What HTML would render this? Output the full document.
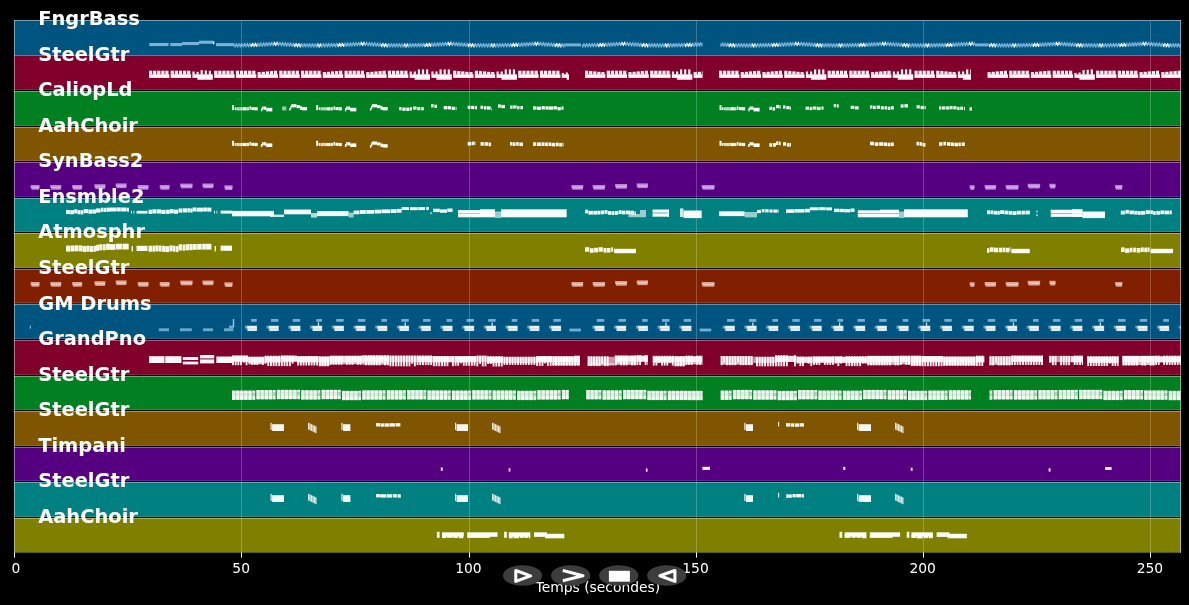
<!DOCTYPE html>
<html lang="fr">
<head>
<meta charset="utf-8">
<title>Piano roll</title>
<style>
html,body{margin:0;padding:0;background:#000;}
body{width:1189px;height:605px;overflow:hidden;position:relative;font-family:"DejaVu Sans","Liberation Sans",sans-serif;}
</style>
</head>
<body>
<svg width="1189" height="605" viewBox="0 0 1189 605" style="position:absolute;left:0;top:0">
<rect x="0" y="0" width="1189" height="605" fill="#000"/>
<rect x="14.00" y="20.00" width="1167.00" height="35.28" fill="#005580"/>
<rect x="14.00" y="55.23" width="1167.00" height="35.58" fill="#80002b"/>
<rect x="14.00" y="90.77" width="1167.00" height="35.58" fill="#008020"/>
<rect x="14.00" y="126.30" width="1167.00" height="35.58" fill="#805500"/>
<rect x="14.00" y="161.83" width="1167.00" height="35.58" fill="#550080"/>
<rect x="14.00" y="197.37" width="1167.00" height="35.58" fill="#008080"/>
<rect x="14.00" y="232.90" width="1167.00" height="35.58" fill="#808000"/>
<rect x="14.00" y="268.43" width="1167.00" height="35.58" fill="#802000"/>
<rect x="14.00" y="303.97" width="1167.00" height="35.58" fill="#005580"/>
<rect x="14.00" y="339.50" width="1167.00" height="35.58" fill="#80002b"/>
<rect x="14.00" y="375.03" width="1167.00" height="35.58" fill="#008020"/>
<rect x="14.00" y="410.57" width="1167.00" height="35.58" fill="#805500"/>
<rect x="14.00" y="446.10" width="1167.00" height="35.58" fill="#550080"/>
<rect x="14.00" y="481.63" width="1167.00" height="35.58" fill="#008080"/>
<rect x="14.00" y="517.17" width="1167.00" height="35.53" fill="#808000"/>
<g shape-rendering="crispEdges">
<rect x="14.0" y="55" width="1167.0" height="1" fill="#fff" fill-opacity="0.36"/>
<rect x="14.0" y="89" width="1167.0" height="1" fill="#fff" fill-opacity="0.12"/>
<rect x="14.0" y="90" width="1167.0" height="1" fill="#000" fill-opacity="1.00"/>
<rect x="14.0" y="91" width="1167.0" height="1" fill="#fff" fill-opacity="0.36"/>
<rect x="14.0" y="125" width="1167.0" height="1" fill="#fff" fill-opacity="0.12"/>
<rect x="14.0" y="126" width="1167.0" height="1" fill="#000" fill-opacity="1.00"/>
<rect x="14.0" y="127" width="1167.0" height="1" fill="#fff" fill-opacity="0.36"/>
<rect x="14.0" y="160" width="1167.0" height="1" fill="#fff" fill-opacity="0.12"/>
<rect x="14.0" y="161" width="1167.0" height="1" fill="#000" fill-opacity="1.00"/>
<rect x="14.0" y="162" width="1167.0" height="1" fill="#fff" fill-opacity="0.36"/>
<rect x="14.0" y="196" width="1167.0" height="1" fill="#fff" fill-opacity="0.12"/>
<rect x="14.0" y="197" width="1167.0" height="1" fill="#000" fill-opacity="1.00"/>
<rect x="14.0" y="198" width="1167.0" height="1" fill="#fff" fill-opacity="0.36"/>
<rect x="14.0" y="231" width="1167.0" height="1" fill="#fff" fill-opacity="0.12"/>
<rect x="14.0" y="232" width="1167.0" height="1" fill="#000" fill-opacity="1.00"/>
<rect x="14.0" y="233" width="1167.0" height="1" fill="#fff" fill-opacity="0.36"/>
<rect x="14.0" y="267" width="1167.0" height="1" fill="#fff" fill-opacity="0.12"/>
<rect x="14.0" y="268" width="1167.0" height="1" fill="#000" fill-opacity="1.00"/>
<rect x="14.0" y="269" width="1167.0" height="1" fill="#fff" fill-opacity="0.36"/>
<rect x="14.0" y="302" width="1167.0" height="1" fill="#fff" fill-opacity="0.12"/>
<rect x="14.0" y="303" width="1167.0" height="1" fill="#000" fill-opacity="0.30"/>
<rect x="14.0" y="304" width="1167.0" height="1" fill="#fff" fill-opacity="0.36"/>
<rect x="14.0" y="338" width="1167.0" height="1" fill="#fff" fill-opacity="0.12"/>
<rect x="14.0" y="339" width="1167.0" height="1" fill="#000" fill-opacity="1.00"/>
<rect x="14.0" y="340" width="1167.0" height="1" fill="#fff" fill-opacity="0.36"/>
<rect x="14.0" y="374" width="1167.0" height="1" fill="#fff" fill-opacity="0.12"/>
<rect x="14.0" y="375" width="1167.0" height="1" fill="#000" fill-opacity="1.00"/>
<rect x="14.0" y="376" width="1167.0" height="1" fill="#fff" fill-opacity="0.36"/>
<rect x="14.0" y="409" width="1167.0" height="1" fill="#fff" fill-opacity="0.12"/>
<rect x="14.0" y="410" width="1167.0" height="1" fill="#000" fill-opacity="1.00"/>
<rect x="14.0" y="411" width="1167.0" height="1" fill="#fff" fill-opacity="0.36"/>
<rect x="14.0" y="445" width="1167.0" height="1" fill="#fff" fill-opacity="0.12"/>
<rect x="14.0" y="446" width="1167.0" height="1" fill="#000" fill-opacity="1.00"/>
<rect x="14.0" y="447" width="1167.0" height="1" fill="#fff" fill-opacity="0.36"/>
<rect x="14.0" y="480" width="1167.0" height="1" fill="#fff" fill-opacity="0.12"/>
<rect x="14.0" y="481" width="1167.0" height="1" fill="#000" fill-opacity="1.00"/>
<rect x="14.0" y="482" width="1167.0" height="1" fill="#fff" fill-opacity="0.36"/>
<rect x="14.0" y="516" width="1167.0" height="1" fill="#fff" fill-opacity="0.12"/>
<rect x="14.0" y="517" width="1167.0" height="1" fill="#000" fill-opacity="1.00"/>
<rect x="14.0" y="518" width="1167.0" height="1" fill="#fff" fill-opacity="0.36"/>
<rect x="241" y="21" width="1" height="531.7" fill="#fff" fill-opacity="0.22"/>
<rect x="469" y="21" width="1" height="531.7" fill="#fff" fill-opacity="0.22"/>
<rect x="696" y="21" width="1" height="531.7" fill="#fff" fill-opacity="0.22"/>
<rect x="923" y="21" width="1" height="531.7" fill="#fff" fill-opacity="0.22"/>
<rect x="1150" y="21" width="1" height="531.7" fill="#fff" fill-opacity="0.22"/>
<rect x="14" y="20" width="1" height="532.7" fill="#fff" fill-opacity="0.45"/>
<rect x="1180" y="20" width="1" height="532.7" fill="#fff" fill-opacity="0.45"/>
<rect x="14" y="20" width="1167" height="1" fill="#fff" fill-opacity="0.45"/>
</g>
<g fill="#fff">
<rect x="149.3" y="43.0" width="19.3" height="3.1" fill="#a0d2f5" fill-opacity="0.75"/>
<rect x="170.3" y="43.0" width="11.7" height="3.1" fill="#a0d2f5" fill-opacity="0.75"/>
<rect x="182.0" y="42.0" width="10.0" height="3.1" fill="#a0d2f5" fill-opacity="0.75"/>
<rect x="192.0" y="42.0" width="7.0" height="3.1" fill="#a0d2f5" fill-opacity="0.75"/>
<rect x="199.0" y="40.7" width="14.0" height="3.1" fill="#a0d2f5" fill-opacity="0.75"/>
<rect x="216.0" y="43.1" width="17.0" height="3.1" fill="#a0d2f5" fill-opacity="0.75"/>
<rect x="213.0" y="41.2" width="1.3" height="3.2" fill-opacity="0.90"/>
<rect x="233.0" y="43.2" width="1.4" height="3.2" fill="#a0d2f5" fill-opacity="0.78"/>
<rect x="234.4" y="44.4" width="1.4" height="3.2" fill="#a0d2f5" fill-opacity="0.78"/>
<rect x="235.7" y="43.1" width="1.4" height="3.2" fill="#a0d2f5" fill-opacity="0.78"/>
<rect x="237.1" y="44.3" width="1.4" height="3.2" fill="#a0d2f5" fill-opacity="0.78"/>
<rect x="238.4" y="43.1" width="1.4" height="3.2" fill="#a0d2f5" fill-opacity="0.78"/>
<rect x="239.8" y="44.2" width="1.4" height="3.2" fill="#a0d2f5" fill-opacity="0.78"/>
<rect x="241.1" y="43.0" width="1.4" height="3.2" fill="#a0d2f5" fill-opacity="0.78"/>
<rect x="242.5" y="44.2" width="1.4" height="3.2" fill="#a0d2f5" fill-opacity="0.78"/>
<rect x="243.9" y="42.9" width="1.4" height="3.2" fill="#a0d2f5" fill-opacity="0.78"/>
<rect x="245.2" y="44.1" width="1.4" height="3.2" fill="#a0d2f5" fill-opacity="0.78"/>
<rect x="246.6" y="42.9" width="1.4" height="3.2" fill="#a0d2f5" fill-opacity="0.78"/>
<rect x="247.9" y="44.1" width="1.4" height="3.2" fill="#a0d2f5" fill-opacity="0.78"/>
<rect x="249.3" y="42.8" width="1.4" height="3.2" fill="#a0d2f5" fill-opacity="0.78"/>
<rect x="250.6" y="44.0" width="1.4" height="3.2" fill-opacity="0.95"/>
<rect x="252.0" y="42.8" width="1.4" height="3.2" fill-opacity="0.95"/>
<rect x="253.4" y="43.9" width="1.4" height="3.2" fill-opacity="0.95"/>
<rect x="254.7" y="42.7" width="1.4" height="3.2" fill-opacity="0.95"/>
<rect x="256.1" y="43.8" width="1.4" height="3.2" fill-opacity="0.95"/>
<rect x="257.4" y="42.6" width="1.4" height="3.2" fill="#a0d2f5" fill-opacity="0.78"/>
<rect x="258.8" y="43.7" width="1.4" height="3.2" fill="#a0d2f5" fill-opacity="0.78"/>
<rect x="260.1" y="42.4" width="1.4" height="3.2" fill="#a0d2f5" fill-opacity="0.78"/>
<rect x="261.5" y="43.6" width="1.4" height="3.2" fill="#a0d2f5" fill-opacity="0.78"/>
<rect x="262.9" y="42.3" width="1.4" height="3.2" fill="#a0d2f5" fill-opacity="0.78"/>
<rect x="264.2" y="43.4" width="1.4" height="3.2" fill="#a0d2f5" fill-opacity="0.78"/>
<rect x="265.6" y="42.1" width="1.4" height="3.2" fill="#a0d2f5" fill-opacity="0.78"/>
<rect x="266.9" y="43.3" width="1.4" height="3.2" fill="#a0d2f5" fill-opacity="0.78"/>
<rect x="268.3" y="42.0" width="1.4" height="3.2" fill="#a0d2f5" fill-opacity="0.78"/>
<rect x="269.7" y="43.1" width="1.4" height="3.2" fill="#a0d2f5" fill-opacity="0.78"/>
<rect x="271.0" y="41.9" width="1.4" height="3.2" fill="#a0d2f5" fill-opacity="0.78"/>
<rect x="272.4" y="43.0" width="1.4" height="3.2" fill="#a0d2f5" fill-opacity="0.78"/>
<rect x="273.7" y="41.7" width="1.4" height="3.2" fill-opacity="0.95"/>
<rect x="275.1" y="42.9" width="1.4" height="3.2" fill-opacity="0.95"/>
<rect x="276.4" y="41.6" width="1.4" height="3.2" fill-opacity="0.95"/>
<rect x="277.8" y="42.9" width="1.4" height="3.2" fill="#a0d2f5" fill-opacity="0.78"/>
<rect x="279.2" y="41.8" width="1.4" height="3.2" fill="#a0d2f5" fill-opacity="0.78"/>
<rect x="280.5" y="43.1" width="1.4" height="3.2" fill="#a0d2f5" fill-opacity="0.78"/>
<rect x="281.9" y="42.0" width="1.4" height="3.2" fill="#a0d2f5" fill-opacity="0.78"/>
<rect x="283.2" y="43.3" width="1.4" height="3.2" fill="#a0d2f5" fill-opacity="0.78"/>
<rect x="284.6" y="42.2" width="1.4" height="3.2" fill="#a0d2f5" fill-opacity="0.78"/>
<rect x="285.9" y="43.5" width="1.4" height="3.2" fill="#a0d2f5" fill-opacity="0.78"/>
<rect x="287.3" y="42.3" width="1.4" height="3.2" fill="#a0d2f5" fill-opacity="0.78"/>
<rect x="288.7" y="43.6" width="1.4" height="3.2" fill="#a0d2f5" fill-opacity="0.78"/>
<rect x="290.0" y="42.5" width="1.4" height="3.2" fill="#a0d2f5" fill-opacity="0.78"/>
<rect x="291.4" y="43.8" width="1.4" height="3.2" fill="#a0d2f5" fill-opacity="0.78"/>
<rect x="292.7" y="42.7" width="1.4" height="3.2" fill="#a0d2f5" fill-opacity="0.78"/>
<rect x="294.1" y="44.0" width="1.4" height="3.2" fill-opacity="0.95"/>
<rect x="295.4" y="42.9" width="1.4" height="3.2" fill-opacity="0.95"/>
<rect x="296.8" y="44.2" width="1.4" height="3.2" fill-opacity="0.95"/>
<rect x="298.2" y="43.1" width="1.4" height="3.2" fill-opacity="0.95"/>
<rect x="299.5" y="44.3" width="1.4" height="3.2" fill-opacity="0.95"/>
<rect x="300.9" y="43.1" width="1.4" height="3.2" fill="#a0d2f5" fill-opacity="0.78"/>
<rect x="302.2" y="44.3" width="1.4" height="3.2" fill="#a0d2f5" fill-opacity="0.78"/>
<rect x="303.6" y="43.1" width="1.4" height="3.2" fill="#a0d2f5" fill-opacity="0.78"/>
<rect x="304.9" y="44.3" width="1.4" height="3.2" fill="#a0d2f5" fill-opacity="0.78"/>
<rect x="306.3" y="43.1" width="1.4" height="3.2" fill="#a0d2f5" fill-opacity="0.78"/>
<rect x="307.7" y="44.3" width="1.4" height="3.2" fill="#a0d2f5" fill-opacity="0.78"/>
<rect x="309.0" y="43.1" width="1.4" height="3.2" fill="#a0d2f5" fill-opacity="0.78"/>
<rect x="310.4" y="44.4" width="1.4" height="3.2" fill="#a0d2f5" fill-opacity="0.78"/>
<rect x="311.7" y="43.2" width="1.4" height="3.2" fill="#a0d2f5" fill-opacity="0.78"/>
<rect x="313.1" y="44.4" width="1.4" height="3.2" fill="#a0d2f5" fill-opacity="0.78"/>
<rect x="314.4" y="43.2" width="1.4" height="3.2" fill="#a0d2f5" fill-opacity="0.78"/>
<rect x="315.8" y="44.4" width="1.4" height="3.2" fill="#a0d2f5" fill-opacity="0.78"/>
<rect x="317.2" y="43.2" width="1.4" height="3.2" fill-opacity="0.95"/>
<rect x="318.5" y="44.4" width="1.4" height="3.2" fill-opacity="0.95"/>
<rect x="319.9" y="43.2" width="1.4" height="3.2" fill-opacity="0.95"/>
<rect x="321.2" y="44.4" width="1.4" height="3.2" fill="#a0d2f5" fill-opacity="0.78"/>
<rect x="322.6" y="43.1" width="1.4" height="3.2" fill="#a0d2f5" fill-opacity="0.78"/>
<rect x="324.0" y="44.3" width="1.4" height="3.2" fill="#a0d2f5" fill-opacity="0.78"/>
<rect x="325.3" y="43.1" width="1.4" height="3.2" fill="#a0d2f5" fill-opacity="0.78"/>
<rect x="326.7" y="44.2" width="1.4" height="3.2" fill="#a0d2f5" fill-opacity="0.78"/>
<rect x="328.0" y="43.0" width="1.4" height="3.2" fill="#a0d2f5" fill-opacity="0.78"/>
<rect x="329.4" y="44.2" width="1.4" height="3.2" fill="#a0d2f5" fill-opacity="0.78"/>
<rect x="330.7" y="42.9" width="1.4" height="3.2" fill="#a0d2f5" fill-opacity="0.78"/>
<rect x="332.1" y="44.1" width="1.4" height="3.2" fill="#a0d2f5" fill-opacity="0.78"/>
<rect x="333.5" y="42.9" width="1.4" height="3.2" fill="#a0d2f5" fill-opacity="0.78"/>
<rect x="334.8" y="44.1" width="1.4" height="3.2" fill="#a0d2f5" fill-opacity="0.78"/>
<rect x="336.2" y="42.8" width="1.4" height="3.2" fill="#a0d2f5" fill-opacity="0.78"/>
<rect x="337.5" y="44.0" width="1.4" height="3.2" fill-opacity="0.95"/>
<rect x="338.9" y="42.8" width="1.4" height="3.2" fill-opacity="0.95"/>
<rect x="340.2" y="43.9" width="1.4" height="3.2" fill-opacity="0.95"/>
<rect x="341.6" y="42.7" width="1.4" height="3.2" fill-opacity="0.95"/>
<rect x="343.0" y="43.8" width="1.4" height="3.2" fill-opacity="0.95"/>
<rect x="344.3" y="42.6" width="1.4" height="3.2" fill="#a0d2f5" fill-opacity="0.78"/>
<rect x="345.7" y="43.7" width="1.4" height="3.2" fill="#a0d2f5" fill-opacity="0.78"/>
<rect x="347.0" y="42.4" width="1.4" height="3.2" fill="#a0d2f5" fill-opacity="0.78"/>
<rect x="348.4" y="43.6" width="1.4" height="3.2" fill="#a0d2f5" fill-opacity="0.78"/>
<rect x="349.7" y="42.3" width="1.4" height="3.2" fill="#a0d2f5" fill-opacity="0.78"/>
<rect x="351.1" y="43.4" width="1.4" height="3.2" fill="#a0d2f5" fill-opacity="0.78"/>
<rect x="352.5" y="42.1" width="1.4" height="3.2" fill="#a0d2f5" fill-opacity="0.78"/>
<rect x="353.8" y="43.3" width="1.4" height="3.2" fill="#a0d2f5" fill-opacity="0.78"/>
<rect x="355.2" y="42.0" width="1.4" height="3.2" fill="#a0d2f5" fill-opacity="0.78"/>
<rect x="356.5" y="43.1" width="1.4" height="3.2" fill="#a0d2f5" fill-opacity="0.78"/>
<rect x="357.9" y="41.9" width="1.4" height="3.2" fill="#a0d2f5" fill-opacity="0.78"/>
<rect x="359.2" y="43.0" width="1.4" height="3.2" fill="#a0d2f5" fill-opacity="0.78"/>
<rect x="360.6" y="41.7" width="1.4" height="3.2" fill-opacity="0.95"/>
<rect x="362.0" y="42.9" width="1.4" height="3.2" fill-opacity="0.95"/>
<rect x="363.3" y="41.6" width="1.4" height="3.2" fill-opacity="0.95"/>
<rect x="364.7" y="42.9" width="1.4" height="3.2" fill="#a0d2f5" fill-opacity="0.78"/>
<rect x="366.0" y="41.8" width="1.4" height="3.2" fill="#a0d2f5" fill-opacity="0.78"/>
<rect x="367.4" y="43.1" width="1.4" height="3.2" fill="#a0d2f5" fill-opacity="0.78"/>
<rect x="368.8" y="42.0" width="1.4" height="3.2" fill="#a0d2f5" fill-opacity="0.78"/>
<rect x="370.1" y="43.3" width="1.4" height="3.2" fill="#a0d2f5" fill-opacity="0.78"/>
<rect x="371.5" y="42.2" width="1.4" height="3.2" fill="#a0d2f5" fill-opacity="0.78"/>
<rect x="372.8" y="43.5" width="1.4" height="3.2" fill="#a0d2f5" fill-opacity="0.78"/>
<rect x="374.2" y="42.3" width="1.4" height="3.2" fill="#a0d2f5" fill-opacity="0.78"/>
<rect x="375.5" y="43.6" width="1.4" height="3.2" fill="#a0d2f5" fill-opacity="0.78"/>
<rect x="376.9" y="42.5" width="1.4" height="3.2" fill="#a0d2f5" fill-opacity="0.78"/>
<rect x="378.3" y="43.8" width="1.4" height="3.2" fill="#a0d2f5" fill-opacity="0.78"/>
<rect x="379.6" y="42.7" width="1.4" height="3.2" fill="#a0d2f5" fill-opacity="0.78"/>
<rect x="381.0" y="44.0" width="1.4" height="3.2" fill-opacity="0.95"/>
<rect x="382.3" y="42.9" width="1.4" height="3.2" fill-opacity="0.95"/>
<rect x="383.7" y="44.2" width="1.4" height="3.2" fill-opacity="0.95"/>
<rect x="385.0" y="43.1" width="1.4" height="3.2" fill-opacity="0.95"/>
<rect x="386.4" y="44.3" width="1.4" height="3.2" fill-opacity="0.95"/>
<rect x="387.8" y="43.1" width="1.4" height="3.2" fill="#a0d2f5" fill-opacity="0.78"/>
<rect x="389.1" y="44.3" width="1.4" height="3.2" fill="#a0d2f5" fill-opacity="0.78"/>
<rect x="390.5" y="43.1" width="1.4" height="3.2" fill="#a0d2f5" fill-opacity="0.78"/>
<rect x="391.8" y="44.3" width="1.4" height="3.2" fill="#a0d2f5" fill-opacity="0.78"/>
<rect x="393.2" y="43.1" width="1.4" height="3.2" fill="#a0d2f5" fill-opacity="0.78"/>
<rect x="394.5" y="44.3" width="1.4" height="3.2" fill="#a0d2f5" fill-opacity="0.78"/>
<rect x="395.9" y="43.1" width="1.4" height="3.2" fill="#a0d2f5" fill-opacity="0.78"/>
<rect x="397.3" y="44.4" width="1.4" height="3.2" fill="#a0d2f5" fill-opacity="0.78"/>
<rect x="398.6" y="43.2" width="1.4" height="3.2" fill="#a0d2f5" fill-opacity="0.78"/>
<rect x="400.0" y="44.4" width="1.4" height="3.2" fill="#a0d2f5" fill-opacity="0.78"/>
<rect x="401.3" y="43.2" width="1.4" height="3.2" fill="#a0d2f5" fill-opacity="0.78"/>
<rect x="402.7" y="44.4" width="1.4" height="3.2" fill="#a0d2f5" fill-opacity="0.78"/>
<rect x="404.0" y="43.2" width="1.4" height="3.2" fill-opacity="0.95"/>
<rect x="405.4" y="44.4" width="1.4" height="3.2" fill-opacity="0.95"/>
<rect x="406.8" y="43.2" width="1.4" height="3.2" fill-opacity="0.95"/>
<rect x="408.1" y="44.4" width="1.4" height="3.2" fill="#a0d2f5" fill-opacity="0.78"/>
<rect x="409.5" y="43.1" width="1.4" height="3.2" fill="#a0d2f5" fill-opacity="0.78"/>
<rect x="410.8" y="44.3" width="1.4" height="3.2" fill="#a0d2f5" fill-opacity="0.78"/>
<rect x="412.2" y="43.1" width="1.4" height="3.2" fill="#a0d2f5" fill-opacity="0.78"/>
<rect x="413.5" y="44.2" width="1.4" height="3.2" fill="#a0d2f5" fill-opacity="0.78"/>
<rect x="414.9" y="43.0" width="1.4" height="3.2" fill="#a0d2f5" fill-opacity="0.78"/>
<rect x="416.3" y="44.2" width="1.4" height="3.2" fill="#a0d2f5" fill-opacity="0.78"/>
<rect x="417.6" y="42.9" width="1.4" height="3.2" fill="#a0d2f5" fill-opacity="0.78"/>
<rect x="419.0" y="44.1" width="1.4" height="3.2" fill="#a0d2f5" fill-opacity="0.78"/>
<rect x="420.3" y="42.9" width="1.4" height="3.2" fill="#a0d2f5" fill-opacity="0.78"/>
<rect x="421.7" y="44.1" width="1.4" height="3.2" fill="#a0d2f5" fill-opacity="0.78"/>
<rect x="423.0" y="42.8" width="1.4" height="3.2" fill="#a0d2f5" fill-opacity="0.78"/>
<rect x="424.4" y="44.0" width="1.4" height="3.2" fill-opacity="0.95"/>
<rect x="425.8" y="42.8" width="1.4" height="3.2" fill-opacity="0.95"/>
<rect x="427.1" y="43.9" width="1.4" height="3.2" fill-opacity="0.95"/>
<rect x="428.5" y="42.7" width="1.4" height="3.2" fill-opacity="0.95"/>
<rect x="429.8" y="43.8" width="1.4" height="3.2" fill-opacity="0.95"/>
<rect x="431.2" y="42.6" width="1.4" height="3.2" fill="#a0d2f5" fill-opacity="0.78"/>
<rect x="432.6" y="43.7" width="1.4" height="3.2" fill="#a0d2f5" fill-opacity="0.78"/>
<rect x="433.9" y="42.4" width="1.4" height="3.2" fill="#a0d2f5" fill-opacity="0.78"/>
<rect x="435.3" y="43.6" width="1.4" height="3.2" fill="#a0d2f5" fill-opacity="0.78"/>
<rect x="436.6" y="42.3" width="1.4" height="3.2" fill="#a0d2f5" fill-opacity="0.78"/>
<rect x="438.0" y="43.4" width="1.4" height="3.2" fill="#a0d2f5" fill-opacity="0.78"/>
<rect x="439.3" y="42.1" width="1.4" height="3.2" fill="#a0d2f5" fill-opacity="0.78"/>
<rect x="440.7" y="43.3" width="1.4" height="3.2" fill="#a0d2f5" fill-opacity="0.78"/>
<rect x="442.1" y="42.0" width="1.4" height="3.2" fill="#a0d2f5" fill-opacity="0.78"/>
<rect x="443.4" y="43.1" width="1.4" height="3.2" fill="#a0d2f5" fill-opacity="0.78"/>
<rect x="444.8" y="41.9" width="1.4" height="3.2" fill="#a0d2f5" fill-opacity="0.78"/>
<rect x="446.1" y="43.0" width="1.4" height="3.2" fill="#a0d2f5" fill-opacity="0.78"/>
<rect x="447.5" y="41.7" width="1.4" height="3.2" fill-opacity="0.95"/>
<rect x="448.8" y="42.9" width="1.4" height="3.2" fill-opacity="0.95"/>
<rect x="450.2" y="41.6" width="1.4" height="3.2" fill-opacity="0.95"/>
<rect x="451.6" y="42.9" width="1.4" height="3.2" fill="#a0d2f5" fill-opacity="0.78"/>
<rect x="452.9" y="41.8" width="1.4" height="3.2" fill="#a0d2f5" fill-opacity="0.78"/>
<rect x="454.3" y="43.1" width="1.4" height="3.2" fill="#a0d2f5" fill-opacity="0.78"/>
<rect x="455.6" y="42.0" width="1.4" height="3.2" fill="#a0d2f5" fill-opacity="0.78"/>
<rect x="457.0" y="43.3" width="1.4" height="3.2" fill="#a0d2f5" fill-opacity="0.78"/>
<rect x="458.3" y="42.2" width="1.4" height="3.2" fill="#a0d2f5" fill-opacity="0.78"/>
<rect x="459.7" y="43.5" width="1.4" height="3.2" fill="#a0d2f5" fill-opacity="0.78"/>
<rect x="461.1" y="42.3" width="1.4" height="3.2" fill="#a0d2f5" fill-opacity="0.78"/>
<rect x="462.4" y="43.6" width="1.4" height="3.2" fill="#a0d2f5" fill-opacity="0.78"/>
<rect x="463.8" y="42.5" width="1.4" height="3.2" fill="#a0d2f5" fill-opacity="0.78"/>
<rect x="465.1" y="43.8" width="1.4" height="3.2" fill="#a0d2f5" fill-opacity="0.78"/>
<rect x="466.5" y="42.7" width="1.4" height="3.2" fill="#a0d2f5" fill-opacity="0.78"/>
<rect x="467.8" y="44.0" width="1.4" height="3.2" fill-opacity="0.95"/>
<rect x="469.2" y="42.9" width="1.4" height="3.2" fill-opacity="0.95"/>
<rect x="470.6" y="44.2" width="1.4" height="3.2" fill-opacity="0.95"/>
<rect x="471.9" y="43.1" width="1.4" height="3.2" fill-opacity="0.95"/>
<rect x="473.3" y="44.3" width="1.4" height="3.2" fill-opacity="0.95"/>
<rect x="474.6" y="43.1" width="1.4" height="3.2" fill="#a0d2f5" fill-opacity="0.78"/>
<rect x="476.0" y="44.3" width="1.4" height="3.2" fill="#a0d2f5" fill-opacity="0.78"/>
<rect x="477.4" y="43.1" width="1.4" height="3.2" fill="#a0d2f5" fill-opacity="0.78"/>
<rect x="478.7" y="44.3" width="1.4" height="3.2" fill="#a0d2f5" fill-opacity="0.78"/>
<rect x="480.1" y="43.1" width="1.4" height="3.2" fill="#a0d2f5" fill-opacity="0.78"/>
<rect x="481.4" y="44.3" width="1.4" height="3.2" fill="#a0d2f5" fill-opacity="0.78"/>
<rect x="482.8" y="43.1" width="1.4" height="3.2" fill="#a0d2f5" fill-opacity="0.78"/>
<rect x="484.1" y="44.4" width="1.4" height="3.2" fill="#a0d2f5" fill-opacity="0.78"/>
<rect x="485.5" y="43.2" width="1.4" height="3.2" fill="#a0d2f5" fill-opacity="0.78"/>
<rect x="486.9" y="44.4" width="1.4" height="3.2" fill="#a0d2f5" fill-opacity="0.78"/>
<rect x="488.2" y="43.2" width="1.4" height="3.2" fill="#a0d2f5" fill-opacity="0.78"/>
<rect x="489.6" y="44.4" width="1.4" height="3.2" fill="#a0d2f5" fill-opacity="0.78"/>
<rect x="490.9" y="43.2" width="1.4" height="3.2" fill-opacity="0.95"/>
<rect x="492.3" y="44.4" width="1.4" height="3.2" fill-opacity="0.95"/>
<rect x="493.6" y="43.2" width="1.4" height="3.2" fill-opacity="0.95"/>
<rect x="495.0" y="44.4" width="1.4" height="3.2" fill="#a0d2f5" fill-opacity="0.78"/>
<rect x="496.4" y="43.1" width="1.4" height="3.2" fill="#a0d2f5" fill-opacity="0.78"/>
<rect x="497.7" y="44.3" width="1.4" height="3.2" fill="#a0d2f5" fill-opacity="0.78"/>
<rect x="499.1" y="43.1" width="1.4" height="3.2" fill="#a0d2f5" fill-opacity="0.78"/>
<rect x="500.4" y="44.2" width="1.4" height="3.2" fill="#a0d2f5" fill-opacity="0.78"/>
<rect x="501.8" y="43.0" width="1.4" height="3.2" fill="#a0d2f5" fill-opacity="0.78"/>
<rect x="503.1" y="44.2" width="1.4" height="3.2" fill="#a0d2f5" fill-opacity="0.78"/>
<rect x="504.5" y="42.9" width="1.4" height="3.2" fill="#a0d2f5" fill-opacity="0.78"/>
<rect x="505.9" y="44.1" width="1.4" height="3.2" fill="#a0d2f5" fill-opacity="0.78"/>
<rect x="507.2" y="42.9" width="1.4" height="3.2" fill="#a0d2f5" fill-opacity="0.78"/>
<rect x="508.6" y="44.1" width="1.4" height="3.2" fill="#a0d2f5" fill-opacity="0.78"/>
<rect x="509.9" y="42.8" width="1.4" height="3.2" fill="#a0d2f5" fill-opacity="0.78"/>
<rect x="511.3" y="44.0" width="1.4" height="3.2" fill-opacity="0.95"/>
<rect x="512.6" y="42.8" width="1.4" height="3.2" fill-opacity="0.95"/>
<rect x="514.0" y="43.9" width="1.4" height="3.2" fill-opacity="0.95"/>
<rect x="515.4" y="42.7" width="1.4" height="3.2" fill-opacity="0.95"/>
<rect x="516.7" y="43.8" width="1.4" height="3.2" fill-opacity="0.95"/>
<rect x="518.1" y="42.6" width="1.4" height="3.2" fill="#a0d2f5" fill-opacity="0.78"/>
<rect x="519.4" y="43.7" width="1.4" height="3.2" fill="#a0d2f5" fill-opacity="0.78"/>
<rect x="520.8" y="42.4" width="1.4" height="3.2" fill="#a0d2f5" fill-opacity="0.78"/>
<rect x="522.1" y="43.6" width="1.4" height="3.2" fill="#a0d2f5" fill-opacity="0.78"/>
<rect x="523.5" y="42.3" width="1.4" height="3.2" fill="#a0d2f5" fill-opacity="0.78"/>
<rect x="524.9" y="43.4" width="1.4" height="3.2" fill="#a0d2f5" fill-opacity="0.78"/>
<rect x="526.2" y="42.1" width="1.4" height="3.2" fill="#a0d2f5" fill-opacity="0.78"/>
<rect x="527.6" y="43.3" width="1.4" height="3.2" fill="#a0d2f5" fill-opacity="0.78"/>
<rect x="528.9" y="42.0" width="1.4" height="3.2" fill="#a0d2f5" fill-opacity="0.78"/>
<rect x="530.3" y="43.1" width="1.4" height="3.2" fill="#a0d2f5" fill-opacity="0.78"/>
<rect x="531.6" y="41.9" width="1.4" height="3.2" fill="#a0d2f5" fill-opacity="0.78"/>
<rect x="533.0" y="43.0" width="1.4" height="3.2" fill="#a0d2f5" fill-opacity="0.78"/>
<rect x="534.4" y="41.7" width="1.4" height="3.2" fill-opacity="0.95"/>
<rect x="535.7" y="42.9" width="1.4" height="3.2" fill-opacity="0.95"/>
<rect x="537.1" y="41.6" width="1.4" height="3.2" fill-opacity="0.95"/>
<rect x="538.4" y="42.9" width="1.4" height="3.2" fill="#a0d2f5" fill-opacity="0.78"/>
<rect x="539.8" y="41.8" width="1.4" height="3.2" fill="#a0d2f5" fill-opacity="0.78"/>
<rect x="541.2" y="43.1" width="1.4" height="3.2" fill="#a0d2f5" fill-opacity="0.78"/>
<rect x="542.5" y="42.0" width="1.4" height="3.2" fill="#a0d2f5" fill-opacity="0.78"/>
<rect x="543.9" y="43.3" width="1.4" height="3.2" fill="#a0d2f5" fill-opacity="0.78"/>
<rect x="545.2" y="42.2" width="1.4" height="3.2" fill="#a0d2f5" fill-opacity="0.78"/>
<rect x="546.6" y="43.5" width="1.4" height="3.2" fill="#a0d2f5" fill-opacity="0.78"/>
<rect x="547.9" y="42.4" width="1.4" height="3.2" fill="#a0d2f5" fill-opacity="0.78"/>
<rect x="549.3" y="43.6" width="1.4" height="3.2" fill="#a0d2f5" fill-opacity="0.78"/>
<rect x="550.7" y="42.5" width="1.4" height="3.2" fill="#a0d2f5" fill-opacity="0.78"/>
<rect x="552.0" y="43.8" width="1.4" height="3.2" fill="#a0d2f5" fill-opacity="0.78"/>
<rect x="553.4" y="42.7" width="1.4" height="3.2" fill="#a0d2f5" fill-opacity="0.78"/>
<rect x="554.7" y="44.0" width="1.4" height="3.2" fill-opacity="0.95"/>
<rect x="556.1" y="42.9" width="1.4" height="3.2" fill-opacity="0.95"/>
<rect x="557.4" y="44.2" width="1.4" height="3.2" fill-opacity="0.95"/>
<rect x="558.8" y="43.1" width="1.4" height="3.2" fill-opacity="0.95"/>
<rect x="560.2" y="44.3" width="1.4" height="3.2" fill-opacity="0.95"/>
<rect x="561.5" y="43.1" width="1.4" height="3.2" fill="#a0d2f5" fill-opacity="0.78"/>
<rect x="562.9" y="44.3" width="1.4" height="3.2" fill="#a0d2f5" fill-opacity="0.78"/>
<rect x="564.2" y="43.1" width="1.4" height="3.2" fill="#a0d2f5" fill-opacity="0.78"/>
<rect x="565.6" y="44.3" width="0.4" height="3.2" fill="#a0d2f5" fill-opacity="0.78"/>
<rect x="566.0" y="43.4" width="15.0" height="3.0" fill="#a0d2f5" fill-opacity="0.72"/>
<rect x="581.9" y="44.4" width="1.4" height="3.2" fill="#a0d2f5" fill-opacity="0.78"/>
<rect x="583.2" y="43.1" width="1.4" height="3.2" fill="#a0d2f5" fill-opacity="0.78"/>
<rect x="584.6" y="44.3" width="1.4" height="3.2" fill="#a0d2f5" fill-opacity="0.78"/>
<rect x="586.0" y="43.1" width="1.4" height="3.2" fill="#a0d2f5" fill-opacity="0.78"/>
<rect x="587.3" y="44.2" width="1.4" height="3.2" fill="#a0d2f5" fill-opacity="0.78"/>
<rect x="588.7" y="43.0" width="1.4" height="3.2" fill="#a0d2f5" fill-opacity="0.78"/>
<rect x="590.0" y="44.2" width="1.4" height="3.2" fill="#a0d2f5" fill-opacity="0.78"/>
<rect x="591.4" y="42.9" width="1.4" height="3.2" fill="#a0d2f5" fill-opacity="0.78"/>
<rect x="592.7" y="44.1" width="1.4" height="3.2" fill="#a0d2f5" fill-opacity="0.78"/>
<rect x="594.1" y="42.9" width="1.4" height="3.2" fill="#a0d2f5" fill-opacity="0.78"/>
<rect x="595.5" y="44.1" width="1.4" height="3.2" fill="#a0d2f5" fill-opacity="0.78"/>
<rect x="596.8" y="42.8" width="1.4" height="3.2" fill="#a0d2f5" fill-opacity="0.78"/>
<rect x="598.2" y="44.0" width="1.4" height="3.2" fill-opacity="0.95"/>
<rect x="599.5" y="42.8" width="1.4" height="3.2" fill-opacity="0.95"/>
<rect x="600.9" y="43.9" width="1.4" height="3.2" fill-opacity="0.95"/>
<rect x="602.2" y="42.7" width="1.4" height="3.2" fill-opacity="0.95"/>
<rect x="603.6" y="43.8" width="1.4" height="3.2" fill-opacity="0.95"/>
<rect x="605.0" y="42.6" width="1.4" height="3.2" fill="#a0d2f5" fill-opacity="0.78"/>
<rect x="606.3" y="43.7" width="1.4" height="3.2" fill="#a0d2f5" fill-opacity="0.78"/>
<rect x="607.7" y="42.4" width="1.4" height="3.2" fill="#a0d2f5" fill-opacity="0.78"/>
<rect x="609.0" y="43.6" width="1.4" height="3.2" fill="#a0d2f5" fill-opacity="0.78"/>
<rect x="610.4" y="42.3" width="1.4" height="3.2" fill="#a0d2f5" fill-opacity="0.78"/>
<rect x="611.7" y="43.4" width="1.4" height="3.2" fill="#a0d2f5" fill-opacity="0.78"/>
<rect x="613.1" y="42.1" width="1.4" height="3.2" fill="#a0d2f5" fill-opacity="0.78"/>
<rect x="614.5" y="43.3" width="1.4" height="3.2" fill="#a0d2f5" fill-opacity="0.78"/>
<rect x="615.8" y="42.0" width="1.4" height="3.2" fill="#a0d2f5" fill-opacity="0.78"/>
<rect x="617.2" y="43.1" width="1.4" height="3.2" fill="#a0d2f5" fill-opacity="0.78"/>
<rect x="618.5" y="41.9" width="1.4" height="3.2" fill="#a0d2f5" fill-opacity="0.78"/>
<rect x="619.9" y="43.0" width="1.4" height="3.2" fill="#a0d2f5" fill-opacity="0.78"/>
<rect x="621.2" y="41.7" width="1.4" height="3.2" fill-opacity="0.95"/>
<rect x="622.6" y="42.9" width="1.4" height="3.2" fill-opacity="0.95"/>
<rect x="624.0" y="41.6" width="1.4" height="3.2" fill-opacity="0.95"/>
<rect x="625.3" y="42.9" width="1.4" height="3.2" fill="#a0d2f5" fill-opacity="0.78"/>
<rect x="626.7" y="41.8" width="1.4" height="3.2" fill="#a0d2f5" fill-opacity="0.78"/>
<rect x="628.0" y="43.1" width="1.4" height="3.2" fill="#a0d2f5" fill-opacity="0.78"/>
<rect x="629.4" y="42.0" width="1.4" height="3.2" fill="#a0d2f5" fill-opacity="0.78"/>
<rect x="630.7" y="43.3" width="1.4" height="3.2" fill="#a0d2f5" fill-opacity="0.78"/>
<rect x="632.1" y="42.2" width="1.4" height="3.2" fill="#a0d2f5" fill-opacity="0.78"/>
<rect x="633.5" y="43.5" width="1.4" height="3.2" fill="#a0d2f5" fill-opacity="0.78"/>
<rect x="634.8" y="42.3" width="1.4" height="3.2" fill="#a0d2f5" fill-opacity="0.78"/>
<rect x="636.2" y="43.6" width="1.4" height="3.2" fill="#a0d2f5" fill-opacity="0.78"/>
<rect x="637.5" y="42.5" width="1.4" height="3.2" fill="#a0d2f5" fill-opacity="0.78"/>
<rect x="638.9" y="43.8" width="1.4" height="3.2" fill="#a0d2f5" fill-opacity="0.78"/>
<rect x="640.2" y="42.7" width="1.4" height="3.2" fill="#a0d2f5" fill-opacity="0.78"/>
<rect x="641.6" y="44.0" width="1.4" height="3.2" fill-opacity="0.95"/>
<rect x="643.0" y="42.9" width="1.4" height="3.2" fill-opacity="0.95"/>
<rect x="644.3" y="44.2" width="1.4" height="3.2" fill-opacity="0.95"/>
<rect x="645.7" y="43.1" width="1.4" height="3.2" fill-opacity="0.95"/>
<rect x="647.0" y="44.3" width="1.4" height="3.2" fill-opacity="0.95"/>
<rect x="648.4" y="43.1" width="1.4" height="3.2" fill="#a0d2f5" fill-opacity="0.78"/>
<rect x="649.8" y="44.3" width="1.4" height="3.2" fill="#a0d2f5" fill-opacity="0.78"/>
<rect x="651.1" y="43.1" width="1.4" height="3.2" fill="#a0d2f5" fill-opacity="0.78"/>
<rect x="652.5" y="44.3" width="1.4" height="3.2" fill="#a0d2f5" fill-opacity="0.78"/>
<rect x="653.8" y="43.1" width="1.4" height="3.2" fill="#a0d2f5" fill-opacity="0.78"/>
<rect x="655.2" y="44.3" width="1.4" height="3.2" fill="#a0d2f5" fill-opacity="0.78"/>
<rect x="656.5" y="43.1" width="1.4" height="3.2" fill="#a0d2f5" fill-opacity="0.78"/>
<rect x="657.9" y="44.4" width="1.4" height="3.2" fill="#a0d2f5" fill-opacity="0.78"/>
<rect x="659.3" y="43.2" width="1.4" height="3.2" fill="#a0d2f5" fill-opacity="0.78"/>
<rect x="660.6" y="44.4" width="1.4" height="3.2" fill="#a0d2f5" fill-opacity="0.78"/>
<rect x="662.0" y="43.2" width="1.4" height="3.2" fill="#a0d2f5" fill-opacity="0.78"/>
<rect x="663.3" y="44.4" width="1.4" height="3.2" fill="#a0d2f5" fill-opacity="0.78"/>
<rect x="664.7" y="43.2" width="1.4" height="3.2" fill-opacity="0.95"/>
<rect x="666.0" y="44.4" width="1.4" height="3.2" fill-opacity="0.95"/>
<rect x="667.4" y="43.2" width="1.4" height="3.2" fill-opacity="0.95"/>
<rect x="668.8" y="44.4" width="1.4" height="3.2" fill="#a0d2f5" fill-opacity="0.78"/>
<rect x="670.1" y="43.1" width="1.4" height="3.2" fill="#a0d2f5" fill-opacity="0.78"/>
<rect x="671.5" y="44.3" width="1.4" height="3.2" fill="#a0d2f5" fill-opacity="0.78"/>
<rect x="672.8" y="43.1" width="1.4" height="3.2" fill="#a0d2f5" fill-opacity="0.78"/>
<rect x="674.2" y="44.2" width="1.4" height="3.2" fill="#a0d2f5" fill-opacity="0.78"/>
<rect x="675.5" y="43.0" width="1.4" height="3.2" fill="#a0d2f5" fill-opacity="0.78"/>
<rect x="676.9" y="44.2" width="1.4" height="3.2" fill="#a0d2f5" fill-opacity="0.78"/>
<rect x="678.3" y="42.9" width="1.4" height="3.2" fill="#a0d2f5" fill-opacity="0.78"/>
<rect x="679.6" y="44.1" width="1.4" height="3.2" fill="#a0d2f5" fill-opacity="0.78"/>
<rect x="681.0" y="42.9" width="1.4" height="3.2" fill="#a0d2f5" fill-opacity="0.78"/>
<rect x="682.3" y="44.1" width="1.4" height="3.2" fill="#a0d2f5" fill-opacity="0.78"/>
<rect x="683.7" y="42.8" width="1.4" height="3.2" fill="#a0d2f5" fill-opacity="0.78"/>
<rect x="685.0" y="44.0" width="1.4" height="3.2" fill-opacity="0.95"/>
<rect x="686.4" y="42.8" width="1.4" height="3.2" fill-opacity="0.95"/>
<rect x="687.8" y="43.9" width="1.4" height="3.2" fill-opacity="0.95"/>
<rect x="689.1" y="42.7" width="1.4" height="3.2" fill-opacity="0.95"/>
<rect x="690.5" y="43.8" width="1.4" height="3.2" fill-opacity="0.95"/>
<rect x="691.8" y="42.6" width="1.4" height="3.2" fill="#a0d2f5" fill-opacity="0.78"/>
<rect x="693.2" y="43.7" width="1.4" height="3.2" fill="#a0d2f5" fill-opacity="0.78"/>
<rect x="694.5" y="42.4" width="1.4" height="3.2" fill="#a0d2f5" fill-opacity="0.78"/>
<rect x="695.9" y="43.6" width="1.4" height="3.2" fill="#a0d2f5" fill-opacity="0.78"/>
<rect x="697.3" y="42.3" width="1.4" height="3.2" fill="#a0d2f5" fill-opacity="0.78"/>
<rect x="698.6" y="43.4" width="1.4" height="3.2" fill="#a0d2f5" fill-opacity="0.78"/>
<rect x="700.0" y="42.1" width="1.4" height="3.2" fill="#a0d2f5" fill-opacity="0.78"/>
<rect x="701.3" y="43.3" width="1.3" height="3.2" fill="#a0d2f5" fill-opacity="0.78"/>
<rect x="720.3" y="43.5" width="1.4" height="3.2" fill="#a0d2f5" fill-opacity="0.78"/>
<rect x="721.7" y="42.4" width="1.4" height="3.2" fill="#a0d2f5" fill-opacity="0.78"/>
<rect x="723.1" y="43.6" width="1.4" height="3.2" fill="#a0d2f5" fill-opacity="0.78"/>
<rect x="724.4" y="42.5" width="1.4" height="3.2" fill="#a0d2f5" fill-opacity="0.78"/>
<rect x="725.8" y="43.8" width="1.4" height="3.2" fill="#a0d2f5" fill-opacity="0.78"/>
<rect x="727.1" y="42.7" width="1.4" height="3.2" fill="#a0d2f5" fill-opacity="0.78"/>
<rect x="728.5" y="44.0" width="1.4" height="3.2" fill-opacity="0.95"/>
<rect x="729.8" y="42.9" width="1.4" height="3.2" fill-opacity="0.95"/>
<rect x="731.2" y="44.2" width="1.4" height="3.2" fill-opacity="0.95"/>
<rect x="732.6" y="43.1" width="1.4" height="3.2" fill-opacity="0.95"/>
<rect x="733.9" y="44.3" width="1.4" height="3.2" fill-opacity="0.95"/>
<rect x="735.3" y="43.1" width="1.4" height="3.2" fill="#a0d2f5" fill-opacity="0.78"/>
<rect x="736.6" y="44.3" width="1.4" height="3.2" fill="#a0d2f5" fill-opacity="0.78"/>
<rect x="738.0" y="43.1" width="1.4" height="3.2" fill="#a0d2f5" fill-opacity="0.78"/>
<rect x="739.3" y="44.3" width="1.4" height="3.2" fill="#a0d2f5" fill-opacity="0.78"/>
<rect x="740.7" y="43.1" width="1.4" height="3.2" fill="#a0d2f5" fill-opacity="0.78"/>
<rect x="742.1" y="44.3" width="1.4" height="3.2" fill="#a0d2f5" fill-opacity="0.78"/>
<rect x="743.4" y="43.1" width="1.4" height="3.2" fill="#a0d2f5" fill-opacity="0.78"/>
<rect x="744.8" y="44.4" width="1.4" height="3.2" fill="#a0d2f5" fill-opacity="0.78"/>
<rect x="746.1" y="43.2" width="1.4" height="3.2" fill="#a0d2f5" fill-opacity="0.78"/>
<rect x="747.5" y="44.4" width="1.4" height="3.2" fill="#a0d2f5" fill-opacity="0.78"/>
<rect x="748.9" y="43.2" width="1.4" height="3.2" fill="#a0d2f5" fill-opacity="0.78"/>
<rect x="750.2" y="44.4" width="1.4" height="3.2" fill="#a0d2f5" fill-opacity="0.78"/>
<rect x="751.6" y="43.2" width="1.4" height="3.2" fill-opacity="0.95"/>
<rect x="752.9" y="44.4" width="1.4" height="3.2" fill-opacity="0.95"/>
<rect x="754.3" y="43.2" width="1.4" height="3.2" fill-opacity="0.95"/>
<rect x="755.6" y="44.4" width="1.4" height="3.2" fill="#a0d2f5" fill-opacity="0.78"/>
<rect x="757.0" y="43.1" width="1.4" height="3.2" fill="#a0d2f5" fill-opacity="0.78"/>
<rect x="758.4" y="44.3" width="1.4" height="3.2" fill="#a0d2f5" fill-opacity="0.78"/>
<rect x="759.7" y="43.1" width="1.4" height="3.2" fill="#a0d2f5" fill-opacity="0.78"/>
<rect x="761.1" y="44.2" width="1.4" height="3.2" fill="#a0d2f5" fill-opacity="0.78"/>
<rect x="762.4" y="43.0" width="1.4" height="3.2" fill="#a0d2f5" fill-opacity="0.78"/>
<rect x="763.8" y="44.2" width="1.4" height="3.2" fill="#a0d2f5" fill-opacity="0.78"/>
<rect x="765.1" y="42.9" width="1.4" height="3.2" fill="#a0d2f5" fill-opacity="0.78"/>
<rect x="766.5" y="44.1" width="1.4" height="3.2" fill="#a0d2f5" fill-opacity="0.78"/>
<rect x="767.9" y="42.9" width="1.4" height="3.2" fill="#a0d2f5" fill-opacity="0.78"/>
<rect x="769.2" y="44.1" width="1.4" height="3.2" fill="#a0d2f5" fill-opacity="0.78"/>
<rect x="770.6" y="42.8" width="1.4" height="3.2" fill="#a0d2f5" fill-opacity="0.78"/>
<rect x="771.9" y="44.0" width="1.4" height="3.2" fill-opacity="0.95"/>
<rect x="773.3" y="42.8" width="1.4" height="3.2" fill-opacity="0.95"/>
<rect x="774.6" y="43.9" width="1.4" height="3.2" fill-opacity="0.95"/>
<rect x="776.0" y="42.7" width="1.4" height="3.2" fill-opacity="0.95"/>
<rect x="777.4" y="43.8" width="1.4" height="3.2" fill-opacity="0.95"/>
<rect x="778.7" y="42.6" width="1.4" height="3.2" fill="#a0d2f5" fill-opacity="0.78"/>
<rect x="780.1" y="43.7" width="1.4" height="3.2" fill="#a0d2f5" fill-opacity="0.78"/>
<rect x="781.4" y="42.4" width="1.4" height="3.2" fill="#a0d2f5" fill-opacity="0.78"/>
<rect x="782.8" y="43.6" width="1.4" height="3.2" fill="#a0d2f5" fill-opacity="0.78"/>
<rect x="784.1" y="42.3" width="1.4" height="3.2" fill="#a0d2f5" fill-opacity="0.78"/>
<rect x="785.5" y="43.4" width="1.4" height="3.2" fill="#a0d2f5" fill-opacity="0.78"/>
<rect x="786.9" y="42.1" width="1.4" height="3.2" fill="#a0d2f5" fill-opacity="0.78"/>
<rect x="788.2" y="43.3" width="1.4" height="3.2" fill="#a0d2f5" fill-opacity="0.78"/>
<rect x="789.6" y="42.0" width="1.4" height="3.2" fill="#a0d2f5" fill-opacity="0.78"/>
<rect x="790.9" y="43.1" width="1.4" height="3.2" fill="#a0d2f5" fill-opacity="0.78"/>
<rect x="792.3" y="41.9" width="1.4" height="3.2" fill="#a0d2f5" fill-opacity="0.78"/>
<rect x="793.6" y="43.0" width="1.4" height="3.2" fill="#a0d2f5" fill-opacity="0.78"/>
<rect x="795.0" y="41.7" width="1.4" height="3.2" fill-opacity="0.95"/>
<rect x="796.4" y="42.9" width="1.4" height="3.2" fill-opacity="0.95"/>
<rect x="797.7" y="41.6" width="1.4" height="3.2" fill-opacity="0.95"/>
<rect x="799.1" y="42.9" width="1.4" height="3.2" fill="#a0d2f5" fill-opacity="0.78"/>
<rect x="800.4" y="41.8" width="1.4" height="3.2" fill="#a0d2f5" fill-opacity="0.78"/>
<rect x="801.8" y="43.1" width="1.4" height="3.2" fill="#a0d2f5" fill-opacity="0.78"/>
<rect x="803.1" y="42.0" width="1.4" height="3.2" fill="#a0d2f5" fill-opacity="0.78"/>
<rect x="804.5" y="43.3" width="1.4" height="3.2" fill="#a0d2f5" fill-opacity="0.78"/>
<rect x="805.9" y="42.2" width="1.4" height="3.2" fill="#a0d2f5" fill-opacity="0.78"/>
<rect x="807.2" y="43.5" width="1.4" height="3.2" fill="#a0d2f5" fill-opacity="0.78"/>
<rect x="808.6" y="42.3" width="1.4" height="3.2" fill="#a0d2f5" fill-opacity="0.78"/>
<rect x="809.9" y="43.6" width="1.4" height="3.2" fill="#a0d2f5" fill-opacity="0.78"/>
<rect x="811.3" y="42.5" width="1.4" height="3.2" fill="#a0d2f5" fill-opacity="0.78"/>
<rect x="812.7" y="43.8" width="1.4" height="3.2" fill="#a0d2f5" fill-opacity="0.78"/>
<rect x="814.0" y="42.7" width="1.4" height="3.2" fill="#a0d2f5" fill-opacity="0.78"/>
<rect x="815.4" y="44.0" width="1.4" height="3.2" fill-opacity="0.95"/>
<rect x="816.7" y="42.9" width="1.4" height="3.2" fill-opacity="0.95"/>
<rect x="818.1" y="44.2" width="1.4" height="3.2" fill-opacity="0.95"/>
<rect x="819.4" y="43.1" width="1.4" height="3.2" fill-opacity="0.95"/>
<rect x="820.8" y="44.3" width="1.4" height="3.2" fill-opacity="0.95"/>
<rect x="822.2" y="43.1" width="1.4" height="3.2" fill="#a0d2f5" fill-opacity="0.78"/>
<rect x="823.5" y="44.3" width="1.4" height="3.2" fill="#a0d2f5" fill-opacity="0.78"/>
<rect x="824.9" y="43.1" width="1.4" height="3.2" fill="#a0d2f5" fill-opacity="0.78"/>
<rect x="826.2" y="44.3" width="1.4" height="3.2" fill="#a0d2f5" fill-opacity="0.78"/>
<rect x="827.6" y="43.1" width="1.4" height="3.2" fill="#a0d2f5" fill-opacity="0.78"/>
<rect x="828.9" y="44.3" width="1.4" height="3.2" fill="#a0d2f5" fill-opacity="0.78"/>
<rect x="830.3" y="43.1" width="1.4" height="3.2" fill="#a0d2f5" fill-opacity="0.78"/>
<rect x="831.7" y="44.4" width="1.4" height="3.2" fill="#a0d2f5" fill-opacity="0.78"/>
<rect x="833.0" y="43.2" width="1.4" height="3.2" fill="#a0d2f5" fill-opacity="0.78"/>
<rect x="834.4" y="44.4" width="1.4" height="3.2" fill="#a0d2f5" fill-opacity="0.78"/>
<rect x="835.7" y="43.2" width="1.4" height="3.2" fill="#a0d2f5" fill-opacity="0.78"/>
<rect x="837.1" y="44.4" width="1.4" height="3.2" fill="#a0d2f5" fill-opacity="0.78"/>
<rect x="838.4" y="43.2" width="1.4" height="3.2" fill-opacity="0.95"/>
<rect x="839.8" y="44.4" width="1.4" height="3.2" fill-opacity="0.95"/>
<rect x="841.2" y="43.2" width="1.4" height="3.2" fill-opacity="0.95"/>
<rect x="842.5" y="44.4" width="1.4" height="3.2" fill="#a0d2f5" fill-opacity="0.78"/>
<rect x="843.9" y="43.1" width="1.4" height="3.2" fill="#a0d2f5" fill-opacity="0.78"/>
<rect x="845.2" y="44.3" width="1.4" height="3.2" fill="#a0d2f5" fill-opacity="0.78"/>
<rect x="846.6" y="43.1" width="1.4" height="3.2" fill="#a0d2f5" fill-opacity="0.78"/>
<rect x="847.9" y="44.2" width="1.4" height="3.2" fill="#a0d2f5" fill-opacity="0.78"/>
<rect x="849.3" y="43.0" width="1.4" height="3.2" fill="#a0d2f5" fill-opacity="0.78"/>
<rect x="850.7" y="44.2" width="1.4" height="3.2" fill="#a0d2f5" fill-opacity="0.78"/>
<rect x="852.0" y="42.9" width="1.4" height="3.2" fill="#a0d2f5" fill-opacity="0.78"/>
<rect x="853.4" y="44.1" width="1.4" height="3.2" fill="#a0d2f5" fill-opacity="0.78"/>
<rect x="854.7" y="42.9" width="1.4" height="3.2" fill="#a0d2f5" fill-opacity="0.78"/>
<rect x="856.1" y="44.1" width="1.4" height="3.2" fill="#a0d2f5" fill-opacity="0.78"/>
<rect x="857.4" y="42.8" width="1.4" height="3.2" fill="#a0d2f5" fill-opacity="0.78"/>
<rect x="858.8" y="44.0" width="1.4" height="3.2" fill-opacity="0.95"/>
<rect x="860.2" y="42.8" width="1.4" height="3.2" fill-opacity="0.95"/>
<rect x="861.5" y="43.9" width="1.4" height="3.2" fill-opacity="0.95"/>
<rect x="862.9" y="42.7" width="1.4" height="3.2" fill-opacity="0.95"/>
<rect x="864.2" y="43.8" width="1.4" height="3.2" fill-opacity="0.95"/>
<rect x="865.6" y="42.6" width="1.4" height="3.2" fill="#a0d2f5" fill-opacity="0.78"/>
<rect x="867.0" y="43.7" width="1.4" height="3.2" fill="#a0d2f5" fill-opacity="0.78"/>
<rect x="868.3" y="42.4" width="1.4" height="3.2" fill="#a0d2f5" fill-opacity="0.78"/>
<rect x="869.7" y="43.6" width="1.4" height="3.2" fill="#a0d2f5" fill-opacity="0.78"/>
<rect x="871.0" y="42.3" width="1.4" height="3.2" fill="#a0d2f5" fill-opacity="0.78"/>
<rect x="872.4" y="43.4" width="1.4" height="3.2" fill="#a0d2f5" fill-opacity="0.78"/>
<rect x="873.7" y="42.1" width="1.4" height="3.2" fill="#a0d2f5" fill-opacity="0.78"/>
<rect x="875.1" y="43.3" width="1.4" height="3.2" fill="#a0d2f5" fill-opacity="0.78"/>
<rect x="876.5" y="42.0" width="1.4" height="3.2" fill="#a0d2f5" fill-opacity="0.78"/>
<rect x="877.8" y="43.1" width="1.4" height="3.2" fill="#a0d2f5" fill-opacity="0.78"/>
<rect x="879.2" y="41.9" width="1.4" height="3.2" fill="#a0d2f5" fill-opacity="0.78"/>
<rect x="880.5" y="43.0" width="1.4" height="3.2" fill="#a0d2f5" fill-opacity="0.78"/>
<rect x="881.9" y="41.7" width="1.4" height="3.2" fill-opacity="0.95"/>
<rect x="883.2" y="42.9" width="1.4" height="3.2" fill-opacity="0.95"/>
<rect x="884.6" y="41.6" width="1.4" height="3.2" fill-opacity="0.95"/>
<rect x="886.0" y="42.9" width="1.4" height="3.2" fill="#a0d2f5" fill-opacity="0.78"/>
<rect x="887.3" y="41.8" width="1.4" height="3.2" fill="#a0d2f5" fill-opacity="0.78"/>
<rect x="888.7" y="43.1" width="1.4" height="3.2" fill="#a0d2f5" fill-opacity="0.78"/>
<rect x="890.0" y="42.0" width="1.4" height="3.2" fill="#a0d2f5" fill-opacity="0.78"/>
<rect x="891.4" y="43.3" width="1.4" height="3.2" fill="#a0d2f5" fill-opacity="0.78"/>
<rect x="892.7" y="42.2" width="1.4" height="3.2" fill="#a0d2f5" fill-opacity="0.78"/>
<rect x="894.1" y="43.5" width="1.4" height="3.2" fill="#a0d2f5" fill-opacity="0.78"/>
<rect x="895.5" y="42.3" width="1.4" height="3.2" fill="#a0d2f5" fill-opacity="0.78"/>
<rect x="896.8" y="43.6" width="1.4" height="3.2" fill="#a0d2f5" fill-opacity="0.78"/>
<rect x="898.2" y="42.5" width="1.4" height="3.2" fill="#a0d2f5" fill-opacity="0.78"/>
<rect x="899.5" y="43.8" width="1.4" height="3.2" fill="#a0d2f5" fill-opacity="0.78"/>
<rect x="900.9" y="42.7" width="1.4" height="3.2" fill="#a0d2f5" fill-opacity="0.78"/>
<rect x="902.2" y="44.0" width="1.4" height="3.2" fill-opacity="0.95"/>
<rect x="903.6" y="42.9" width="1.4" height="3.2" fill-opacity="0.95"/>
<rect x="905.0" y="44.2" width="1.4" height="3.2" fill-opacity="0.95"/>
<rect x="906.3" y="43.1" width="1.4" height="3.2" fill-opacity="0.95"/>
<rect x="907.7" y="44.3" width="1.4" height="3.2" fill-opacity="0.95"/>
<rect x="909.0" y="43.1" width="1.4" height="3.2" fill="#a0d2f5" fill-opacity="0.78"/>
<rect x="910.4" y="44.3" width="1.4" height="3.2" fill="#a0d2f5" fill-opacity="0.78"/>
<rect x="911.8" y="43.1" width="1.4" height="3.2" fill="#a0d2f5" fill-opacity="0.78"/>
<rect x="913.1" y="44.3" width="1.4" height="3.2" fill="#a0d2f5" fill-opacity="0.78"/>
<rect x="914.5" y="43.1" width="1.4" height="3.2" fill="#a0d2f5" fill-opacity="0.78"/>
<rect x="915.8" y="44.3" width="1.4" height="3.2" fill="#a0d2f5" fill-opacity="0.78"/>
<rect x="917.2" y="43.1" width="1.4" height="3.2" fill="#a0d2f5" fill-opacity="0.78"/>
<rect x="918.5" y="44.4" width="1.4" height="3.2" fill="#a0d2f5" fill-opacity="0.78"/>
<rect x="919.9" y="43.2" width="1.4" height="3.2" fill="#a0d2f5" fill-opacity="0.78"/>
<rect x="921.3" y="44.4" width="1.4" height="3.2" fill="#a0d2f5" fill-opacity="0.78"/>
<rect x="922.6" y="43.2" width="1.4" height="3.2" fill="#a0d2f5" fill-opacity="0.78"/>
<rect x="924.0" y="44.4" width="1.4" height="3.2" fill="#a0d2f5" fill-opacity="0.78"/>
<rect x="925.3" y="43.2" width="1.4" height="3.2" fill-opacity="0.95"/>
<rect x="926.7" y="44.4" width="1.4" height="3.2" fill-opacity="0.95"/>
<rect x="928.0" y="43.2" width="1.4" height="3.2" fill-opacity="0.95"/>
<rect x="929.4" y="44.4" width="1.4" height="3.2" fill="#a0d2f5" fill-opacity="0.78"/>
<rect x="930.8" y="43.1" width="1.4" height="3.2" fill="#a0d2f5" fill-opacity="0.78"/>
<rect x="932.1" y="44.3" width="1.4" height="3.2" fill="#a0d2f5" fill-opacity="0.78"/>
<rect x="933.5" y="43.1" width="1.4" height="3.2" fill="#a0d2f5" fill-opacity="0.78"/>
<rect x="934.8" y="44.2" width="1.4" height="3.2" fill="#a0d2f5" fill-opacity="0.78"/>
<rect x="936.2" y="43.0" width="1.4" height="3.2" fill="#a0d2f5" fill-opacity="0.78"/>
<rect x="937.5" y="44.2" width="1.4" height="3.2" fill="#a0d2f5" fill-opacity="0.78"/>
<rect x="938.9" y="42.9" width="1.4" height="3.2" fill="#a0d2f5" fill-opacity="0.78"/>
<rect x="940.3" y="44.1" width="1.4" height="3.2" fill="#a0d2f5" fill-opacity="0.78"/>
<rect x="941.6" y="42.9" width="1.4" height="3.2" fill="#a0d2f5" fill-opacity="0.78"/>
<rect x="943.0" y="44.1" width="1.4" height="3.2" fill="#a0d2f5" fill-opacity="0.78"/>
<rect x="944.3" y="42.8" width="1.4" height="3.2" fill="#a0d2f5" fill-opacity="0.78"/>
<rect x="945.7" y="44.0" width="1.4" height="3.2" fill-opacity="0.95"/>
<rect x="947.0" y="42.8" width="1.4" height="3.2" fill-opacity="0.95"/>
<rect x="948.4" y="43.9" width="1.4" height="3.2" fill-opacity="0.95"/>
<rect x="949.8" y="42.7" width="1.4" height="3.2" fill-opacity="0.95"/>
<rect x="951.1" y="43.8" width="1.4" height="3.2" fill-opacity="0.95"/>
<rect x="952.5" y="42.6" width="1.4" height="3.2" fill="#a0d2f5" fill-opacity="0.78"/>
<rect x="953.8" y="43.7" width="1.4" height="3.2" fill="#a0d2f5" fill-opacity="0.78"/>
<rect x="955.2" y="42.4" width="1.4" height="3.2" fill="#a0d2f5" fill-opacity="0.78"/>
<rect x="956.5" y="43.6" width="1.4" height="3.2" fill="#a0d2f5" fill-opacity="0.78"/>
<rect x="957.9" y="42.3" width="1.4" height="3.2" fill="#a0d2f5" fill-opacity="0.78"/>
<rect x="959.3" y="43.4" width="1.4" height="3.2" fill="#a0d2f5" fill-opacity="0.78"/>
<rect x="960.6" y="42.1" width="1.4" height="3.2" fill="#a0d2f5" fill-opacity="0.78"/>
<rect x="962.0" y="43.3" width="1.4" height="3.2" fill="#a0d2f5" fill-opacity="0.78"/>
<rect x="963.3" y="42.0" width="1.4" height="3.2" fill="#a0d2f5" fill-opacity="0.78"/>
<rect x="964.7" y="43.1" width="1.4" height="3.2" fill="#a0d2f5" fill-opacity="0.78"/>
<rect x="966.0" y="41.9" width="1.4" height="3.2" fill="#a0d2f5" fill-opacity="0.78"/>
<rect x="967.4" y="43.0" width="1.4" height="3.2" fill="#a0d2f5" fill-opacity="0.78"/>
<rect x="968.8" y="41.7" width="1.4" height="3.2" fill-opacity="0.95"/>
<rect x="970.1" y="42.9" width="1.4" height="3.2" fill-opacity="0.95"/>
<rect x="971.5" y="41.6" width="1.4" height="3.2" fill-opacity="0.95"/>
<rect x="972.8" y="42.9" width="1.4" height="3.2" fill="#a0d2f5" fill-opacity="0.78"/>
<rect x="974.2" y="41.8" width="0.8" height="3.2" fill="#a0d2f5" fill-opacity="0.78"/>
<rect x="975.0" y="43.4" width="13.7" height="3.0" fill="#a0d2f5" fill-opacity="0.72"/>
<rect x="989.1" y="44.0" width="1.4" height="3.2" fill-opacity="0.95"/>
<rect x="990.5" y="42.9" width="1.4" height="3.2" fill-opacity="0.95"/>
<rect x="991.8" y="44.2" width="1.4" height="3.2" fill-opacity="0.95"/>
<rect x="993.2" y="43.1" width="1.4" height="3.2" fill-opacity="0.95"/>
<rect x="994.6" y="44.3" width="1.4" height="3.2" fill-opacity="0.95"/>
<rect x="995.9" y="43.1" width="1.4" height="3.2" fill="#a0d2f5" fill-opacity="0.78"/>
<rect x="997.3" y="44.3" width="1.4" height="3.2" fill="#a0d2f5" fill-opacity="0.78"/>
<rect x="998.6" y="43.1" width="1.4" height="3.2" fill="#a0d2f5" fill-opacity="0.78"/>
<rect x="1000.0" y="44.3" width="1.4" height="3.2" fill="#a0d2f5" fill-opacity="0.78"/>
<rect x="1001.3" y="43.1" width="1.4" height="3.2" fill="#a0d2f5" fill-opacity="0.78"/>
<rect x="1002.7" y="44.3" width="1.4" height="3.2" fill="#a0d2f5" fill-opacity="0.78"/>
<rect x="1004.1" y="43.1" width="1.4" height="3.2" fill="#a0d2f5" fill-opacity="0.78"/>
<rect x="1005.4" y="44.4" width="1.4" height="3.2" fill="#a0d2f5" fill-opacity="0.78"/>
<rect x="1006.8" y="43.2" width="1.4" height="3.2" fill="#a0d2f5" fill-opacity="0.78"/>
<rect x="1008.1" y="44.4" width="1.4" height="3.2" fill="#a0d2f5" fill-opacity="0.78"/>
<rect x="1009.5" y="43.2" width="1.4" height="3.2" fill="#a0d2f5" fill-opacity="0.78"/>
<rect x="1010.8" y="44.4" width="1.4" height="3.2" fill="#a0d2f5" fill-opacity="0.78"/>
<rect x="1012.2" y="43.2" width="1.4" height="3.2" fill-opacity="0.95"/>
<rect x="1013.6" y="44.4" width="1.4" height="3.2" fill-opacity="0.95"/>
<rect x="1014.9" y="43.2" width="1.4" height="3.2" fill-opacity="0.95"/>
<rect x="1016.3" y="44.4" width="1.4" height="3.2" fill="#a0d2f5" fill-opacity="0.78"/>
<rect x="1017.6" y="43.1" width="1.4" height="3.2" fill="#a0d2f5" fill-opacity="0.78"/>
<rect x="1019.0" y="44.3" width="1.4" height="3.2" fill="#a0d2f5" fill-opacity="0.78"/>
<rect x="1020.3" y="43.1" width="1.4" height="3.2" fill="#a0d2f5" fill-opacity="0.78"/>
<rect x="1021.7" y="44.2" width="1.4" height="3.2" fill="#a0d2f5" fill-opacity="0.78"/>
<rect x="1023.1" y="43.0" width="1.4" height="3.2" fill="#a0d2f5" fill-opacity="0.78"/>
<rect x="1024.4" y="44.2" width="1.4" height="3.2" fill="#a0d2f5" fill-opacity="0.78"/>
<rect x="1025.8" y="42.9" width="1.4" height="3.2" fill="#a0d2f5" fill-opacity="0.78"/>
<rect x="1027.1" y="44.1" width="1.4" height="3.2" fill="#a0d2f5" fill-opacity="0.78"/>
<rect x="1028.5" y="42.9" width="1.4" height="3.2" fill="#a0d2f5" fill-opacity="0.78"/>
<rect x="1029.9" y="44.1" width="1.4" height="3.2" fill="#a0d2f5" fill-opacity="0.78"/>
<rect x="1031.2" y="42.8" width="1.4" height="3.2" fill="#a0d2f5" fill-opacity="0.78"/>
<rect x="1032.6" y="44.0" width="1.4" height="3.2" fill-opacity="0.95"/>
<rect x="1033.9" y="42.8" width="1.4" height="3.2" fill-opacity="0.95"/>
<rect x="1035.3" y="43.9" width="1.4" height="3.2" fill-opacity="0.95"/>
<rect x="1036.6" y="42.7" width="1.4" height="3.2" fill-opacity="0.95"/>
<rect x="1038.0" y="43.8" width="1.4" height="3.2" fill-opacity="0.95"/>
<rect x="1039.4" y="42.6" width="1.4" height="3.2" fill="#a0d2f5" fill-opacity="0.78"/>
<rect x="1040.7" y="43.7" width="1.4" height="3.2" fill="#a0d2f5" fill-opacity="0.78"/>
<rect x="1042.1" y="42.4" width="1.4" height="3.2" fill="#a0d2f5" fill-opacity="0.78"/>
<rect x="1043.4" y="43.6" width="1.4" height="3.2" fill="#a0d2f5" fill-opacity="0.78"/>
<rect x="1044.8" y="42.3" width="1.4" height="3.2" fill="#a0d2f5" fill-opacity="0.78"/>
<rect x="1046.1" y="43.4" width="1.4" height="3.2" fill="#a0d2f5" fill-opacity="0.78"/>
<rect x="1047.5" y="42.1" width="1.4" height="3.2" fill="#a0d2f5" fill-opacity="0.78"/>
<rect x="1048.9" y="43.3" width="1.4" height="3.2" fill="#a0d2f5" fill-opacity="0.78"/>
<rect x="1050.2" y="42.0" width="1.4" height="3.2" fill="#a0d2f5" fill-opacity="0.78"/>
<rect x="1051.6" y="43.1" width="1.4" height="3.2" fill="#a0d2f5" fill-opacity="0.78"/>
<rect x="1052.9" y="41.9" width="1.4" height="3.2" fill="#a0d2f5" fill-opacity="0.78"/>
<rect x="1054.3" y="43.0" width="1.4" height="3.2" fill="#a0d2f5" fill-opacity="0.78"/>
<rect x="1055.6" y="41.7" width="1.4" height="3.2" fill-opacity="0.95"/>
<rect x="1057.0" y="42.9" width="1.4" height="3.2" fill-opacity="0.95"/>
<rect x="1058.4" y="41.6" width="1.4" height="3.2" fill-opacity="0.95"/>
<rect x="1059.7" y="42.9" width="1.4" height="3.2" fill="#a0d2f5" fill-opacity="0.78"/>
<rect x="1061.1" y="41.8" width="1.4" height="3.2" fill="#a0d2f5" fill-opacity="0.78"/>
<rect x="1062.4" y="43.1" width="1.4" height="3.2" fill="#a0d2f5" fill-opacity="0.78"/>
<rect x="1063.8" y="42.0" width="1.4" height="3.2" fill="#a0d2f5" fill-opacity="0.78"/>
<rect x="1065.1" y="43.3" width="1.4" height="3.2" fill="#a0d2f5" fill-opacity="0.78"/>
<rect x="1066.5" y="42.2" width="1.4" height="3.2" fill="#a0d2f5" fill-opacity="0.78"/>
<rect x="1067.9" y="43.5" width="1.4" height="3.2" fill="#a0d2f5" fill-opacity="0.78"/>
<rect x="1069.2" y="42.3" width="1.4" height="3.2" fill="#a0d2f5" fill-opacity="0.78"/>
<rect x="1070.6" y="43.6" width="1.4" height="3.2" fill="#a0d2f5" fill-opacity="0.78"/>
<rect x="1071.9" y="42.5" width="1.4" height="3.2" fill="#a0d2f5" fill-opacity="0.78"/>
<rect x="1073.3" y="43.8" width="1.4" height="3.2" fill="#a0d2f5" fill-opacity="0.78"/>
<rect x="1074.7" y="42.7" width="1.4" height="3.2" fill="#a0d2f5" fill-opacity="0.78"/>
<rect x="1076.0" y="44.0" width="1.4" height="3.2" fill-opacity="0.95"/>
<rect x="1077.4" y="42.9" width="1.4" height="3.2" fill-opacity="0.95"/>
<rect x="1078.7" y="44.2" width="1.4" height="3.2" fill-opacity="0.95"/>
<rect x="1080.1" y="43.1" width="1.4" height="3.2" fill-opacity="0.95"/>
<rect x="1081.4" y="44.3" width="1.4" height="3.2" fill-opacity="0.95"/>
<rect x="1082.8" y="43.1" width="1.4" height="3.2" fill="#a0d2f5" fill-opacity="0.78"/>
<rect x="1084.2" y="44.3" width="1.4" height="3.2" fill="#a0d2f5" fill-opacity="0.78"/>
<rect x="1085.5" y="43.1" width="1.4" height="3.2" fill="#a0d2f5" fill-opacity="0.78"/>
<rect x="1086.9" y="44.3" width="1.4" height="3.2" fill="#a0d2f5" fill-opacity="0.78"/>
<rect x="1088.2" y="43.1" width="1.4" height="3.2" fill="#a0d2f5" fill-opacity="0.78"/>
<rect x="1089.6" y="44.3" width="1.4" height="3.2" fill="#a0d2f5" fill-opacity="0.78"/>
<rect x="1090.9" y="43.1" width="1.4" height="3.2" fill="#a0d2f5" fill-opacity="0.78"/>
<rect x="1092.3" y="44.4" width="1.4" height="3.2" fill="#a0d2f5" fill-opacity="0.78"/>
<rect x="1093.7" y="43.2" width="1.4" height="3.2" fill="#a0d2f5" fill-opacity="0.78"/>
<rect x="1095.0" y="44.4" width="1.4" height="3.2" fill="#a0d2f5" fill-opacity="0.78"/>
<rect x="1096.4" y="43.2" width="1.4" height="3.2" fill="#a0d2f5" fill-opacity="0.78"/>
<rect x="1097.7" y="44.4" width="1.4" height="3.2" fill="#a0d2f5" fill-opacity="0.78"/>
<rect x="1099.1" y="43.2" width="1.4" height="3.2" fill-opacity="0.95"/>
<rect x="1100.4" y="44.4" width="1.4" height="3.2" fill-opacity="0.95"/>
<rect x="1101.8" y="43.2" width="1.4" height="3.2" fill-opacity="0.95"/>
<rect x="1103.2" y="44.4" width="1.4" height="3.2" fill="#a0d2f5" fill-opacity="0.78"/>
<rect x="1104.5" y="43.1" width="1.4" height="3.2" fill="#a0d2f5" fill-opacity="0.78"/>
<rect x="1105.9" y="44.3" width="1.4" height="3.2" fill="#a0d2f5" fill-opacity="0.78"/>
<rect x="1107.2" y="43.1" width="1.4" height="3.2" fill="#a0d2f5" fill-opacity="0.78"/>
<rect x="1108.6" y="44.2" width="1.4" height="3.2" fill="#a0d2f5" fill-opacity="0.78"/>
<rect x="1109.9" y="43.0" width="1.4" height="3.2" fill="#a0d2f5" fill-opacity="0.78"/>
<rect x="1111.3" y="44.2" width="1.4" height="3.2" fill="#a0d2f5" fill-opacity="0.78"/>
<rect x="1112.7" y="43.0" width="1.4" height="3.2" fill="#a0d2f5" fill-opacity="0.78"/>
<rect x="1114.0" y="44.1" width="1.4" height="3.2" fill="#a0d2f5" fill-opacity="0.78"/>
<rect x="1115.4" y="42.9" width="1.4" height="3.2" fill="#a0d2f5" fill-opacity="0.78"/>
<rect x="1116.7" y="44.1" width="1.4" height="3.2" fill="#a0d2f5" fill-opacity="0.78"/>
<rect x="1118.1" y="42.8" width="1.4" height="3.2" fill="#a0d2f5" fill-opacity="0.78"/>
<rect x="1119.4" y="44.0" width="1.4" height="3.2" fill-opacity="0.95"/>
<rect x="1120.8" y="42.8" width="1.4" height="3.2" fill-opacity="0.95"/>
<rect x="1122.2" y="43.9" width="1.4" height="3.2" fill-opacity="0.95"/>
<rect x="1123.5" y="42.7" width="1.4" height="3.2" fill-opacity="0.95"/>
<rect x="1124.9" y="43.8" width="1.4" height="3.2" fill-opacity="0.95"/>
<rect x="1126.2" y="42.6" width="1.4" height="3.2" fill="#a0d2f5" fill-opacity="0.78"/>
<rect x="1127.6" y="43.7" width="1.4" height="3.2" fill="#a0d2f5" fill-opacity="0.78"/>
<rect x="1128.9" y="42.4" width="1.4" height="3.2" fill="#a0d2f5" fill-opacity="0.78"/>
<rect x="1130.3" y="43.6" width="1.4" height="3.2" fill="#a0d2f5" fill-opacity="0.78"/>
<rect x="1131.7" y="42.3" width="1.4" height="3.2" fill="#a0d2f5" fill-opacity="0.78"/>
<rect x="1133.0" y="43.4" width="1.4" height="3.2" fill="#a0d2f5" fill-opacity="0.78"/>
<rect x="1134.4" y="42.1" width="1.4" height="3.2" fill="#a0d2f5" fill-opacity="0.78"/>
<rect x="1135.7" y="43.3" width="1.4" height="3.2" fill="#a0d2f5" fill-opacity="0.78"/>
<rect x="1137.1" y="42.0" width="1.4" height="3.2" fill="#a0d2f5" fill-opacity="0.78"/>
<rect x="1138.5" y="43.1" width="1.4" height="3.2" fill="#a0d2f5" fill-opacity="0.78"/>
<rect x="1139.8" y="41.9" width="1.4" height="3.2" fill="#a0d2f5" fill-opacity="0.78"/>
<rect x="1141.2" y="43.0" width="1.4" height="3.2" fill="#a0d2f5" fill-opacity="0.78"/>
<rect x="1142.5" y="41.7" width="1.4" height="3.2" fill-opacity="0.95"/>
<rect x="1143.9" y="42.9" width="1.4" height="3.2" fill-opacity="0.95"/>
<rect x="1145.2" y="41.6" width="1.4" height="3.2" fill-opacity="0.95"/>
<rect x="1146.6" y="42.9" width="1.4" height="3.2" fill="#a0d2f5" fill-opacity="0.78"/>
<rect x="1148.0" y="41.8" width="1.4" height="3.2" fill="#a0d2f5" fill-opacity="0.78"/>
<rect x="1149.3" y="43.1" width="1.4" height="3.2" fill="#a0d2f5" fill-opacity="0.78"/>
<rect x="1150.7" y="42.0" width="1.4" height="3.2" fill="#a0d2f5" fill-opacity="0.78"/>
<rect x="1152.0" y="43.3" width="1.4" height="3.2" fill="#a0d2f5" fill-opacity="0.78"/>
<rect x="1153.4" y="42.2" width="1.4" height="3.2" fill="#a0d2f5" fill-opacity="0.78"/>
<rect x="1154.7" y="43.5" width="1.4" height="3.2" fill="#a0d2f5" fill-opacity="0.78"/>
<rect x="1156.1" y="42.3" width="1.4" height="3.2" fill="#a0d2f5" fill-opacity="0.78"/>
<rect x="1157.5" y="43.6" width="1.4" height="3.2" fill="#a0d2f5" fill-opacity="0.78"/>
<rect x="1158.8" y="42.5" width="1.4" height="3.2" fill="#a0d2f5" fill-opacity="0.78"/>
<rect x="1160.2" y="43.8" width="1.4" height="3.2" fill="#a0d2f5" fill-opacity="0.78"/>
<rect x="1161.5" y="42.7" width="1.4" height="3.2" fill="#a0d2f5" fill-opacity="0.78"/>
<rect x="1162.9" y="44.0" width="1.4" height="3.2" fill-opacity="0.95"/>
<rect x="1164.2" y="42.9" width="1.4" height="3.2" fill-opacity="0.95"/>
<rect x="1165.6" y="44.2" width="1.4" height="3.2" fill-opacity="0.95"/>
<rect x="1167.0" y="43.1" width="1.4" height="3.2" fill-opacity="0.95"/>
<rect x="1168.3" y="44.3" width="1.4" height="3.2" fill-opacity="0.95"/>
<rect x="1169.7" y="43.1" width="1.4" height="3.2" fill="#a0d2f5" fill-opacity="0.78"/>
<rect x="1171.0" y="44.3" width="1.4" height="3.2" fill="#a0d2f5" fill-opacity="0.78"/>
<rect x="1172.4" y="43.1" width="1.4" height="3.2" fill="#a0d2f5" fill-opacity="0.78"/>
<rect x="1173.7" y="44.3" width="1.4" height="3.2" fill="#a0d2f5" fill-opacity="0.78"/>
<rect x="1175.1" y="43.1" width="1.4" height="3.2" fill="#a0d2f5" fill-opacity="0.78"/>
<rect x="1176.5" y="44.3" width="1.4" height="3.2" fill="#a0d2f5" fill-opacity="0.78"/>
<rect x="1177.8" y="43.1" width="1.4" height="3.2" fill="#a0d2f5" fill-opacity="0.78"/>
<rect x="1179.2" y="44.4" width="1.4" height="3.2" fill="#a0d2f5" fill-opacity="0.78"/>
<rect x="1180.5" y="43.2" width="0.5" height="3.2" fill="#a0d2f5" fill-opacity="0.78"/>
<rect x="149.0" y="74.3" width="20.4" height="3.6" fill-opacity="0.97"/>
<rect x="149.0" y="70.7" width="3.2" height="3.9" fill-opacity="0.96"/>
<rect x="153.1" y="70.7" width="3.2" height="3.9" fill-opacity="0.96"/>
<rect x="157.2" y="70.7" width="3.2" height="3.9" fill-opacity="0.96"/>
<rect x="161.3" y="70.7" width="3.2" height="3.9" fill-opacity="0.96"/>
<rect x="165.3" y="70.7" width="3.2" height="3.9" fill-opacity="0.96"/>
<rect x="170.7" y="74.3" width="20.4" height="3.6" fill-opacity="0.97"/>
<rect x="170.7" y="70.7" width="3.2" height="3.9" fill-opacity="0.96"/>
<rect x="174.8" y="70.7" width="3.2" height="3.9" fill-opacity="0.96"/>
<rect x="178.9" y="70.7" width="3.2" height="3.9" fill-opacity="0.96"/>
<rect x="183.0" y="70.7" width="3.2" height="3.9" fill-opacity="0.96"/>
<rect x="187.1" y="70.7" width="3.2" height="3.9" fill-opacity="0.96"/>
<rect x="197.4" y="77.0" width="15.4" height="2.8" fill-opacity="0.93"/>
<rect x="192.4" y="74.3" width="20.4" height="3.6" fill-opacity="0.97"/>
<rect x="192.4" y="71.5" width="2.2" height="3.1" fill-opacity="0.96"/>
<rect x="196.5" y="71.8" width="2.2" height="2.8" fill-opacity="0.96"/>
<rect x="200.6" y="70.1" width="2.2" height="4.5" fill-opacity="0.96"/>
<rect x="204.7" y="70.5" width="2.2" height="4.1" fill-opacity="0.96"/>
<rect x="208.8" y="70.8" width="2.2" height="3.8" fill-opacity="0.96"/>
<rect x="214.2" y="74.3" width="20.4" height="3.6" fill-opacity="0.97"/>
<rect x="214.2" y="70.7" width="3.2" height="3.9" fill-opacity="0.96"/>
<rect x="218.2" y="70.7" width="3.2" height="3.9" fill-opacity="0.96"/>
<rect x="222.3" y="70.7" width="3.2" height="3.9" fill-opacity="0.96"/>
<rect x="226.4" y="70.7" width="3.2" height="3.9" fill-opacity="0.96"/>
<rect x="230.5" y="70.7" width="3.2" height="3.9" fill-opacity="0.96"/>
<rect x="235.9" y="74.3" width="20.4" height="3.6" fill-opacity="0.97"/>
<rect x="235.9" y="70.7" width="3.2" height="3.9" fill-opacity="0.96"/>
<rect x="240.0" y="70.7" width="3.2" height="3.9" fill-opacity="0.96"/>
<rect x="244.0" y="70.7" width="3.2" height="3.9" fill-opacity="0.96"/>
<rect x="248.1" y="70.7" width="3.2" height="3.9" fill-opacity="0.96"/>
<rect x="252.2" y="70.7" width="3.2" height="3.9" fill-opacity="0.96"/>
<rect x="257.6" y="74.3" width="20.4" height="3.6" fill-opacity="0.97"/>
<rect x="257.6" y="72.1" width="3.2" height="2.5" fill-opacity="0.96"/>
<rect x="261.7" y="71.8" width="3.2" height="2.8" fill-opacity="0.96"/>
<rect x="265.8" y="71.4" width="3.2" height="3.2" fill-opacity="0.96"/>
<rect x="269.9" y="71.0" width="3.2" height="3.5" fill-opacity="0.96"/>
<rect x="273.9" y="70.7" width="3.2" height="3.9" fill-opacity="0.96"/>
<rect x="279.3" y="74.3" width="20.4" height="3.6" fill-opacity="0.97"/>
<rect x="279.3" y="70.7" width="3.2" height="3.9" fill-opacity="0.96"/>
<rect x="283.4" y="70.7" width="3.2" height="3.9" fill-opacity="0.96"/>
<rect x="287.5" y="70.7" width="3.2" height="3.9" fill-opacity="0.96"/>
<rect x="291.6" y="70.7" width="3.2" height="3.9" fill-opacity="0.96"/>
<rect x="295.7" y="70.7" width="3.2" height="3.9" fill-opacity="0.96"/>
<rect x="301.0" y="74.3" width="20.4" height="3.6" fill-opacity="0.97"/>
<rect x="301.0" y="70.7" width="3.2" height="3.9" fill-opacity="0.96"/>
<rect x="305.1" y="70.7" width="3.2" height="3.9" fill-opacity="0.96"/>
<rect x="309.2" y="70.7" width="3.2" height="3.9" fill-opacity="0.96"/>
<rect x="313.3" y="70.7" width="3.2" height="3.9" fill-opacity="0.96"/>
<rect x="317.4" y="70.7" width="3.2" height="3.9" fill-opacity="0.96"/>
<rect x="322.8" y="74.3" width="20.4" height="3.6" fill-opacity="0.97"/>
<rect x="322.8" y="72.1" width="3.2" height="2.5" fill-opacity="0.96"/>
<rect x="326.8" y="71.8" width="3.2" height="2.8" fill-opacity="0.96"/>
<rect x="330.9" y="71.4" width="3.2" height="3.2" fill-opacity="0.96"/>
<rect x="335.0" y="71.0" width="3.2" height="3.5" fill-opacity="0.96"/>
<rect x="339.1" y="70.7" width="3.2" height="3.9" fill-opacity="0.96"/>
<rect x="344.5" y="74.3" width="20.4" height="3.6" fill-opacity="0.97"/>
<rect x="344.5" y="70.7" width="3.2" height="3.9" fill-opacity="0.96"/>
<rect x="348.6" y="70.7" width="3.2" height="3.9" fill-opacity="0.96"/>
<rect x="352.6" y="70.7" width="3.2" height="3.9" fill-opacity="0.96"/>
<rect x="356.7" y="70.7" width="3.2" height="3.9" fill-opacity="0.96"/>
<rect x="360.8" y="70.7" width="3.2" height="3.9" fill-opacity="0.96"/>
<rect x="366.2" y="74.3" width="20.4" height="3.6" fill-opacity="0.97"/>
<rect x="366.2" y="72.1" width="3.2" height="2.5" fill-opacity="0.96"/>
<rect x="370.3" y="71.8" width="3.2" height="2.8" fill-opacity="0.96"/>
<rect x="374.4" y="71.4" width="3.2" height="3.2" fill-opacity="0.96"/>
<rect x="378.5" y="71.0" width="3.2" height="3.5" fill-opacity="0.96"/>
<rect x="382.5" y="70.7" width="3.2" height="3.9" fill-opacity="0.96"/>
<rect x="387.9" y="74.3" width="20.4" height="3.6" fill-opacity="0.97"/>
<rect x="387.9" y="70.7" width="3.2" height="3.9" fill-opacity="0.96"/>
<rect x="392.0" y="70.7" width="3.2" height="3.9" fill-opacity="0.96"/>
<rect x="396.1" y="70.7" width="3.2" height="3.9" fill-opacity="0.96"/>
<rect x="400.2" y="70.7" width="3.2" height="3.9" fill-opacity="0.96"/>
<rect x="404.3" y="70.7" width="3.2" height="3.9" fill-opacity="0.96"/>
<rect x="414.6" y="77.0" width="15.4" height="2.8" fill-opacity="0.93"/>
<rect x="409.6" y="74.3" width="20.4" height="3.6" fill-opacity="0.97"/>
<rect x="409.6" y="71.5" width="2.2" height="3.1" fill-opacity="0.96"/>
<rect x="413.7" y="71.5" width="2.2" height="3.1" fill-opacity="0.96"/>
<rect x="417.8" y="69.4" width="2.2" height="5.2" fill-opacity="0.96"/>
<rect x="421.9" y="69.4" width="2.2" height="5.2" fill-opacity="0.96"/>
<rect x="426.0" y="69.4" width="2.2" height="5.2" fill-opacity="0.96"/>
<rect x="436.4" y="77.0" width="15.4" height="2.8" fill-opacity="0.93"/>
<rect x="431.4" y="74.3" width="20.4" height="3.6" fill-opacity="0.97"/>
<rect x="431.4" y="71.5" width="2.2" height="3.1" fill-opacity="0.96"/>
<rect x="435.4" y="71.5" width="2.2" height="3.1" fill-opacity="0.96"/>
<rect x="439.5" y="69.4" width="2.2" height="5.2" fill-opacity="0.96"/>
<rect x="443.6" y="69.4" width="2.2" height="5.2" fill-opacity="0.96"/>
<rect x="447.7" y="69.4" width="2.2" height="5.2" fill-opacity="0.96"/>
<rect x="453.1" y="74.3" width="20.4" height="3.6" fill-opacity="0.97"/>
<rect x="453.1" y="70.7" width="3.2" height="3.9" fill-opacity="0.96"/>
<rect x="457.2" y="71.0" width="3.2" height="3.5" fill-opacity="0.96"/>
<rect x="461.2" y="71.4" width="3.2" height="3.2" fill-opacity="0.96"/>
<rect x="465.3" y="71.8" width="3.2" height="2.8" fill-opacity="0.96"/>
<rect x="469.4" y="72.1" width="3.2" height="2.5" fill-opacity="0.96"/>
<rect x="474.8" y="74.3" width="20.4" height="3.6" fill-opacity="0.97"/>
<rect x="474.8" y="70.7" width="3.2" height="3.9" fill-opacity="0.96"/>
<rect x="478.9" y="71.0" width="3.2" height="3.5" fill-opacity="0.96"/>
<rect x="483.0" y="71.4" width="3.2" height="3.2" fill-opacity="0.96"/>
<rect x="487.1" y="71.8" width="3.2" height="2.8" fill-opacity="0.96"/>
<rect x="491.1" y="72.1" width="3.2" height="2.5" fill-opacity="0.96"/>
<rect x="501.5" y="77.0" width="15.4" height="2.8" fill-opacity="0.93"/>
<rect x="496.5" y="74.3" width="20.4" height="3.6" fill-opacity="0.97"/>
<rect x="496.5" y="71.5" width="2.2" height="3.1" fill-opacity="0.96"/>
<rect x="500.6" y="71.5" width="2.2" height="3.1" fill-opacity="0.96"/>
<rect x="504.7" y="69.4" width="2.2" height="5.2" fill-opacity="0.96"/>
<rect x="508.8" y="69.4" width="2.2" height="5.2" fill-opacity="0.96"/>
<rect x="512.9" y="69.4" width="2.2" height="5.2" fill-opacity="0.96"/>
<rect x="518.2" y="74.3" width="20.4" height="3.6" fill-opacity="0.97"/>
<rect x="518.2" y="70.7" width="3.2" height="3.9" fill-opacity="0.96"/>
<rect x="522.3" y="70.7" width="3.2" height="3.9" fill-opacity="0.96"/>
<rect x="526.4" y="70.7" width="3.2" height="3.9" fill-opacity="0.96"/>
<rect x="530.5" y="70.7" width="3.2" height="3.9" fill-opacity="0.96"/>
<rect x="534.6" y="70.7" width="3.2" height="3.9" fill-opacity="0.96"/>
<rect x="540.0" y="74.3" width="20.4" height="3.6" fill-opacity="0.97"/>
<rect x="540.0" y="70.7" width="3.2" height="3.9" fill-opacity="0.96"/>
<rect x="544.0" y="70.7" width="3.2" height="3.9" fill-opacity="0.96"/>
<rect x="548.1" y="70.7" width="3.2" height="3.9" fill-opacity="0.96"/>
<rect x="552.2" y="70.7" width="3.2" height="3.9" fill-opacity="0.96"/>
<rect x="556.3" y="70.7" width="3.2" height="3.9" fill-opacity="0.96"/>
<rect x="566.7" y="77.0" width="2.3" height="2.8" fill-opacity="0.93"/>
<rect x="561.7" y="74.3" width="7.3" height="3.6" fill-opacity="0.97"/>
<rect x="561.7" y="72.9" width="2.2" height="1.7" fill-opacity="0.96"/>
<rect x="565.8" y="72.5" width="2.2" height="2.0" fill-opacity="0.96"/>
<rect x="585.0" y="74.3" width="20.4" height="3.6" fill-opacity="0.97"/>
<rect x="585.0" y="70.7" width="3.2" height="3.9" fill-opacity="0.96"/>
<rect x="589.1" y="71.0" width="3.2" height="3.5" fill-opacity="0.96"/>
<rect x="593.2" y="71.4" width="3.2" height="3.2" fill-opacity="0.96"/>
<rect x="597.3" y="71.8" width="3.2" height="2.8" fill-opacity="0.96"/>
<rect x="601.3" y="72.1" width="3.2" height="2.5" fill-opacity="0.96"/>
<rect x="606.7" y="74.3" width="20.4" height="3.6" fill-opacity="0.97"/>
<rect x="606.7" y="70.7" width="3.2" height="3.9" fill-opacity="0.96"/>
<rect x="610.8" y="70.7" width="3.2" height="3.9" fill-opacity="0.96"/>
<rect x="614.9" y="70.7" width="3.2" height="3.9" fill-opacity="0.96"/>
<rect x="619.0" y="70.7" width="3.2" height="3.9" fill-opacity="0.96"/>
<rect x="623.1" y="70.7" width="3.2" height="3.9" fill-opacity="0.96"/>
<rect x="628.4" y="74.3" width="20.4" height="3.6" fill-opacity="0.97"/>
<rect x="628.4" y="72.1" width="3.2" height="2.5" fill-opacity="0.96"/>
<rect x="632.5" y="71.8" width="3.2" height="2.8" fill-opacity="0.96"/>
<rect x="636.6" y="71.4" width="3.2" height="3.2" fill-opacity="0.96"/>
<rect x="640.7" y="71.0" width="3.2" height="3.5" fill-opacity="0.96"/>
<rect x="644.8" y="70.7" width="3.2" height="3.9" fill-opacity="0.96"/>
<rect x="650.2" y="74.3" width="20.4" height="3.6" fill-opacity="0.97"/>
<rect x="650.2" y="70.7" width="3.2" height="3.9" fill-opacity="0.96"/>
<rect x="654.2" y="70.7" width="3.2" height="3.9" fill-opacity="0.96"/>
<rect x="658.3" y="70.7" width="3.2" height="3.9" fill-opacity="0.96"/>
<rect x="662.4" y="70.7" width="3.2" height="3.9" fill-opacity="0.96"/>
<rect x="666.5" y="70.7" width="3.2" height="3.9" fill-opacity="0.96"/>
<rect x="676.9" y="77.0" width="15.4" height="2.8" fill-opacity="0.93"/>
<rect x="671.9" y="74.3" width="20.4" height="3.6" fill-opacity="0.97"/>
<rect x="671.9" y="71.5" width="2.2" height="3.1" fill-opacity="0.96"/>
<rect x="676.0" y="71.5" width="2.2" height="3.1" fill-opacity="0.96"/>
<rect x="680.0" y="69.4" width="2.2" height="5.2" fill-opacity="0.96"/>
<rect x="684.1" y="69.4" width="2.2" height="5.2" fill-opacity="0.96"/>
<rect x="688.2" y="69.4" width="2.2" height="5.2" fill-opacity="0.96"/>
<rect x="693.6" y="74.3" width="9.0" height="3.6" fill-opacity="0.97"/>
<rect x="693.6" y="72.1" width="3.2" height="2.5" fill-opacity="0.96"/>
<rect x="697.7" y="71.8" width="3.2" height="2.8" fill-opacity="0.96"/>
<rect x="701.8" y="71.4" width="0.8" height="3.2" fill-opacity="0.96"/>
<rect x="719.0" y="74.3" width="20.4" height="3.6" fill-opacity="0.97"/>
<rect x="719.0" y="70.7" width="3.2" height="3.9" fill-opacity="0.96"/>
<rect x="723.1" y="70.7" width="3.2" height="3.9" fill-opacity="0.96"/>
<rect x="727.2" y="70.7" width="3.2" height="3.9" fill-opacity="0.96"/>
<rect x="731.3" y="70.7" width="3.2" height="3.9" fill-opacity="0.96"/>
<rect x="735.3" y="70.7" width="3.2" height="3.9" fill-opacity="0.96"/>
<rect x="740.7" y="74.3" width="20.4" height="3.6" fill-opacity="0.97"/>
<rect x="740.7" y="72.1" width="3.2" height="2.5" fill-opacity="0.96"/>
<rect x="744.8" y="71.8" width="3.2" height="2.8" fill-opacity="0.96"/>
<rect x="748.9" y="71.4" width="3.2" height="3.2" fill-opacity="0.96"/>
<rect x="753.0" y="71.0" width="3.2" height="3.5" fill-opacity="0.96"/>
<rect x="757.1" y="70.7" width="3.2" height="3.9" fill-opacity="0.96"/>
<rect x="762.4" y="74.3" width="20.4" height="3.6" fill-opacity="0.97"/>
<rect x="762.4" y="72.1" width="3.2" height="2.5" fill-opacity="0.96"/>
<rect x="766.5" y="71.8" width="3.2" height="2.8" fill-opacity="0.96"/>
<rect x="770.6" y="71.4" width="3.2" height="3.2" fill-opacity="0.96"/>
<rect x="774.7" y="71.0" width="3.2" height="3.5" fill-opacity="0.96"/>
<rect x="778.8" y="70.7" width="3.2" height="3.9" fill-opacity="0.96"/>
<rect x="784.2" y="74.3" width="20.4" height="3.6" fill-opacity="0.97"/>
<rect x="784.2" y="70.7" width="3.2" height="3.9" fill-opacity="0.96"/>
<rect x="788.2" y="71.0" width="3.2" height="3.5" fill-opacity="0.96"/>
<rect x="792.3" y="71.4" width="3.2" height="3.2" fill-opacity="0.96"/>
<rect x="796.4" y="71.8" width="3.2" height="2.8" fill-opacity="0.96"/>
<rect x="800.5" y="72.1" width="3.2" height="2.5" fill-opacity="0.96"/>
<rect x="810.9" y="77.0" width="15.4" height="2.8" fill-opacity="0.93"/>
<rect x="805.9" y="74.3" width="20.4" height="3.6" fill-opacity="0.97"/>
<rect x="805.9" y="71.5" width="2.2" height="3.1" fill-opacity="0.96"/>
<rect x="810.0" y="71.5" width="2.2" height="3.1" fill-opacity="0.96"/>
<rect x="814.0" y="69.4" width="2.2" height="5.2" fill-opacity="0.96"/>
<rect x="818.1" y="69.4" width="2.2" height="5.2" fill-opacity="0.96"/>
<rect x="822.2" y="69.4" width="2.2" height="5.2" fill-opacity="0.96"/>
<rect x="827.6" y="74.3" width="20.4" height="3.6" fill-opacity="0.97"/>
<rect x="827.6" y="70.7" width="3.2" height="3.9" fill-opacity="0.96"/>
<rect x="831.7" y="70.7" width="3.2" height="3.9" fill-opacity="0.96"/>
<rect x="835.8" y="70.7" width="3.2" height="3.9" fill-opacity="0.96"/>
<rect x="839.9" y="70.7" width="3.2" height="3.9" fill-opacity="0.96"/>
<rect x="843.9" y="70.7" width="3.2" height="3.9" fill-opacity="0.96"/>
<rect x="849.3" y="74.3" width="20.4" height="3.6" fill-opacity="0.97"/>
<rect x="849.3" y="70.7" width="3.2" height="3.9" fill-opacity="0.96"/>
<rect x="853.4" y="70.7" width="3.2" height="3.9" fill-opacity="0.96"/>
<rect x="857.5" y="70.7" width="3.2" height="3.9" fill-opacity="0.96"/>
<rect x="861.6" y="70.7" width="3.2" height="3.9" fill-opacity="0.96"/>
<rect x="865.7" y="70.7" width="3.2" height="3.9" fill-opacity="0.96"/>
<rect x="871.0" y="74.3" width="20.4" height="3.6" fill-opacity="0.97"/>
<rect x="871.0" y="72.1" width="3.2" height="2.5" fill-opacity="0.96"/>
<rect x="875.1" y="71.8" width="3.2" height="2.8" fill-opacity="0.96"/>
<rect x="879.2" y="71.4" width="3.2" height="3.2" fill-opacity="0.96"/>
<rect x="883.3" y="71.0" width="3.2" height="3.5" fill-opacity="0.96"/>
<rect x="887.4" y="70.7" width="3.2" height="3.9" fill-opacity="0.96"/>
<rect x="897.8" y="77.0" width="15.4" height="2.8" fill-opacity="0.93"/>
<rect x="892.8" y="74.3" width="20.4" height="3.6" fill-opacity="0.97"/>
<rect x="892.8" y="71.5" width="2.2" height="3.1" fill-opacity="0.96"/>
<rect x="896.8" y="71.5" width="2.2" height="3.1" fill-opacity="0.96"/>
<rect x="900.9" y="69.4" width="2.2" height="5.2" fill-opacity="0.96"/>
<rect x="905.0" y="69.4" width="2.2" height="5.2" fill-opacity="0.96"/>
<rect x="909.1" y="69.4" width="2.2" height="5.2" fill-opacity="0.96"/>
<rect x="914.5" y="74.3" width="20.4" height="3.6" fill-opacity="0.97"/>
<rect x="914.5" y="70.7" width="3.2" height="3.9" fill-opacity="0.96"/>
<rect x="918.6" y="70.7" width="3.2" height="3.9" fill-opacity="0.96"/>
<rect x="922.6" y="70.7" width="3.2" height="3.9" fill-opacity="0.96"/>
<rect x="926.7" y="70.7" width="3.2" height="3.9" fill-opacity="0.96"/>
<rect x="930.8" y="70.7" width="3.2" height="3.9" fill-opacity="0.96"/>
<rect x="936.2" y="74.3" width="20.4" height="3.6" fill-opacity="0.97"/>
<rect x="936.2" y="70.7" width="3.2" height="3.9" fill-opacity="0.96"/>
<rect x="940.3" y="71.0" width="3.2" height="3.5" fill-opacity="0.96"/>
<rect x="944.4" y="71.4" width="3.2" height="3.2" fill-opacity="0.96"/>
<rect x="948.5" y="71.8" width="3.2" height="2.8" fill-opacity="0.96"/>
<rect x="952.5" y="72.1" width="3.2" height="2.5" fill-opacity="0.96"/>
<rect x="962.9" y="77.0" width="8.1" height="2.8" fill-opacity="0.93"/>
<rect x="957.9" y="74.3" width="13.1" height="3.6" fill-opacity="0.97"/>
<rect x="957.9" y="71.5" width="2.2" height="3.1" fill-opacity="0.96"/>
<rect x="962.0" y="71.5" width="2.2" height="3.1" fill-opacity="0.96"/>
<rect x="966.1" y="69.4" width="2.2" height="5.2" fill-opacity="0.96"/>
<rect x="970.2" y="69.4" width="0.8" height="5.2" fill-opacity="0.96"/>
<rect x="987.5" y="74.3" width="20.4" height="3.6" fill-opacity="0.97"/>
<rect x="987.5" y="72.1" width="3.2" height="2.5" fill-opacity="0.96"/>
<rect x="991.6" y="71.8" width="3.2" height="2.8" fill-opacity="0.96"/>
<rect x="995.7" y="71.4" width="3.2" height="3.2" fill-opacity="0.96"/>
<rect x="999.8" y="71.0" width="3.2" height="3.5" fill-opacity="0.96"/>
<rect x="1003.8" y="70.7" width="3.2" height="3.9" fill-opacity="0.96"/>
<rect x="1009.2" y="74.3" width="20.4" height="3.6" fill-opacity="0.97"/>
<rect x="1009.2" y="70.7" width="3.2" height="3.9" fill-opacity="0.96"/>
<rect x="1013.3" y="70.7" width="3.2" height="3.9" fill-opacity="0.96"/>
<rect x="1017.4" y="70.7" width="3.2" height="3.9" fill-opacity="0.96"/>
<rect x="1021.5" y="70.7" width="3.2" height="3.9" fill-opacity="0.96"/>
<rect x="1025.6" y="70.7" width="3.2" height="3.9" fill-opacity="0.96"/>
<rect x="1030.9" y="74.3" width="20.4" height="3.6" fill-opacity="0.97"/>
<rect x="1030.9" y="72.1" width="3.2" height="2.5" fill-opacity="0.96"/>
<rect x="1035.0" y="71.8" width="3.2" height="2.8" fill-opacity="0.96"/>
<rect x="1039.1" y="71.4" width="3.2" height="3.2" fill-opacity="0.96"/>
<rect x="1043.2" y="71.0" width="3.2" height="3.5" fill-opacity="0.96"/>
<rect x="1047.3" y="70.7" width="3.2" height="3.9" fill-opacity="0.96"/>
<rect x="1052.7" y="74.3" width="20.4" height="3.6" fill-opacity="0.97"/>
<rect x="1052.7" y="70.7" width="3.2" height="3.9" fill-opacity="0.96"/>
<rect x="1056.7" y="70.7" width="3.2" height="3.9" fill-opacity="0.96"/>
<rect x="1060.8" y="70.7" width="3.2" height="3.9" fill-opacity="0.96"/>
<rect x="1064.9" y="70.7" width="3.2" height="3.9" fill-opacity="0.96"/>
<rect x="1069.0" y="70.7" width="3.2" height="3.9" fill-opacity="0.96"/>
<rect x="1079.4" y="77.0" width="15.4" height="2.8" fill-opacity="0.93"/>
<rect x="1074.4" y="74.3" width="20.4" height="3.6" fill-opacity="0.97"/>
<rect x="1074.4" y="72.9" width="2.2" height="1.7" fill-opacity="0.96"/>
<rect x="1078.5" y="72.5" width="2.2" height="2.0" fill-opacity="0.96"/>
<rect x="1082.5" y="70.1" width="2.2" height="4.5" fill-opacity="0.96"/>
<rect x="1086.6" y="69.8" width="2.2" height="4.8" fill-opacity="0.96"/>
<rect x="1090.7" y="69.4" width="2.2" height="5.2" fill-opacity="0.96"/>
<rect x="1096.1" y="74.3" width="20.4" height="3.6" fill-opacity="0.97"/>
<rect x="1096.1" y="70.7" width="3.2" height="3.9" fill-opacity="0.96"/>
<rect x="1100.2" y="70.7" width="3.2" height="3.9" fill-opacity="0.96"/>
<rect x="1104.3" y="70.7" width="3.2" height="3.9" fill-opacity="0.96"/>
<rect x="1108.4" y="70.7" width="3.2" height="3.9" fill-opacity="0.96"/>
<rect x="1112.4" y="70.7" width="3.2" height="3.9" fill-opacity="0.96"/>
<rect x="1117.8" y="74.3" width="20.4" height="3.6" fill-opacity="0.97"/>
<rect x="1117.8" y="70.7" width="3.2" height="3.9" fill-opacity="0.96"/>
<rect x="1121.9" y="70.7" width="3.2" height="3.9" fill-opacity="0.96"/>
<rect x="1126.0" y="70.7" width="3.2" height="3.9" fill-opacity="0.96"/>
<rect x="1130.1" y="70.7" width="3.2" height="3.9" fill-opacity="0.96"/>
<rect x="1134.2" y="70.7" width="3.2" height="3.9" fill-opacity="0.96"/>
<rect x="1139.5" y="74.3" width="20.4" height="3.6" fill-opacity="0.97"/>
<rect x="1139.5" y="72.1" width="3.2" height="2.5" fill-opacity="0.96"/>
<rect x="1143.6" y="71.8" width="3.2" height="2.8" fill-opacity="0.96"/>
<rect x="1147.7" y="71.4" width="3.2" height="3.2" fill-opacity="0.96"/>
<rect x="1151.8" y="71.0" width="3.2" height="3.5" fill-opacity="0.96"/>
<rect x="1155.9" y="70.7" width="3.2" height="3.9" fill-opacity="0.96"/>
<rect x="1161.3" y="74.3" width="19.7" height="3.6" fill-opacity="0.97"/>
<rect x="1161.3" y="72.1" width="3.2" height="2.5" fill-opacity="0.96"/>
<rect x="1165.3" y="71.8" width="3.2" height="2.8" fill-opacity="0.96"/>
<rect x="1169.4" y="71.4" width="3.2" height="3.2" fill-opacity="0.96"/>
<rect x="1173.5" y="71.0" width="3.2" height="3.5" fill-opacity="0.96"/>
<rect x="1177.6" y="70.7" width="3.2" height="3.9" fill-opacity="0.96"/>
<rect x="232.0" y="105.1" width="2.1" height="5.0" fill-opacity="0.90"/>
<rect x="234.7" y="107.3" width="1.6" height="2.8" fill-opacity="0.90"/>
<rect x="236.5" y="107.2" width="3.1" height="3.2" fill-opacity="0.70"/>
<rect x="239.5" y="107.2" width="3.5" height="3.2" fill-opacity="0.70"/>
<rect x="243.0" y="107.2" width="3.4" height="3.2"/>
<rect x="246.4" y="107.2" width="2.6" height="3.2" fill-opacity="0.80"/>
<rect x="249.4" y="106.2" width="1.5" height="3.6" fill-opacity="0.95"/>
<rect x="251.3" y="107.0" width="3.0" height="3.1"/>
<rect x="254.3" y="107.2" width="3.4" height="3.2"/>
<rect x="260.9" y="108.3" width="1.5" height="3.0" fill-opacity="0.95"/>
<rect x="262.0" y="106.5" width="1.5" height="3.1" fill-opacity="0.95"/>
<rect x="263.5" y="106.5" width="2.7" height="3.3" fill-opacity="0.95"/>
<rect x="266.2" y="107.8" width="6.1" height="3.6"/>
<rect x="282.1" y="106.5" width="4.2" height="3.9" fill-opacity="0.60"/>
<rect x="289.2" y="108.0" width="1.4" height="2.6" fill-opacity="0.90"/>
<rect x="290.2" y="106.0" width="1.3" height="3.2" fill-opacity="0.90"/>
<rect x="291.2" y="104.2" width="5.3" height="3.2" fill-opacity="0.97"/>
<rect x="296.5" y="105.1" width="3.4" height="3.1" fill-opacity="0.97"/>
<rect x="299.9" y="106.2" width="2.3" height="3.6" fill-opacity="0.97"/>
<rect x="302.1" y="107.0" width="5.0" height="3.4"/>
<rect x="316.1" y="105.1" width="2.1" height="5.0" fill-opacity="0.90"/>
<rect x="318.7" y="107.3" width="1.6" height="2.8" fill-opacity="0.90"/>
<rect x="320.6" y="107.2" width="3.1" height="3.2" fill-opacity="0.70"/>
<rect x="323.6" y="107.2" width="3.5" height="3.2" fill-opacity="0.70"/>
<rect x="327.1" y="107.2" width="3.4" height="3.2"/>
<rect x="330.5" y="107.2" width="2.6" height="3.2" fill-opacity="0.80"/>
<rect x="333.5" y="106.2" width="1.5" height="3.6" fill-opacity="0.95"/>
<rect x="335.4" y="107.0" width="3.0" height="3.1"/>
<rect x="338.4" y="107.2" width="3.4" height="3.2"/>
<rect x="344.9" y="108.3" width="1.5" height="3.0" fill-opacity="0.95"/>
<rect x="346.0" y="106.5" width="1.5" height="3.1" fill-opacity="0.95"/>
<rect x="347.5" y="106.5" width="2.7" height="3.3" fill-opacity="0.95"/>
<rect x="350.2" y="107.8" width="6.1" height="3.6"/>
<rect x="369.9" y="108.0" width="1.4" height="2.6" fill-opacity="0.90"/>
<rect x="370.9" y="106.0" width="1.3" height="3.2" fill-opacity="0.90"/>
<rect x="371.8" y="104.2" width="5.3" height="3.2" fill-opacity="0.97"/>
<rect x="377.1" y="105.1" width="3.4" height="3.1" fill-opacity="0.97"/>
<rect x="380.5" y="106.2" width="2.3" height="3.6" fill-opacity="0.97"/>
<rect x="382.7" y="107.0" width="5.0" height="3.4"/>
<rect x="719.5" y="105.1" width="2.1" height="5.0" fill-opacity="0.90"/>
<rect x="722.0" y="107.3" width="1.6" height="2.8" fill-opacity="0.90"/>
<rect x="724.0" y="107.2" width="3.1" height="3.2" fill-opacity="0.70"/>
<rect x="727.0" y="107.2" width="3.5" height="3.2" fill-opacity="0.70"/>
<rect x="730.5" y="107.2" width="3.4" height="3.2"/>
<rect x="733.9" y="107.2" width="2.6" height="3.2" fill-opacity="0.80"/>
<rect x="736.9" y="106.2" width="1.5" height="3.6" fill-opacity="0.95"/>
<rect x="738.8" y="107.0" width="3.0" height="3.1"/>
<rect x="741.8" y="107.2" width="3.4" height="3.2"/>
<rect x="748.2" y="108.3" width="1.5" height="3.0" fill-opacity="0.95"/>
<rect x="749.4" y="106.5" width="1.5" height="3.1" fill-opacity="0.95"/>
<rect x="750.9" y="106.5" width="2.7" height="3.3" fill-opacity="0.95"/>
<rect x="753.5" y="107.8" width="6.1" height="3.6"/>
<rect x="399.0" y="107.0" width="2.6" height="3.3" fill-opacity="0.97"/>
<rect x="402.3" y="107.5" width="3.3" height="3.3" fill-opacity="0.97"/>
<rect x="406.2" y="107.6" width="3.3" height="3.3" fill-opacity="0.97"/>
<rect x="410.0" y="107.2" width="2.0" height="3.3" fill-opacity="0.97"/>
<rect x="413.0" y="106.4" width="3.6" height="3.3" fill-opacity="0.85"/>
<rect x="417.2" y="107.0" width="3.2" height="3.3" fill-opacity="0.85"/>
<rect x="421.1" y="107.1" width="2.8" height="3.3" fill-opacity="0.85"/>
<rect x="431.0" y="104.1" width="2.6" height="3.3" fill-opacity="0.92"/>
<rect x="434.4" y="104.7" width="2.6" height="3.3" fill-opacity="0.92"/>
<rect x="443.7" y="106.0" width="3.3" height="3.3" fill-opacity="0.97"/>
<rect x="447.5" y="106.1" width="3.6" height="3.3" fill-opacity="0.97"/>
<rect x="451.7" y="106.7" width="3.1" height="3.3" fill-opacity="0.97"/>
<rect x="455.6" y="106.9" width="0.9" height="3.3" fill-opacity="0.97"/>
<rect x="467.7" y="105.7" width="2.8" height="3.3" fill-opacity="0.97"/>
<rect x="471.2" y="105.8" width="3.1" height="3.3" fill-opacity="0.97"/>
<rect x="475.1" y="106.0" width="1.9" height="3.3" fill-opacity="0.97"/>
<rect x="480.5" y="105.7" width="2.5" height="3.3" fill-opacity="0.97"/>
<rect x="483.7" y="106.2" width="2.5" height="3.3" fill-opacity="0.97"/>
<rect x="486.7" y="106.3" width="3.9" height="3.3" fill-opacity="0.97"/>
<rect x="491.1" y="107.5" width="0.5" height="3.3" fill-opacity="0.97"/>
<rect x="498.0" y="104.4" width="2.8" height="3.3" fill-opacity="0.97"/>
<rect x="501.3" y="104.9" width="3.7" height="3.3" fill-opacity="0.97"/>
<rect x="510.0" y="105.5" width="2.5" height="3.3" fill-opacity="0.85"/>
<rect x="512.8" y="105.3" width="3.8" height="3.3" fill-opacity="0.85"/>
<rect x="517.1" y="106.0" width="2.5" height="3.3" fill-opacity="0.85"/>
<rect x="520.3" y="106.0" width="2.7" height="3.3" fill-opacity="0.85"/>
<rect x="533.0" y="106.3" width="3.5" height="3.3" fill-opacity="0.97"/>
<rect x="537.0" y="106.6" width="3.9" height="3.3" fill-opacity="0.97"/>
<rect x="541.6" y="106.2" width="3.3" height="3.3" fill-opacity="0.97"/>
<rect x="545.5" y="106.3" width="3.2" height="3.3" fill-opacity="0.97"/>
<rect x="549.0" y="106.4" width="4.1" height="3.3" fill-opacity="0.97"/>
<rect x="553.5" y="106.2" width="3.4" height="3.3" fill-opacity="0.97"/>
<rect x="557.5" y="107.1" width="3.3" height="3.3" fill-opacity="0.97"/>
<rect x="561.4" y="106.5" width="2.1" height="3.3" fill-opacity="0.97"/>
<rect x="769.4" y="106.7" width="2.7" height="3.3" fill-opacity="0.97"/>
<rect x="772.6" y="107.2" width="2.5" height="3.3" fill-opacity="0.97"/>
<rect x="776.0" y="104.9" width="3.2" height="3.3" fill-opacity="0.92"/>
<rect x="779.5" y="105.3" width="1.2" height="3.3" fill-opacity="0.92"/>
<rect x="783.0" y="105.4" width="2.5" height="3.3" fill-opacity="0.97"/>
<rect x="786.4" y="106.0" width="3.3" height="3.3" fill-opacity="0.97"/>
<rect x="790.2" y="106.8" width="0.8" height="3.3" fill-opacity="0.97"/>
<rect x="805.5" y="106.6" width="3.6" height="3.3" fill-opacity="0.85"/>
<rect x="809.6" y="106.9" width="2.6" height="3.3" fill-opacity="0.85"/>
<rect x="812.7" y="106.4" width="3.7" height="3.3" fill-opacity="0.85"/>
<rect x="816.9" y="106.8" width="3.8" height="3.3" fill-opacity="0.85"/>
<rect x="821.4" y="106.4" width="2.2" height="3.3" fill-opacity="0.85"/>
<rect x="833.7" y="104.0" width="2.6" height="3.3" fill-opacity="0.85"/>
<rect x="837.0" y="104.3" width="1.8" height="3.3" fill-opacity="0.85"/>
<rect x="850.6" y="105.7" width="3.6" height="3.3" fill-opacity="0.85"/>
<rect x="854.7" y="106.2" width="4.0" height="3.3" fill-opacity="0.85"/>
<rect x="870.0" y="105.3" width="2.4" height="3.3" fill-opacity="0.92"/>
<rect x="872.9" y="105.8" width="2.9" height="3.3" fill-opacity="0.92"/>
<rect x="876.7" y="105.5" width="3.4" height="3.3" fill-opacity="0.92"/>
<rect x="880.9" y="106.2" width="2.9" height="3.3" fill-opacity="0.92"/>
<rect x="884.5" y="106.2" width="2.5" height="3.3" fill-opacity="0.92"/>
<rect x="887.7" y="106.7" width="2.6" height="3.3" fill-opacity="0.92"/>
<rect x="890.8" y="106.2" width="3.0" height="3.3" fill-opacity="0.92"/>
<rect x="900.6" y="104.4" width="3.0" height="3.3" fill-opacity="0.97"/>
<rect x="904.4" y="104.2" width="3.6" height="3.3" fill-opacity="0.97"/>
<rect x="916.5" y="105.2" width="3.4" height="3.3" fill-opacity="0.85"/>
<rect x="920.5" y="105.9" width="3.4" height="3.3" fill-opacity="0.85"/>
<rect x="924.5" y="106.0" width="1.3" height="3.3" fill-opacity="0.85"/>
<rect x="939.0" y="106.3" width="2.3" height="3.3" fill-opacity="0.85"/>
<rect x="941.9" y="106.3" width="3.3" height="3.3" fill-opacity="0.85"/>
<rect x="945.7" y="106.3" width="3.9" height="3.3" fill-opacity="0.85"/>
<rect x="950.0" y="106.0" width="2.7" height="3.3" fill-opacity="0.85"/>
<rect x="953.2" y="106.1" width="3.4" height="3.3" fill-opacity="0.85"/>
<rect x="957.1" y="106.8" width="2.5" height="3.3" fill-opacity="0.85"/>
<rect x="960.1" y="106.6" width="3.1" height="3.3" fill-opacity="0.85"/>
<rect x="964.0" y="107.0" width="1.0" height="3.3" fill-opacity="0.85"/>
<rect x="969.5" y="107.3" width="2.5" height="3.3" fill-opacity="0.97"/>
<rect x="232.0" y="140.8" width="2.1" height="5.0" fill-opacity="0.99"/>
<rect x="234.7" y="143.0" width="1.6" height="2.8" fill-opacity="0.99"/>
<rect x="236.5" y="142.9" width="3.1" height="3.2" fill-opacity="0.77"/>
<rect x="239.5" y="142.9" width="3.5" height="3.2" fill-opacity="0.77"/>
<rect x="243.0" y="142.9" width="3.4" height="3.2"/>
<rect x="246.4" y="142.9" width="2.6" height="3.2" fill-opacity="0.88"/>
<rect x="249.4" y="141.9" width="1.5" height="3.6"/>
<rect x="251.3" y="142.7" width="3.0" height="3.1"/>
<rect x="254.3" y="142.9" width="3.4" height="3.2"/>
<rect x="260.9" y="144.0" width="1.5" height="3.0"/>
<rect x="262.0" y="142.2" width="1.5" height="3.1"/>
<rect x="263.5" y="142.2" width="2.7" height="3.3"/>
<rect x="266.2" y="143.4" width="6.1" height="3.6"/>
<rect x="316.1" y="140.8" width="2.1" height="5.0" fill-opacity="0.99"/>
<rect x="318.7" y="143.0" width="1.6" height="2.8" fill-opacity="0.99"/>
<rect x="320.6" y="142.9" width="3.1" height="3.2" fill-opacity="0.77"/>
<rect x="323.6" y="142.9" width="3.5" height="3.2" fill-opacity="0.77"/>
<rect x="327.1" y="142.9" width="3.4" height="3.2"/>
<rect x="330.5" y="142.9" width="2.6" height="3.2" fill-opacity="0.88"/>
<rect x="333.5" y="141.9" width="1.5" height="3.6"/>
<rect x="335.4" y="142.7" width="3.0" height="3.1"/>
<rect x="338.4" y="142.9" width="3.4" height="3.2"/>
<rect x="344.9" y="144.0" width="1.5" height="3.0"/>
<rect x="346.0" y="142.2" width="1.5" height="3.1"/>
<rect x="347.5" y="142.2" width="2.7" height="3.3"/>
<rect x="350.2" y="143.4" width="6.1" height="3.6"/>
<rect x="719.5" y="140.8" width="2.1" height="5.0" fill-opacity="0.99"/>
<rect x="722.0" y="143.0" width="1.6" height="2.8" fill-opacity="0.99"/>
<rect x="724.0" y="142.9" width="3.1" height="3.2" fill-opacity="0.77"/>
<rect x="727.0" y="142.9" width="3.5" height="3.2" fill-opacity="0.77"/>
<rect x="730.5" y="142.9" width="3.4" height="3.2"/>
<rect x="733.9" y="142.9" width="2.6" height="3.2" fill-opacity="0.88"/>
<rect x="736.9" y="141.9" width="1.5" height="3.6"/>
<rect x="738.8" y="142.7" width="3.0" height="3.1"/>
<rect x="741.8" y="142.9" width="3.4" height="3.2"/>
<rect x="748.2" y="144.0" width="1.5" height="3.0"/>
<rect x="749.4" y="142.2" width="1.5" height="3.1"/>
<rect x="750.9" y="142.2" width="2.7" height="3.3"/>
<rect x="753.5" y="143.4" width="6.1" height="3.6"/>
<rect x="369.9" y="145.2" width="1.4" height="2.6" fill-opacity="0.99"/>
<rect x="370.9" y="143.2" width="1.3" height="3.2" fill-opacity="0.99"/>
<rect x="371.8" y="141.5" width="5.3" height="3.2"/>
<rect x="377.1" y="142.4" width="3.4" height="3.1"/>
<rect x="380.5" y="143.5" width="2.3" height="3.6"/>
<rect x="382.7" y="144.2" width="5.0" height="3.4"/>
<rect x="467.7" y="141.9" width="3.7" height="3.6" fill-opacity="0.97"/>
<rect x="472.1" y="141.6" width="2.5" height="3.6" fill-opacity="0.97"/>
<rect x="475.3" y="141.5" width="0.4" height="3.6" fill-opacity="0.97"/>
<rect x="480.5" y="142.1" width="3.3" height="3.6" fill-opacity="0.97"/>
<rect x="484.5" y="142.2" width="3.9" height="3.6" fill-opacity="0.97"/>
<rect x="488.8" y="142.6" width="2.3" height="3.6" fill-opacity="0.97"/>
<rect x="510.0" y="142.0" width="2.3" height="3.6" fill-opacity="0.97"/>
<rect x="512.6" y="142.3" width="2.9" height="3.6" fill-opacity="0.97"/>
<rect x="516.1" y="142.1" width="2.6" height="3.6" fill-opacity="0.97"/>
<rect x="519.3" y="142.5" width="3.7" height="3.6" fill-opacity="0.97"/>
<rect x="533.0" y="142.3" width="3.2" height="3.6" fill-opacity="0.97"/>
<rect x="537.0" y="142.4" width="4.0" height="3.6" fill-opacity="0.97"/>
<rect x="541.5" y="142.3" width="3.1" height="3.6" fill-opacity="0.97"/>
<rect x="545.1" y="142.5" width="2.8" height="3.6" fill-opacity="0.97"/>
<rect x="548.5" y="142.4" width="2.6" height="3.6" fill-opacity="0.97"/>
<rect x="551.5" y="142.8" width="3.7" height="3.6" fill-opacity="0.97"/>
<rect x="555.8" y="142.6" width="2.9" height="3.6" fill-opacity="0.97"/>
<rect x="559.2" y="142.9" width="3.1" height="3.6" fill-opacity="0.97"/>
<rect x="562.7" y="142.7" width="0.8" height="3.6" fill-opacity="0.97"/>
<rect x="769.4" y="143.2" width="2.7" height="3.6" fill-opacity="0.97"/>
<rect x="772.9" y="143.1" width="3.0" height="3.6" fill-opacity="0.97"/>
<rect x="776.0" y="141.4" width="2.4" height="3.6" fill-opacity="0.97"/>
<rect x="778.9" y="141.6" width="1.8" height="3.6" fill-opacity="0.97"/>
<rect x="783.0" y="142.2" width="3.2" height="3.6" fill-opacity="0.97"/>
<rect x="787.1" y="143.1" width="2.5" height="3.6" fill-opacity="0.97"/>
<rect x="789.9" y="142.9" width="1.1" height="3.6" fill-opacity="0.97"/>
<rect x="870.0" y="141.7" width="4.0" height="3.6" fill-opacity="0.97"/>
<rect x="874.7" y="142.3" width="3.8" height="3.6" fill-opacity="0.97"/>
<rect x="879.2" y="142.2" width="4.1" height="3.6" fill-opacity="0.97"/>
<rect x="883.8" y="142.4" width="3.2" height="3.6" fill-opacity="0.97"/>
<rect x="887.5" y="142.7" width="2.8" height="3.6" fill-opacity="0.97"/>
<rect x="890.7" y="142.5" width="3.1" height="3.6" fill-opacity="0.97"/>
<rect x="916.5" y="141.8" width="2.4" height="3.6" fill-opacity="0.97"/>
<rect x="919.5" y="142.2" width="2.7" height="3.6" fill-opacity="0.97"/>
<rect x="922.6" y="143.0" width="2.3" height="3.6" fill-opacity="0.97"/>
<rect x="925.4" y="143.1" width="0.4" height="3.6" fill-opacity="0.97"/>
<rect x="939.0" y="142.2" width="3.6" height="3.6" fill-opacity="0.97"/>
<rect x="943.4" y="141.8" width="2.7" height="3.6" fill-opacity="0.97"/>
<rect x="947.0" y="142.2" width="3.4" height="3.6" fill-opacity="0.97"/>
<rect x="950.8" y="142.4" width="3.1" height="3.6" fill-opacity="0.97"/>
<rect x="954.4" y="142.7" width="3.8" height="3.6" fill-opacity="0.97"/>
<rect x="958.5" y="142.5" width="2.3" height="3.6" fill-opacity="0.97"/>
<rect x="961.6" y="142.4" width="3.2" height="3.6" fill-opacity="0.97"/>
<rect x="30.7" y="185.0" width="8.9" height="3.2" fill="#deb6f5" fill-opacity="0.75"/>
<rect x="31.5" y="186.7" width="7.7" height="3.0" fill="#deb6f5" fill-opacity="0.75"/>
<rect x="50.3" y="185.0" width="11.0" height="3.2" fill="#deb6f5" fill-opacity="0.75"/>
<rect x="51.1" y="186.7" width="9.8" height="3.0" fill="#deb6f5" fill-opacity="0.75"/>
<rect x="72.2" y="185.0" width="10.0" height="3.2" fill="#deb6f5" fill-opacity="0.75"/>
<rect x="73.0" y="186.7" width="8.8" height="3.0" fill="#deb6f5" fill-opacity="0.75"/>
<rect x="94.4" y="184.2" width="11.0" height="3.2" fill="#deb6f5" fill-opacity="0.75"/>
<rect x="95.2" y="185.9" width="9.8" height="3.0" fill="#deb6f5" fill-opacity="0.75"/>
<rect x="115.7" y="183.4" width="10.9" height="3.2" fill="#deb6f5" fill-opacity="0.75"/>
<rect x="116.5" y="185.1" width="9.7" height="3.0" fill="#deb6f5" fill-opacity="0.75"/>
<rect x="137.7" y="185.0" width="10.9" height="3.2" fill="#deb6f5" fill-opacity="0.75"/>
<rect x="138.5" y="186.7" width="9.7" height="3.0" fill="#deb6f5" fill-opacity="0.75"/>
<rect x="159.7" y="185.0" width="9.9" height="3.2" fill="#deb6f5" fill-opacity="0.75"/>
<rect x="160.5" y="186.7" width="8.7" height="3.0" fill="#deb6f5" fill-opacity="0.75"/>
<rect x="180.2" y="183.6" width="12.4" height="3.2" fill="#deb6f5" fill-opacity="0.75"/>
<rect x="181.0" y="185.3" width="11.2" height="3.0" fill="#deb6f5" fill-opacity="0.75"/>
<rect x="202.4" y="183.5" width="11.2" height="3.2" fill="#deb6f5" fill-opacity="0.75"/>
<rect x="203.2" y="185.2" width="10.0" height="3.0" fill="#deb6f5" fill-opacity="0.75"/>
<rect x="224.4" y="185.3" width="8.2" height="3.2" fill="#deb6f5" fill-opacity="0.75"/>
<rect x="225.2" y="187.0" width="7.0" height="3.0" fill="#deb6f5" fill-opacity="0.75"/>
<rect x="571.4" y="185.0" width="11.8" height="3.2" fill="#deb6f5" fill-opacity="0.75"/>
<rect x="572.2" y="186.7" width="10.6" height="3.0" fill="#deb6f5" fill-opacity="0.75"/>
<rect x="592.7" y="185.0" width="12.4" height="3.2" fill="#deb6f5" fill-opacity="0.75"/>
<rect x="593.5" y="186.7" width="11.2" height="3.0" fill="#deb6f5" fill-opacity="0.75"/>
<rect x="615.1" y="184.0" width="12.0" height="3.2" fill="#deb6f5" fill-opacity="0.75"/>
<rect x="615.9" y="185.7" width="10.8" height="3.0" fill="#deb6f5" fill-opacity="0.75"/>
<rect x="636.7" y="183.4" width="11.3" height="3.2" fill="#deb6f5" fill-opacity="0.75"/>
<rect x="637.5" y="185.1" width="10.1" height="3.0" fill="#deb6f5" fill-opacity="0.75"/>
<rect x="701.7" y="185.0" width="12.9" height="3.2" fill="#deb6f5" fill-opacity="0.75"/>
<rect x="702.5" y="186.7" width="11.7" height="3.0" fill="#deb6f5" fill-opacity="0.75"/>
<rect x="969.7" y="185.2" width="4.9" height="3.2" fill="#deb6f5" fill-opacity="0.75"/>
<rect x="970.5" y="186.9" width="3.7" height="3.0" fill="#deb6f5" fill-opacity="0.75"/>
<rect x="984.7" y="185.0" width="11.4" height="3.2" fill="#deb6f5" fill-opacity="0.75"/>
<rect x="985.5" y="186.7" width="10.2" height="3.0" fill="#deb6f5" fill-opacity="0.75"/>
<rect x="1005.7" y="185.0" width="12.9" height="3.2" fill="#deb6f5" fill-opacity="0.75"/>
<rect x="1006.5" y="186.7" width="11.7" height="3.0" fill="#deb6f5" fill-opacity="0.75"/>
<rect x="1027.7" y="183.8" width="12.4" height="3.2" fill="#deb6f5" fill-opacity="0.75"/>
<rect x="1028.5" y="185.5" width="11.2" height="3.0" fill="#deb6f5" fill-opacity="0.75"/>
<rect x="1049.4" y="183.8" width="6.2" height="3.2" fill="#deb6f5" fill-opacity="0.75"/>
<rect x="1050.2" y="185.5" width="5.0" height="3.0" fill="#deb6f5" fill-opacity="0.75"/>
<rect x="1115.1" y="185.0" width="7.3" height="3.2" fill="#deb6f5" fill-opacity="0.75"/>
<rect x="1115.9" y="186.7" width="6.1" height="3.0" fill="#deb6f5" fill-opacity="0.75"/>
<rect x="30.7" y="282.0" width="8.9" height="3.2" fill="#fad0c6" fill-opacity="0.75"/>
<rect x="31.5" y="283.7" width="7.7" height="3.0" fill="#fad0c6" fill-opacity="0.75"/>
<rect x="50.3" y="282.0" width="11.0" height="3.2" fill="#fad0c6" fill-opacity="0.75"/>
<rect x="51.1" y="283.7" width="9.8" height="3.0" fill="#fad0c6" fill-opacity="0.75"/>
<rect x="72.2" y="282.0" width="10.0" height="3.2" fill="#fad0c6" fill-opacity="0.75"/>
<rect x="73.0" y="283.7" width="8.8" height="3.0" fill="#fad0c6" fill-opacity="0.75"/>
<rect x="94.4" y="281.2" width="11.0" height="3.2" fill="#fad0c6" fill-opacity="0.75"/>
<rect x="95.2" y="282.9" width="9.8" height="3.0" fill="#fad0c6" fill-opacity="0.75"/>
<rect x="115.7" y="280.4" width="10.9" height="3.2" fill="#fad0c6" fill-opacity="0.75"/>
<rect x="116.5" y="282.1" width="9.7" height="3.0" fill="#fad0c6" fill-opacity="0.75"/>
<rect x="137.7" y="282.0" width="10.9" height="3.2" fill="#fad0c6" fill-opacity="0.75"/>
<rect x="138.5" y="283.7" width="9.7" height="3.0" fill="#fad0c6" fill-opacity="0.75"/>
<rect x="159.7" y="282.0" width="9.9" height="3.2" fill="#fad0c6" fill-opacity="0.75"/>
<rect x="160.5" y="283.7" width="8.7" height="3.0" fill="#fad0c6" fill-opacity="0.75"/>
<rect x="180.2" y="280.6" width="12.4" height="3.2" fill="#fad0c6" fill-opacity="0.75"/>
<rect x="181.0" y="282.3" width="11.2" height="3.0" fill="#fad0c6" fill-opacity="0.75"/>
<rect x="202.4" y="280.5" width="11.2" height="3.2" fill="#fad0c6" fill-opacity="0.75"/>
<rect x="203.2" y="282.2" width="10.0" height="3.0" fill="#fad0c6" fill-opacity="0.75"/>
<rect x="224.4" y="282.3" width="8.2" height="3.2" fill="#fad0c6" fill-opacity="0.75"/>
<rect x="225.2" y="284.0" width="7.0" height="3.0" fill="#fad0c6" fill-opacity="0.75"/>
<rect x="571.4" y="282.0" width="11.8" height="3.2" fill="#fad0c6" fill-opacity="0.75"/>
<rect x="572.2" y="283.7" width="10.6" height="3.0" fill="#fad0c6" fill-opacity="0.75"/>
<rect x="592.7" y="282.0" width="12.4" height="3.2" fill="#fad0c6" fill-opacity="0.75"/>
<rect x="593.5" y="283.7" width="11.2" height="3.0" fill="#fad0c6" fill-opacity="0.75"/>
<rect x="615.1" y="281.0" width="12.0" height="3.2" fill="#fad0c6" fill-opacity="0.75"/>
<rect x="615.9" y="282.7" width="10.8" height="3.0" fill="#fad0c6" fill-opacity="0.75"/>
<rect x="636.7" y="280.4" width="11.3" height="3.2" fill="#fad0c6" fill-opacity="0.75"/>
<rect x="637.5" y="282.1" width="10.1" height="3.0" fill="#fad0c6" fill-opacity="0.75"/>
<rect x="701.7" y="282.0" width="12.9" height="3.2" fill="#fad0c6" fill-opacity="0.75"/>
<rect x="702.5" y="283.7" width="11.7" height="3.0" fill="#fad0c6" fill-opacity="0.75"/>
<rect x="969.7" y="282.2" width="4.9" height="3.2" fill="#fad0c6" fill-opacity="0.75"/>
<rect x="970.5" y="283.9" width="3.7" height="3.0" fill="#fad0c6" fill-opacity="0.75"/>
<rect x="984.7" y="282.0" width="11.4" height="3.2" fill="#fad0c6" fill-opacity="0.75"/>
<rect x="985.5" y="283.7" width="10.2" height="3.0" fill="#fad0c6" fill-opacity="0.75"/>
<rect x="1005.7" y="282.0" width="12.9" height="3.2" fill="#fad0c6" fill-opacity="0.75"/>
<rect x="1006.5" y="283.7" width="11.7" height="3.0" fill="#fad0c6" fill-opacity="0.75"/>
<rect x="1027.7" y="280.8" width="12.4" height="3.2" fill="#fad0c6" fill-opacity="0.75"/>
<rect x="1028.5" y="282.5" width="11.2" height="3.0" fill="#fad0c6" fill-opacity="0.75"/>
<rect x="1049.4" y="280.8" width="6.2" height="3.2" fill="#fad0c6" fill-opacity="0.75"/>
<rect x="1050.2" y="282.5" width="5.0" height="3.0" fill="#fad0c6" fill-opacity="0.75"/>
<rect x="1115.1" y="282.0" width="7.3" height="3.2" fill="#fad0c6" fill-opacity="0.75"/>
<rect x="1115.9" y="283.7" width="6.1" height="3.0" fill="#fad0c6" fill-opacity="0.75"/>
<rect x="66.0" y="209.9" width="3.9" height="4.2" fill-opacity="0.93"/>
<rect x="70.2" y="210.1" width="3.7" height="4.2" fill-opacity="0.93"/>
<rect x="74.1" y="209.3" width="3.2" height="4.2" fill-opacity="0.93"/>
<rect x="77.5" y="210.1" width="2.9" height="4.2" fill-opacity="0.93"/>
<rect x="80.6" y="210.2" width="2.8" height="4.2" fill-opacity="0.93"/>
<rect x="83.7" y="209.0" width="4.3" height="4.2" fill-opacity="0.93"/>
<rect x="88.3" y="209.5" width="4.4" height="4.2" fill-opacity="0.93"/>
<rect x="92.8" y="209.4" width="3.2" height="4.2" fill-opacity="0.93"/>
<rect x="96.0" y="208.4" width="4.6" height="4.2" fill-opacity="0.93"/>
<rect x="100.9" y="207.7" width="2.6" height="4.2" fill-opacity="0.93"/>
<rect x="103.7" y="207.8" width="2.5" height="4.2" fill-opacity="0.93"/>
<rect x="106.4" y="207.6" width="3.6" height="4.2" fill-opacity="0.93"/>
<rect x="110.0" y="207.5" width="6.1" height="4.0" fill-opacity="0.96"/>
<rect x="116.3" y="207.4" width="4.5" height="4.0" fill-opacity="0.96"/>
<rect x="121.1" y="207.5" width="5.5" height="4.0" fill-opacity="0.96"/>
<rect x="126.9" y="207.7" width="2.1" height="4.0" fill-opacity="0.96"/>
<rect x="131.0" y="210.8" width="1.0" height="2.8" fill-opacity="0.80"/>
<rect x="133.4" y="210.8" width="1.0" height="2.8" fill-opacity="0.80"/>
<rect x="136.5" y="210.8" width="11.0" height="2.8" fill-opacity="0.95"/>
<rect x="148.5" y="209.7" width="3.8" height="4.2" fill-opacity="0.93"/>
<rect x="152.4" y="209.3" width="3.9" height="4.2" fill-opacity="0.93"/>
<rect x="156.6" y="209.3" width="4.4" height="4.2" fill-opacity="0.93"/>
<rect x="161.2" y="209.8" width="4.2" height="4.2" fill-opacity="0.93"/>
<rect x="165.7" y="209.7" width="4.1" height="4.2" fill-opacity="0.93"/>
<rect x="169.9" y="209.2" width="3.9" height="4.2" fill-opacity="0.93"/>
<rect x="174.0" y="209.6" width="4.1" height="4.2" fill-opacity="0.93"/>
<rect x="178.5" y="208.4" width="4.0" height="4.2" fill-opacity="0.93"/>
<rect x="182.9" y="208.3" width="4.1" height="4.2" fill-opacity="0.93"/>
<rect x="187.3" y="208.2" width="2.6" height="4.2" fill-opacity="0.93"/>
<rect x="190.2" y="208.4" width="2.3" height="4.2" fill-opacity="0.93"/>
<rect x="192.5" y="207.5" width="3.8" height="4.0" fill-opacity="0.96"/>
<rect x="196.6" y="207.7" width="6.4" height="4.0" fill-opacity="0.96"/>
<rect x="203.2" y="207.5" width="3.7" height="4.0" fill-opacity="0.96"/>
<rect x="207.2" y="207.6" width="4.2" height="4.0" fill-opacity="0.96"/>
<rect x="214.0" y="210.8" width="1.0" height="2.8" fill-opacity="0.80"/>
<rect x="216.4" y="210.8" width="1.0" height="2.8" fill-opacity="0.80"/>
<rect x="220.6" y="210.6" width="11.4" height="3.0" fill-opacity="0.95"/>
<rect x="232.0" y="210.9" width="42.0" height="5.4" fill-opacity="0.97"/>
<rect x="270.0" y="214.6" width="14.0" height="2.4" fill-opacity="0.80"/>
<rect x="284.0" y="209.5" width="27.0" height="4.8" fill-opacity="0.97"/>
<rect x="311.0" y="213.0" width="6.0" height="4.6" fill-opacity="0.70"/>
<rect x="317.0" y="211.1" width="31.6" height="5.0" fill-opacity="0.97"/>
<rect x="348.6" y="212.5" width="5.0" height="5.0" fill-opacity="0.60"/>
<rect x="353.6" y="210.5" width="5.9" height="3.8" fill-opacity="0.95"/>
<rect x="359.9" y="210.1" width="6.0" height="3.8" fill-opacity="0.95"/>
<rect x="366.3" y="210.0" width="7.9" height="3.8" fill-opacity="0.95"/>
<rect x="374.6" y="209.7" width="6.7" height="3.8" fill-opacity="0.95"/>
<rect x="381.5" y="209.4" width="8.7" height="3.8" fill-opacity="0.95"/>
<rect x="390.6" y="209.2" width="6.0" height="3.8" fill-opacity="0.95"/>
<rect x="396.8" y="208.9" width="4.8" height="3.8" fill-opacity="0.95"/>
<rect x="401.6" y="207.0" width="7.4" height="3.0" fill-opacity="0.95"/>
<rect x="409.9" y="207.2" width="7.8" height="3.0" fill-opacity="0.95"/>
<rect x="418.2" y="207.1" width="6.9" height="3.0" fill-opacity="0.95"/>
<rect x="426.2" y="206.9" width="2.8" height="3.0" fill-opacity="0.95"/>
<rect x="430.5" y="212.0" width="1.0" height="2.4" fill-opacity="0.90"/>
<rect x="433.0" y="208.7" width="6.8" height="3.4" fill-opacity="0.95"/>
<rect x="440.0" y="209.4" width="7.0" height="3.4" fill-opacity="0.95"/>
<rect x="447.3" y="208.5" width="5.3" height="3.4" fill-opacity="0.95"/>
<rect x="458.0" y="210.1" width="37.0" height="3.4" fill-opacity="0.97"/>
<rect x="458.0" y="213.7" width="37.0" height="3.6" fill-opacity="0.97"/>
<rect x="480.0" y="209.2" width="15.0" height="7.2" fill-opacity="0.90"/>
<rect x="495.0" y="211.5" width="6.0" height="6.5" fill-opacity="0.60"/>
<rect x="501.0" y="209.3" width="65.7" height="8.0" fill-opacity="0.97"/>
<rect x="585.0" y="209.6" width="3.1" height="3.8" fill-opacity="0.94"/>
<rect x="588.4" y="210.8" width="4.5" height="3.8" fill-opacity="0.94"/>
<rect x="593.3" y="210.8" width="4.4" height="3.8" fill-opacity="0.94"/>
<rect x="597.9" y="210.7" width="2.6" height="3.8" fill-opacity="0.94"/>
<rect x="600.9" y="210.5" width="3.2" height="3.8" fill-opacity="0.94"/>
<rect x="604.5" y="210.0" width="3.0" height="3.8" fill-opacity="0.94"/>
<rect x="607.9" y="211.0" width="3.5" height="3.8" fill-opacity="0.94"/>
<rect x="611.7" y="211.2" width="2.8" height="3.8" fill-opacity="0.94"/>
<rect x="614.9" y="211.0" width="3.3" height="3.8" fill-opacity="0.94"/>
<rect x="618.6" y="210.3" width="3.2" height="3.8" fill-opacity="0.94"/>
<rect x="622.1" y="210.6" width="3.1" height="3.8" fill-opacity="0.94"/>
<rect x="625.6" y="210.5" width="4.4" height="3.8" fill-opacity="0.94"/>
<rect x="630.2" y="210.7" width="4.0" height="3.8" fill-opacity="0.94"/>
<rect x="634.5" y="211.5" width="1.5" height="3.8" fill-opacity="0.94"/>
<rect x="628.5" y="214.0" width="17.5" height="3.2" fill-opacity="0.60"/>
<rect x="640.0" y="210.0" width="6.0" height="4.0" fill-opacity="0.60"/>
<rect x="652.5" y="209.5" width="16.5" height="3.2" fill-opacity="0.97"/>
<rect x="652.5" y="213.3" width="16.5" height="3.4" fill-opacity="0.97"/>
<rect x="667.6" y="209.6" width="1.4" height="7.4" fill-opacity="0.70"/>
<rect x="680.0" y="208.4" width="3.5" height="8.6" fill-opacity="0.80"/>
<rect x="683.5" y="210.5" width="18.2" height="7.6" fill-opacity="0.97"/>
<rect x="719.0" y="211.3" width="25.6" height="4.8" fill-opacity="0.97"/>
<rect x="744.6" y="212.0" width="12.4" height="5.4" fill-opacity="0.60"/>
<rect x="757.0" y="209.9" width="4.0" height="3.2" fill-opacity="0.92"/>
<rect x="761.8" y="209.1" width="2.8" height="3.2" fill-opacity="0.92"/>
<rect x="765.2" y="209.2" width="3.5" height="3.2" fill-opacity="0.92"/>
<rect x="769.5" y="209.4" width="3.1" height="3.2" fill-opacity="0.92"/>
<rect x="773.3" y="209.5" width="3.7" height="3.2" fill-opacity="0.92"/>
<rect x="777.4" y="209.5" width="1.2" height="3.2" fill-opacity="0.92"/>
<rect x="786.0" y="209.3" width="8.3" height="3.6" fill-opacity="0.95"/>
<rect x="794.4" y="209.0" width="10.1" height="3.6" fill-opacity="0.95"/>
<rect x="804.8" y="208.8" width="5.2" height="3.6" fill-opacity="0.95"/>
<rect x="810.0" y="207.3" width="8.7" height="3.0" fill-opacity="0.95"/>
<rect x="819.1" y="207.2" width="6.6" height="3.0" fill-opacity="0.95"/>
<rect x="826.1" y="207.4" width="5.9" height="3.0" fill-opacity="0.95"/>
<rect x="834.0" y="208.7" width="5.1" height="3.4" fill-opacity="0.95"/>
<rect x="839.4" y="208.8" width="4.6" height="3.4" fill-opacity="0.95"/>
<rect x="844.2" y="209.0" width="6.0" height="3.4" fill-opacity="0.95"/>
<rect x="850.5" y="208.5" width="4.1" height="3.4" fill-opacity="0.95"/>
<rect x="857.8" y="210.3" width="41.2" height="3.2" fill-opacity="0.97"/>
<rect x="857.8" y="213.9" width="41.2" height="3.4" fill-opacity="0.97"/>
<rect x="880.0" y="209.6" width="19.0" height="3.4" fill-opacity="0.80"/>
<rect x="899.0" y="211.5" width="5.0" height="6.5" fill-opacity="0.60"/>
<rect x="904.0" y="209.3" width="63.8" height="8.0" fill-opacity="0.97"/>
<rect x="987.0" y="210.4" width="3.3" height="3.8" fill-opacity="0.94"/>
<rect x="990.6" y="210.4" width="2.8" height="3.8" fill-opacity="0.94"/>
<rect x="993.8" y="210.8" width="3.2" height="3.8" fill-opacity="0.94"/>
<rect x="997.3" y="210.9" width="2.5" height="3.8" fill-opacity="0.94"/>
<rect x="1000.1" y="210.2" width="4.0" height="3.8" fill-opacity="0.94"/>
<rect x="1004.4" y="210.6" width="4.0" height="3.8" fill-opacity="0.94"/>
<rect x="1008.8" y="210.9" width="3.2" height="3.8" fill-opacity="0.94"/>
<rect x="1012.4" y="211.2" width="4.1" height="3.8" fill-opacity="0.94"/>
<rect x="1016.8" y="210.7" width="4.3" height="3.8" fill-opacity="0.94"/>
<rect x="1021.5" y="210.7" width="3.4" height="3.8" fill-opacity="0.94"/>
<rect x="1025.4" y="210.6" width="4.5" height="3.8" fill-opacity="0.94"/>
<rect x="1036.4" y="210.6" width="1.2" height="1.8" fill-opacity="0.90"/>
<rect x="1036.4" y="214.2" width="1.2" height="2.0" fill-opacity="0.90"/>
<rect x="1050.7" y="209.7" width="31.8" height="3.4" fill-opacity="0.97"/>
<rect x="1050.7" y="213.5" width="31.8" height="3.4" fill-opacity="0.97"/>
<rect x="1072.0" y="209.0" width="10.5" height="8.0" fill-opacity="0.70"/>
<rect x="1082.5" y="211.5" width="22.5" height="6.6" fill-opacity="0.97"/>
<rect x="1120.8" y="210.7" width="4.1" height="3.8" fill-opacity="0.94"/>
<rect x="1125.4" y="209.9" width="3.5" height="3.8" fill-opacity="0.94"/>
<rect x="1129.4" y="210.5" width="4.4" height="3.8" fill-opacity="0.94"/>
<rect x="1134.2" y="210.8" width="3.4" height="3.8" fill-opacity="0.94"/>
<rect x="1137.9" y="211.1" width="2.8" height="3.8" fill-opacity="0.94"/>
<rect x="1140.9" y="210.9" width="4.2" height="3.8" fill-opacity="0.94"/>
<rect x="1145.6" y="210.2" width="4.3" height="3.8" fill-opacity="0.94"/>
<rect x="1150.4" y="210.3" width="2.5" height="3.8" fill-opacity="0.94"/>
<rect x="1153.2" y="211.1" width="2.5" height="3.8" fill-opacity="0.94"/>
<rect x="1156.3" y="210.9" width="3.8" height="3.8" fill-opacity="0.94"/>
<rect x="1160.4" y="210.4" width="4.1" height="3.8" fill-opacity="0.94"/>
<rect x="1164.8" y="210.6" width="4.4" height="3.8" fill-opacity="0.94"/>
<rect x="1169.5" y="210.5" width="2.3" height="3.8" fill-opacity="0.94"/>
<rect x="66.0" y="245.6" width="4.4" height="6.0" fill-opacity="0.93"/>
<rect x="70.6" y="245.5" width="4.1" height="6.0" fill-opacity="0.93"/>
<rect x="74.9" y="245.3" width="3.5" height="6.0" fill-opacity="0.93"/>
<rect x="78.7" y="245.4" width="3.7" height="6.0" fill-opacity="0.93"/>
<rect x="82.5" y="245.9" width="4.2" height="6.0" fill-opacity="0.93"/>
<rect x="86.9" y="245.7" width="2.8" height="6.0" fill-opacity="0.93"/>
<rect x="89.9" y="246.0" width="3.4" height="6.0" fill-opacity="0.93"/>
<rect x="93.6" y="245.7" width="2.4" height="6.0" fill-opacity="0.93"/>
<rect x="96.0" y="244.8" width="3.0" height="6.2" fill-opacity="0.90"/>
<rect x="99.1" y="244.1" width="3.4" height="6.2" fill-opacity="0.90"/>
<rect x="102.9" y="244.2" width="2.8" height="6.2" fill-opacity="0.90"/>
<rect x="105.9" y="243.7" width="4.1" height="6.2" fill-opacity="0.90"/>
<rect x="110.0" y="244.1" width="5.3" height="5.8" fill-opacity="0.95"/>
<rect x="115.7" y="243.7" width="6.2" height="5.8" fill-opacity="0.95"/>
<rect x="122.4" y="243.7" width="6.3" height="5.8" fill-opacity="0.95"/>
<rect x="131.6" y="246.0" width="1.4" height="5.5" fill-opacity="0.90"/>
<rect x="136.5" y="245.8" width="11.0" height="5.2" fill-opacity="0.95"/>
<rect x="148.5" y="245.7" width="3.6" height="6.0" fill-opacity="0.93"/>
<rect x="152.4" y="245.7" width="2.8" height="6.0" fill-opacity="0.93"/>
<rect x="155.4" y="245.4" width="3.0" height="6.0" fill-opacity="0.93"/>
<rect x="158.6" y="245.5" width="2.7" height="6.0" fill-opacity="0.93"/>
<rect x="161.6" y="245.8" width="3.5" height="6.0" fill-opacity="0.93"/>
<rect x="165.2" y="246.1" width="3.9" height="6.0" fill-opacity="0.93"/>
<rect x="169.4" y="245.4" width="3.3" height="6.0" fill-opacity="0.93"/>
<rect x="172.9" y="245.7" width="2.5" height="6.0" fill-opacity="0.93"/>
<rect x="175.7" y="246.1" width="2.8" height="6.0" fill-opacity="0.93"/>
<rect x="178.5" y="244.3" width="3.9" height="6.2" fill-opacity="0.90"/>
<rect x="182.8" y="244.5" width="2.6" height="6.2" fill-opacity="0.90"/>
<rect x="185.6" y="244.1" width="3.5" height="6.2" fill-opacity="0.90"/>
<rect x="189.3" y="244.0" width="3.2" height="6.2" fill-opacity="0.90"/>
<rect x="192.5" y="244.0" width="4.2" height="5.8" fill-opacity="0.95"/>
<rect x="197.1" y="243.9" width="4.6" height="5.8" fill-opacity="0.95"/>
<rect x="202.2" y="243.8" width="3.7" height="5.8" fill-opacity="0.95"/>
<rect x="206.1" y="243.8" width="5.3" height="5.8" fill-opacity="0.95"/>
<rect x="214.6" y="246.0" width="1.4" height="5.5" fill-opacity="0.90"/>
<rect x="220.6" y="245.6" width="11.4" height="5.2" fill-opacity="0.97"/>
<rect x="585.0" y="247.2" width="4.3" height="4.6" fill-opacity="0.92"/>
<rect x="589.9" y="248.2" width="3.8" height="4.6" fill-opacity="0.92"/>
<rect x="594.1" y="247.8" width="3.9" height="4.6" fill-opacity="0.92"/>
<rect x="598.5" y="247.2" width="4.3" height="4.6" fill-opacity="0.92"/>
<rect x="603.5" y="248.0" width="2.6" height="4.6" fill-opacity="0.92"/>
<rect x="606.5" y="248.0" width="4.0" height="4.6" fill-opacity="0.92"/>
<rect x="611.2" y="247.3" width="1.9" height="4.6" fill-opacity="0.92"/>
<rect x="614.1" y="248.8" width="21.9" height="4.4" fill-opacity="0.97"/>
<rect x="987.0" y="248.2" width="2.4" height="4.6" fill-opacity="0.92"/>
<rect x="989.8" y="247.3" width="3.8" height="4.6" fill-opacity="0.92"/>
<rect x="993.9" y="247.7" width="4.1" height="4.6" fill-opacity="0.92"/>
<rect x="998.7" y="247.7" width="3.6" height="4.6" fill-opacity="0.92"/>
<rect x="1002.7" y="247.6" width="2.7" height="4.6" fill-opacity="0.92"/>
<rect x="1005.9" y="247.8" width="3.4" height="4.6" fill-opacity="0.92"/>
<rect x="1009.6" y="247.2" width="0.9" height="4.6" fill-opacity="0.92"/>
<rect x="1011.4" y="248.8" width="18.4" height="4.4" fill-opacity="0.97"/>
<rect x="1121.0" y="247.4" width="3.7" height="4.6" fill-opacity="0.92"/>
<rect x="1125.1" y="248.3" width="4.4" height="4.6" fill-opacity="0.92"/>
<rect x="1129.8" y="247.7" width="2.7" height="4.6" fill-opacity="0.92"/>
<rect x="1133.1" y="247.7" width="2.9" height="4.6" fill-opacity="0.92"/>
<rect x="1136.6" y="248.0" width="3.9" height="4.6" fill-opacity="0.92"/>
<rect x="1140.9" y="247.4" width="2.9" height="4.6" fill-opacity="0.92"/>
<rect x="1144.2" y="247.6" width="2.9" height="4.6" fill-opacity="0.92"/>
<rect x="1147.4" y="247.4" width="2.2" height="4.6" fill-opacity="0.92"/>
<rect x="1150.6" y="248.8" width="22.4" height="4.4" fill-opacity="0.97"/>
<rect x="29.8" y="325.6" width="1.2" height="3.0" fill="#a0d2f5" fill-opacity="0.78"/>
<rect x="158.8" y="328.3" width="10.2" height="2.9" fill="#a0d2f5" fill-opacity="0.65"/>
<rect x="180.0" y="328.3" width="11.8" height="2.9" fill="#a0d2f5" fill-opacity="0.65"/>
<rect x="203.0" y="328.3" width="10.0" height="2.9" fill="#a0d2f5" fill-opacity="0.65"/>
<rect x="224.0" y="328.3" width="9.4" height="2.9" fill="#a0d2f5" fill-opacity="0.65"/>
<rect x="232.8" y="319.0" width="1.4" height="8.5" fill="#a0d2f5" fill-opacity="0.91"/>
<rect x="229.0" y="325.5" width="4.0" height="2.9" fill="#a0d2f5" fill-opacity="0.65"/>
<rect x="251.1" y="319.0" width="5.6" height="2.8" fill="#a0d2f5" fill-opacity="0.72"/>
<rect x="244.9" y="325.7" width="2.7" height="2.9" fill="#a0d2f5" fill-opacity="0.65"/>
<rect x="246.9" y="325.7" width="10.2" height="5.4" fill="#a0d2f5" fill-opacity="0.65"/>
<rect x="247.3" y="325.9" width="9.5" height="2.4" fill-opacity="0.85"/>
<rect x="247.9" y="328.3" width="8.9" height="2.6" fill-opacity="0.80"/>
<rect x="271.0" y="319.0" width="7.4" height="2.8" fill="#a0d2f5" fill-opacity="0.72"/>
<rect x="266.6" y="325.7" width="2.7" height="2.9" fill="#a0d2f5" fill-opacity="0.65"/>
<rect x="268.6" y="325.7" width="10.2" height="5.4" fill="#a0d2f5" fill-opacity="0.65"/>
<rect x="269.0" y="325.9" width="9.5" height="2.4" fill-opacity="0.85"/>
<rect x="269.6" y="328.3" width="8.9" height="2.6" fill-opacity="0.80"/>
<rect x="292.7" y="319.0" width="7.4" height="2.8" fill="#a0d2f5" fill-opacity="0.72"/>
<rect x="288.3" y="325.7" width="2.7" height="2.9" fill="#a0d2f5" fill-opacity="0.65"/>
<rect x="290.3" y="325.7" width="10.2" height="5.4" fill="#a0d2f5" fill-opacity="0.65"/>
<rect x="290.7" y="325.9" width="9.5" height="2.4" fill-opacity="0.85"/>
<rect x="291.3" y="328.3" width="8.9" height="2.6" fill-opacity="0.80"/>
<rect x="316.3" y="319.0" width="5.6" height="2.8" fill="#a0d2f5" fill-opacity="0.72"/>
<rect x="310.1" y="325.7" width="2.7" height="2.9" fill="#a0d2f5" fill-opacity="0.65"/>
<rect x="312.1" y="325.7" width="10.2" height="5.4" fill="#a0d2f5" fill-opacity="0.65"/>
<rect x="312.5" y="325.9" width="9.5" height="2.4" fill-opacity="0.85"/>
<rect x="313.1" y="328.3" width="8.9" height="2.6" fill-opacity="0.80"/>
<rect x="317.8" y="322.5" width="1.3" height="3.5" fill-opacity="0.80"/>
<rect x="336.2" y="319.0" width="7.4" height="2.8" fill="#a0d2f5" fill-opacity="0.72"/>
<rect x="331.8" y="325.7" width="2.7" height="2.9" fill="#a0d2f5" fill-opacity="0.65"/>
<rect x="333.8" y="325.7" width="10.2" height="5.4" fill="#a0d2f5" fill-opacity="0.65"/>
<rect x="334.2" y="325.9" width="9.5" height="2.4" fill-opacity="0.85"/>
<rect x="334.8" y="328.3" width="8.9" height="2.6" fill-opacity="0.80"/>
<rect x="357.9" y="319.0" width="7.4" height="2.8" fill="#a0d2f5" fill-opacity="0.72"/>
<rect x="353.5" y="325.7" width="2.7" height="2.9" fill="#a0d2f5" fill-opacity="0.65"/>
<rect x="355.5" y="325.7" width="10.2" height="5.4" fill="#a0d2f5" fill-opacity="0.65"/>
<rect x="355.9" y="325.9" width="9.5" height="2.4" fill-opacity="0.85"/>
<rect x="356.5" y="328.3" width="8.9" height="2.6" fill-opacity="0.80"/>
<rect x="381.4" y="319.0" width="5.6" height="2.8" fill="#a0d2f5" fill-opacity="0.72"/>
<rect x="375.2" y="325.7" width="2.7" height="2.9" fill="#a0d2f5" fill-opacity="0.65"/>
<rect x="377.2" y="325.7" width="10.2" height="5.4" fill="#a0d2f5" fill-opacity="0.65"/>
<rect x="377.6" y="325.9" width="9.5" height="2.4" fill-opacity="0.85"/>
<rect x="378.2" y="328.3" width="8.9" height="2.6" fill-opacity="0.80"/>
<rect x="401.3" y="319.0" width="7.4" height="2.8" fill="#a0d2f5" fill-opacity="0.72"/>
<rect x="396.9" y="325.7" width="2.7" height="2.9" fill="#a0d2f5" fill-opacity="0.65"/>
<rect x="398.9" y="325.7" width="10.2" height="5.4" fill="#a0d2f5" fill-opacity="0.65"/>
<rect x="399.3" y="325.9" width="9.5" height="2.4" fill-opacity="0.85"/>
<rect x="399.9" y="328.3" width="8.9" height="2.6" fill-opacity="0.80"/>
<rect x="404.6" y="322.5" width="1.3" height="3.5" fill-opacity="0.80"/>
<rect x="423.1" y="319.0" width="7.4" height="2.8" fill="#a0d2f5" fill-opacity="0.72"/>
<rect x="418.7" y="325.7" width="2.7" height="2.9" fill="#a0d2f5" fill-opacity="0.65"/>
<rect x="420.7" y="325.7" width="10.2" height="5.4" fill="#a0d2f5" fill-opacity="0.65"/>
<rect x="421.1" y="325.9" width="9.5" height="2.4" fill-opacity="0.85"/>
<rect x="421.7" y="328.3" width="8.9" height="2.6" fill-opacity="0.80"/>
<rect x="446.6" y="319.0" width="5.6" height="2.8" fill="#a0d2f5" fill-opacity="0.72"/>
<rect x="440.4" y="325.7" width="2.7" height="2.9" fill="#a0d2f5" fill-opacity="0.65"/>
<rect x="442.4" y="325.7" width="10.2" height="5.4" fill="#a0d2f5" fill-opacity="0.65"/>
<rect x="442.8" y="325.9" width="9.5" height="2.4" fill-opacity="0.85"/>
<rect x="443.4" y="328.3" width="8.9" height="2.6" fill-opacity="0.80"/>
<rect x="466.5" y="319.0" width="7.4" height="2.8" fill="#a0d2f5" fill-opacity="0.72"/>
<rect x="462.1" y="325.7" width="2.7" height="2.9" fill="#a0d2f5" fill-opacity="0.65"/>
<rect x="464.1" y="325.7" width="10.2" height="5.4" fill="#a0d2f5" fill-opacity="0.65"/>
<rect x="464.5" y="325.9" width="9.5" height="2.4" fill-opacity="0.85"/>
<rect x="465.1" y="328.3" width="8.9" height="2.6" fill-opacity="0.80"/>
<rect x="488.2" y="319.0" width="7.4" height="2.8" fill="#a0d2f5" fill-opacity="0.72"/>
<rect x="483.8" y="325.7" width="2.7" height="2.9" fill="#a0d2f5" fill-opacity="0.65"/>
<rect x="485.8" y="325.7" width="10.2" height="5.4" fill="#a0d2f5" fill-opacity="0.65"/>
<rect x="486.2" y="325.9" width="9.5" height="2.4" fill-opacity="0.85"/>
<rect x="486.8" y="328.3" width="8.9" height="2.6" fill-opacity="0.80"/>
<rect x="491.5" y="322.5" width="1.3" height="3.5" fill-opacity="0.80"/>
<rect x="511.7" y="319.0" width="5.6" height="2.8" fill="#a0d2f5" fill-opacity="0.72"/>
<rect x="505.5" y="325.7" width="2.7" height="2.9" fill="#a0d2f5" fill-opacity="0.65"/>
<rect x="507.5" y="325.7" width="10.2" height="5.4" fill="#a0d2f5" fill-opacity="0.65"/>
<rect x="507.9" y="325.9" width="9.5" height="2.4" fill-opacity="0.85"/>
<rect x="508.5" y="328.3" width="8.9" height="2.6" fill-opacity="0.80"/>
<rect x="531.7" y="319.0" width="7.4" height="2.8" fill="#a0d2f5" fill-opacity="0.72"/>
<rect x="527.3" y="325.7" width="2.7" height="2.9" fill="#a0d2f5" fill-opacity="0.65"/>
<rect x="529.3" y="325.7" width="10.2" height="5.4" fill="#a0d2f5" fill-opacity="0.65"/>
<rect x="529.7" y="325.9" width="9.5" height="2.4" fill-opacity="0.85"/>
<rect x="530.3" y="328.3" width="8.9" height="2.6" fill-opacity="0.80"/>
<rect x="553.4" y="319.0" width="7.4" height="2.8" fill="#a0d2f5" fill-opacity="0.72"/>
<rect x="549.0" y="325.7" width="2.7" height="2.9" fill="#a0d2f5" fill-opacity="0.65"/>
<rect x="551.0" y="325.7" width="10.2" height="5.4" fill="#a0d2f5" fill-opacity="0.65"/>
<rect x="551.4" y="325.9" width="9.5" height="2.4" fill-opacity="0.85"/>
<rect x="552.0" y="328.3" width="8.9" height="2.6" fill-opacity="0.80"/>
<rect x="569.4" y="328.6" width="11.5" height="2.8" fill="#a0d2f5" fill-opacity="0.72"/>
<rect x="596.8" y="319.0" width="7.4" height="2.8" fill="#a0d2f5" fill-opacity="0.72"/>
<rect x="592.4" y="325.7" width="2.7" height="2.9" fill="#a0d2f5" fill-opacity="0.65"/>
<rect x="594.4" y="325.7" width="10.2" height="5.4" fill="#a0d2f5" fill-opacity="0.65"/>
<rect x="594.8" y="325.9" width="9.5" height="2.4" fill-opacity="0.85"/>
<rect x="595.4" y="328.3" width="8.9" height="2.6" fill-opacity="0.80"/>
<rect x="618.5" y="319.0" width="7.4" height="2.8" fill="#a0d2f5" fill-opacity="0.72"/>
<rect x="614.1" y="325.7" width="2.7" height="2.9" fill="#a0d2f5" fill-opacity="0.65"/>
<rect x="616.1" y="325.7" width="10.2" height="5.4" fill="#a0d2f5" fill-opacity="0.65"/>
<rect x="616.5" y="325.9" width="9.5" height="2.4" fill-opacity="0.85"/>
<rect x="617.1" y="328.3" width="8.9" height="2.6" fill-opacity="0.80"/>
<rect x="642.1" y="319.0" width="5.6" height="2.8" fill="#a0d2f5" fill-opacity="0.72"/>
<rect x="635.9" y="325.7" width="2.7" height="2.9" fill="#a0d2f5" fill-opacity="0.65"/>
<rect x="637.9" y="325.7" width="10.2" height="5.4" fill="#a0d2f5" fill-opacity="0.65"/>
<rect x="638.3" y="325.9" width="9.5" height="2.4" fill-opacity="0.85"/>
<rect x="638.9" y="328.3" width="8.9" height="2.6" fill-opacity="0.80"/>
<rect x="662.0" y="319.0" width="7.4" height="2.8" fill="#a0d2f5" fill-opacity="0.72"/>
<rect x="657.6" y="325.7" width="2.7" height="2.9" fill="#a0d2f5" fill-opacity="0.65"/>
<rect x="659.6" y="325.7" width="10.2" height="5.4" fill="#a0d2f5" fill-opacity="0.65"/>
<rect x="660.0" y="325.9" width="9.5" height="2.4" fill-opacity="0.85"/>
<rect x="660.6" y="328.3" width="8.9" height="2.6" fill-opacity="0.80"/>
<rect x="665.3" y="322.5" width="1.3" height="3.5" fill-opacity="0.80"/>
<rect x="683.7" y="319.0" width="7.4" height="2.8" fill="#a0d2f5" fill-opacity="0.72"/>
<rect x="679.3" y="325.7" width="2.7" height="2.9" fill="#a0d2f5" fill-opacity="0.65"/>
<rect x="681.3" y="325.7" width="10.2" height="5.4" fill="#a0d2f5" fill-opacity="0.65"/>
<rect x="681.7" y="325.9" width="9.5" height="2.4" fill-opacity="0.85"/>
<rect x="682.3" y="328.3" width="8.9" height="2.6" fill-opacity="0.80"/>
<rect x="699.7" y="328.6" width="11.5" height="2.8" fill="#a0d2f5" fill-opacity="0.72"/>
<rect x="727.1" y="319.0" width="7.4" height="2.8" fill="#a0d2f5" fill-opacity="0.72"/>
<rect x="722.7" y="325.7" width="2.7" height="2.9" fill="#a0d2f5" fill-opacity="0.65"/>
<rect x="724.7" y="325.7" width="10.2" height="5.4" fill="#a0d2f5" fill-opacity="0.65"/>
<rect x="725.1" y="325.9" width="9.5" height="2.4" fill-opacity="0.85"/>
<rect x="725.7" y="328.3" width="8.9" height="2.6" fill-opacity="0.80"/>
<rect x="748.9" y="319.0" width="7.4" height="2.8" fill="#a0d2f5" fill-opacity="0.72"/>
<rect x="744.5" y="325.7" width="2.7" height="2.9" fill="#a0d2f5" fill-opacity="0.65"/>
<rect x="746.5" y="325.7" width="10.2" height="5.4" fill="#a0d2f5" fill-opacity="0.65"/>
<rect x="746.9" y="325.9" width="9.5" height="2.4" fill-opacity="0.85"/>
<rect x="747.5" y="328.3" width="8.9" height="2.6" fill-opacity="0.80"/>
<rect x="752.2" y="322.5" width="1.3" height="3.5" fill-opacity="0.80"/>
<rect x="772.4" y="319.0" width="5.6" height="2.8" fill="#a0d2f5" fill-opacity="0.72"/>
<rect x="766.2" y="325.7" width="2.7" height="2.9" fill="#a0d2f5" fill-opacity="0.65"/>
<rect x="768.2" y="325.7" width="10.2" height="5.4" fill="#a0d2f5" fill-opacity="0.65"/>
<rect x="768.6" y="325.9" width="9.5" height="2.4" fill-opacity="0.85"/>
<rect x="769.2" y="328.3" width="8.9" height="2.6" fill-opacity="0.80"/>
<rect x="792.3" y="319.0" width="7.4" height="2.8" fill="#a0d2f5" fill-opacity="0.72"/>
<rect x="787.9" y="325.7" width="2.7" height="2.9" fill="#a0d2f5" fill-opacity="0.65"/>
<rect x="789.9" y="325.7" width="10.2" height="5.4" fill="#a0d2f5" fill-opacity="0.65"/>
<rect x="790.3" y="325.9" width="9.5" height="2.4" fill-opacity="0.85"/>
<rect x="790.9" y="328.3" width="8.9" height="2.6" fill-opacity="0.80"/>
<rect x="814.0" y="319.0" width="7.4" height="2.8" fill="#a0d2f5" fill-opacity="0.72"/>
<rect x="809.6" y="325.7" width="2.7" height="2.9" fill="#a0d2f5" fill-opacity="0.65"/>
<rect x="811.6" y="325.7" width="10.2" height="5.4" fill="#a0d2f5" fill-opacity="0.65"/>
<rect x="812.0" y="325.9" width="9.5" height="2.4" fill-opacity="0.85"/>
<rect x="812.6" y="328.3" width="8.9" height="2.6" fill-opacity="0.80"/>
<rect x="837.5" y="319.0" width="5.6" height="2.8" fill="#a0d2f5" fill-opacity="0.72"/>
<rect x="831.3" y="325.7" width="2.7" height="2.9" fill="#a0d2f5" fill-opacity="0.65"/>
<rect x="833.3" y="325.7" width="10.2" height="5.4" fill="#a0d2f5" fill-opacity="0.65"/>
<rect x="833.7" y="325.9" width="9.5" height="2.4" fill-opacity="0.85"/>
<rect x="834.3" y="328.3" width="8.9" height="2.6" fill-opacity="0.80"/>
<rect x="839.0" y="322.5" width="1.3" height="3.5" fill-opacity="0.80"/>
<rect x="857.5" y="319.0" width="7.4" height="2.8" fill="#a0d2f5" fill-opacity="0.72"/>
<rect x="853.1" y="325.7" width="2.7" height="2.9" fill="#a0d2f5" fill-opacity="0.65"/>
<rect x="855.1" y="325.7" width="10.2" height="5.4" fill="#a0d2f5" fill-opacity="0.65"/>
<rect x="855.5" y="325.9" width="9.5" height="2.4" fill-opacity="0.85"/>
<rect x="856.1" y="328.3" width="8.9" height="2.6" fill-opacity="0.80"/>
<rect x="879.2" y="319.0" width="7.4" height="2.8" fill="#a0d2f5" fill-opacity="0.72"/>
<rect x="874.8" y="325.7" width="2.7" height="2.9" fill="#a0d2f5" fill-opacity="0.65"/>
<rect x="876.8" y="325.7" width="10.2" height="5.4" fill="#a0d2f5" fill-opacity="0.65"/>
<rect x="877.2" y="325.9" width="9.5" height="2.4" fill-opacity="0.85"/>
<rect x="877.8" y="328.3" width="8.9" height="2.6" fill-opacity="0.80"/>
<rect x="902.7" y="319.0" width="5.6" height="2.8" fill="#a0d2f5" fill-opacity="0.72"/>
<rect x="896.5" y="325.7" width="2.7" height="2.9" fill="#a0d2f5" fill-opacity="0.65"/>
<rect x="898.5" y="325.7" width="10.2" height="5.4" fill="#a0d2f5" fill-opacity="0.65"/>
<rect x="898.9" y="325.9" width="9.5" height="2.4" fill-opacity="0.85"/>
<rect x="899.5" y="328.3" width="8.9" height="2.6" fill-opacity="0.80"/>
<rect x="922.6" y="319.0" width="7.4" height="2.8" fill="#a0d2f5" fill-opacity="0.72"/>
<rect x="918.2" y="325.7" width="2.7" height="2.9" fill="#a0d2f5" fill-opacity="0.65"/>
<rect x="920.2" y="325.7" width="10.2" height="5.4" fill="#a0d2f5" fill-opacity="0.65"/>
<rect x="920.6" y="325.9" width="9.5" height="2.4" fill-opacity="0.85"/>
<rect x="921.2" y="328.3" width="8.9" height="2.6" fill-opacity="0.80"/>
<rect x="925.9" y="322.5" width="1.3" height="3.5" fill-opacity="0.80"/>
<rect x="944.3" y="319.0" width="7.4" height="2.8" fill="#a0d2f5" fill-opacity="0.72"/>
<rect x="939.9" y="325.7" width="2.7" height="2.9" fill="#a0d2f5" fill-opacity="0.65"/>
<rect x="941.9" y="325.7" width="10.2" height="5.4" fill="#a0d2f5" fill-opacity="0.65"/>
<rect x="942.3" y="325.9" width="9.5" height="2.4" fill-opacity="0.85"/>
<rect x="942.9" y="328.3" width="8.9" height="2.6" fill-opacity="0.80"/>
<rect x="967.9" y="319.0" width="5.6" height="2.8" fill="#a0d2f5" fill-opacity="0.72"/>
<rect x="961.7" y="325.7" width="2.7" height="2.9" fill="#a0d2f5" fill-opacity="0.65"/>
<rect x="963.7" y="325.7" width="10.2" height="5.4" fill="#a0d2f5" fill-opacity="0.65"/>
<rect x="964.1" y="325.9" width="9.5" height="2.4" fill-opacity="0.85"/>
<rect x="964.7" y="328.3" width="8.9" height="2.6" fill-opacity="0.80"/>
<rect x="987.8" y="319.0" width="7.4" height="2.8" fill="#a0d2f5" fill-opacity="0.72"/>
<rect x="983.4" y="325.7" width="2.7" height="2.9" fill="#a0d2f5" fill-opacity="0.65"/>
<rect x="985.4" y="325.7" width="10.2" height="5.4" fill="#a0d2f5" fill-opacity="0.65"/>
<rect x="985.8" y="325.9" width="9.5" height="2.4" fill-opacity="0.85"/>
<rect x="986.4" y="328.3" width="8.9" height="2.6" fill-opacity="0.80"/>
<rect x="1009.5" y="319.0" width="7.4" height="2.8" fill="#a0d2f5" fill-opacity="0.72"/>
<rect x="1005.1" y="325.7" width="2.7" height="2.9" fill="#a0d2f5" fill-opacity="0.65"/>
<rect x="1007.1" y="325.7" width="10.2" height="5.4" fill="#a0d2f5" fill-opacity="0.65"/>
<rect x="1007.5" y="325.9" width="9.5" height="2.4" fill-opacity="0.85"/>
<rect x="1008.1" y="328.3" width="8.9" height="2.6" fill-opacity="0.80"/>
<rect x="1012.8" y="322.5" width="1.3" height="3.5" fill-opacity="0.80"/>
<rect x="1033.0" y="319.0" width="5.6" height="2.8" fill="#a0d2f5" fill-opacity="0.72"/>
<rect x="1026.8" y="325.7" width="2.7" height="2.9" fill="#a0d2f5" fill-opacity="0.65"/>
<rect x="1028.8" y="325.7" width="10.2" height="5.4" fill="#a0d2f5" fill-opacity="0.65"/>
<rect x="1029.2" y="325.9" width="9.5" height="2.4" fill-opacity="0.85"/>
<rect x="1029.8" y="328.3" width="8.9" height="2.6" fill-opacity="0.80"/>
<rect x="1052.9" y="319.0" width="7.4" height="2.8" fill="#a0d2f5" fill-opacity="0.72"/>
<rect x="1048.5" y="325.7" width="2.7" height="2.9" fill="#a0d2f5" fill-opacity="0.65"/>
<rect x="1050.5" y="325.7" width="10.2" height="5.4" fill="#a0d2f5" fill-opacity="0.65"/>
<rect x="1050.9" y="325.9" width="9.5" height="2.4" fill-opacity="0.85"/>
<rect x="1051.5" y="328.3" width="8.9" height="2.6" fill-opacity="0.80"/>
<rect x="1074.7" y="319.0" width="7.4" height="2.8" fill="#a0d2f5" fill-opacity="0.72"/>
<rect x="1070.3" y="325.7" width="2.7" height="2.9" fill="#a0d2f5" fill-opacity="0.65"/>
<rect x="1072.3" y="325.7" width="10.2" height="5.4" fill="#a0d2f5" fill-opacity="0.65"/>
<rect x="1072.7" y="325.9" width="9.5" height="2.4" fill-opacity="0.85"/>
<rect x="1073.3" y="328.3" width="8.9" height="2.6" fill-opacity="0.80"/>
<rect x="1098.2" y="319.0" width="5.6" height="2.8" fill="#a0d2f5" fill-opacity="0.72"/>
<rect x="1092.0" y="325.7" width="2.7" height="2.9" fill="#a0d2f5" fill-opacity="0.65"/>
<rect x="1094.0" y="325.7" width="10.2" height="5.4" fill="#a0d2f5" fill-opacity="0.65"/>
<rect x="1094.4" y="325.9" width="9.5" height="2.4" fill-opacity="0.85"/>
<rect x="1095.0" y="328.3" width="8.9" height="2.6" fill-opacity="0.80"/>
<rect x="1099.7" y="322.5" width="1.3" height="3.5" fill-opacity="0.80"/>
<rect x="1118.1" y="319.0" width="7.4" height="2.8" fill="#a0d2f5" fill-opacity="0.72"/>
<rect x="1113.7" y="325.7" width="2.7" height="2.9" fill="#a0d2f5" fill-opacity="0.65"/>
<rect x="1115.7" y="325.7" width="10.2" height="5.4" fill="#a0d2f5" fill-opacity="0.65"/>
<rect x="1116.1" y="325.9" width="9.5" height="2.4" fill-opacity="0.85"/>
<rect x="1116.7" y="328.3" width="8.9" height="2.6" fill-opacity="0.80"/>
<rect x="1139.8" y="319.0" width="7.4" height="2.8" fill="#a0d2f5" fill-opacity="0.72"/>
<rect x="1135.4" y="325.7" width="2.7" height="2.9" fill="#a0d2f5" fill-opacity="0.65"/>
<rect x="1137.4" y="325.7" width="10.2" height="5.4" fill="#a0d2f5" fill-opacity="0.65"/>
<rect x="1137.8" y="325.9" width="9.5" height="2.4" fill-opacity="0.85"/>
<rect x="1138.4" y="328.3" width="8.9" height="2.6" fill-opacity="0.80"/>
<rect x="1163.3" y="319.0" width="5.6" height="2.8" fill="#a0d2f5" fill-opacity="0.72"/>
<rect x="1157.1" y="325.7" width="2.7" height="2.9" fill="#a0d2f5" fill-opacity="0.65"/>
<rect x="1159.1" y="325.7" width="10.2" height="5.4" fill="#a0d2f5" fill-opacity="0.65"/>
<rect x="1159.5" y="325.9" width="9.5" height="2.4" fill-opacity="0.85"/>
<rect x="1160.1" y="328.3" width="8.9" height="2.6" fill-opacity="0.80"/>
<rect x="1178.9" y="325.7" width="2.1" height="2.9" fill="#a0d2f5" fill-opacity="0.65"/>
<rect x="1180.9" y="325.7" width="0.1" height="5.4" fill="#a0d2f5" fill-opacity="0.65"/>
<rect x="149.0" y="356.2" width="15.5" height="6.8" fill-opacity="0.97"/>
<rect x="165.2" y="356.2" width="16.2" height="6.8" fill-opacity="0.97"/>
<rect x="182.8" y="357.0" width="15.4" height="3.0" fill-opacity="0.97"/>
<rect x="182.8" y="361.6" width="15.4" height="2.8" fill-opacity="0.97"/>
<rect x="200.0" y="355.0" width="14.2" height="3.4" fill-opacity="0.97"/>
<rect x="200.0" y="359.4" width="14.2" height="4.0" fill-opacity="0.97"/>
<rect x="216.3" y="356.5" width="15.7" height="6.5" fill-opacity="0.97"/>
<rect x="232.0" y="355.6" width="16.1" height="6.2" fill-opacity="0.93"/>
<rect x="232.0" y="355.6" width="1.9" height="9.6" fill-opacity="0.95"/>
<rect x="234.7" y="355.6" width="1.9" height="9.6" fill-opacity="0.95"/>
<rect x="237.4" y="355.6" width="1.9" height="9.6" fill-opacity="0.95"/>
<rect x="240.1" y="355.6" width="1.9" height="9.6" fill-opacity="0.95"/>
<rect x="242.9" y="355.6" width="1.9" height="7.1" fill-opacity="0.95"/>
<rect x="245.6" y="355.6" width="1.9" height="9.6" fill-opacity="0.95"/>
<rect x="248.3" y="356.8" width="16.1" height="6.2" fill-opacity="0.90"/>
<rect x="248.3" y="363.0" width="16.1" height="1.3" fill-opacity="0.75"/>
<rect x="248.3" y="356.8" width="1.9" height="5.6" fill-opacity="0.95"/>
<rect x="251.0" y="356.8" width="1.9" height="8.1" fill-opacity="0.95"/>
<rect x="253.7" y="356.8" width="1.9" height="8.1" fill-opacity="0.95"/>
<rect x="256.4" y="356.8" width="1.9" height="8.1" fill-opacity="0.95"/>
<rect x="259.1" y="356.8" width="1.9" height="5.6" fill-opacity="0.95"/>
<rect x="261.9" y="356.8" width="1.9" height="8.1" fill-opacity="0.95"/>
<rect x="264.6" y="356.3" width="16.1" height="6.2" fill-opacity="0.90"/>
<rect x="264.6" y="355.7" width="1.9" height="7.9" fill-opacity="0.95"/>
<rect x="267.3" y="355.7" width="1.9" height="10.4" fill-opacity="0.95"/>
<rect x="270.0" y="355.7" width="1.9" height="10.4" fill-opacity="0.95"/>
<rect x="272.7" y="355.7" width="1.9" height="10.4" fill-opacity="0.95"/>
<rect x="275.4" y="355.7" width="1.9" height="10.4" fill-opacity="0.95"/>
<rect x="278.2" y="355.7" width="1.9" height="10.4" fill-opacity="0.95"/>
<rect x="280.9" y="355.6" width="16.1" height="6.2" fill-opacity="0.93"/>
<rect x="280.9" y="355.6" width="1.9" height="10.5" fill-opacity="0.95"/>
<rect x="283.6" y="355.6" width="1.9" height="10.5" fill-opacity="0.95"/>
<rect x="286.3" y="355.6" width="1.9" height="10.5" fill-opacity="0.95"/>
<rect x="289.0" y="355.6" width="1.9" height="10.5" fill-opacity="0.95"/>
<rect x="291.7" y="355.6" width="1.9" height="8.0" fill-opacity="0.95"/>
<rect x="297.2" y="356.2" width="21.5" height="6.2" fill-opacity="0.90"/>
<rect x="297.2" y="356.2" width="1.9" height="9.3" fill-opacity="0.95"/>
<rect x="299.9" y="356.2" width="1.9" height="9.3" fill-opacity="0.95"/>
<rect x="302.6" y="356.2" width="1.9" height="9.3" fill-opacity="0.95"/>
<rect x="305.3" y="356.2" width="1.9" height="9.3" fill-opacity="0.95"/>
<rect x="308.0" y="356.2" width="1.9" height="9.3" fill-opacity="0.95"/>
<rect x="310.7" y="356.2" width="1.9" height="9.3" fill-opacity="0.95"/>
<rect x="313.4" y="356.2" width="1.9" height="9.3" fill-opacity="0.95"/>
<rect x="316.2" y="356.2" width="1.9" height="9.3" fill-opacity="0.95"/>
<rect x="318.9" y="356.5" width="10.7" height="6.2" fill-opacity="0.93"/>
<rect x="318.9" y="362.7" width="10.7" height="3.0" fill-opacity="0.75"/>
<rect x="318.9" y="356.5" width="1.9" height="9.8" fill-opacity="0.95"/>
<rect x="321.6" y="356.5" width="1.9" height="9.8" fill-opacity="0.95"/>
<rect x="324.3" y="356.5" width="1.9" height="9.8" fill-opacity="0.95"/>
<rect x="327.0" y="356.5" width="1.9" height="9.8" fill-opacity="0.95"/>
<rect x="329.7" y="355.8" width="32.4" height="6.2" fill-opacity="0.90"/>
<rect x="329.7" y="362.0" width="32.4" height="2.2" fill-opacity="0.75"/>
<rect x="329.7" y="355.8" width="1.9" height="9.0" fill-opacity="0.95"/>
<rect x="332.5" y="355.8" width="1.9" height="9.0" fill-opacity="0.95"/>
<rect x="335.2" y="355.8" width="1.9" height="9.0" fill-opacity="0.95"/>
<rect x="337.9" y="355.8" width="1.9" height="9.0" fill-opacity="0.95"/>
<rect x="340.6" y="355.8" width="1.9" height="9.0" fill-opacity="0.95"/>
<rect x="346.0" y="355.8" width="1.9" height="9.0" fill-opacity="0.95"/>
<rect x="348.7" y="355.8" width="1.9" height="9.0" fill-opacity="0.95"/>
<rect x="351.5" y="355.8" width="1.9" height="9.0" fill-opacity="0.95"/>
<rect x="354.2" y="355.8" width="1.9" height="6.5" fill-opacity="0.95"/>
<rect x="356.9" y="355.8" width="1.9" height="9.0" fill-opacity="0.95"/>
<rect x="359.6" y="355.8" width="1.9" height="9.0" fill-opacity="0.95"/>
<rect x="362.3" y="355.7" width="26.9" height="6.2" fill-opacity="0.93"/>
<rect x="362.3" y="361.9" width="26.9" height="2.8" fill-opacity="0.75"/>
<rect x="362.3" y="355.1" width="1.9" height="7.7" fill-opacity="0.95"/>
<rect x="365.0" y="355.1" width="1.9" height="10.2" fill-opacity="0.95"/>
<rect x="367.8" y="355.1" width="1.9" height="10.2" fill-opacity="0.95"/>
<rect x="370.5" y="355.1" width="1.9" height="10.2" fill-opacity="0.95"/>
<rect x="373.2" y="355.1" width="1.9" height="10.2" fill-opacity="0.95"/>
<rect x="375.9" y="355.1" width="1.9" height="10.2" fill-opacity="0.95"/>
<rect x="378.6" y="355.1" width="1.9" height="10.2" fill-opacity="0.95"/>
<rect x="381.3" y="355.1" width="1.9" height="7.7" fill-opacity="0.95"/>
<rect x="384.0" y="355.1" width="1.9" height="10.2" fill-opacity="0.95"/>
<rect x="386.8" y="355.1" width="1.9" height="10.2" fill-opacity="0.95"/>
<rect x="389.5" y="356.0" width="26.9" height="6.2" fill-opacity="0.60"/>
<rect x="389.5" y="355.4" width="1.9" height="10.9" fill-opacity="0.95"/>
<rect x="392.2" y="355.4" width="1.9" height="10.9" fill-opacity="0.95"/>
<rect x="394.9" y="355.4" width="1.9" height="10.9" fill-opacity="0.95"/>
<rect x="397.6" y="355.4" width="1.9" height="10.9" fill-opacity="0.95"/>
<rect x="400.3" y="355.4" width="1.9" height="10.9" fill-opacity="0.95"/>
<rect x="403.0" y="355.4" width="1.9" height="10.9" fill-opacity="0.95"/>
<rect x="405.8" y="355.4" width="1.9" height="10.9" fill-opacity="0.95"/>
<rect x="408.5" y="355.4" width="1.9" height="10.9" fill-opacity="0.95"/>
<rect x="411.2" y="355.4" width="1.9" height="8.4" fill-opacity="0.95"/>
<rect x="413.9" y="355.4" width="1.9" height="10.9" fill-opacity="0.95"/>
<rect x="416.6" y="356.0" width="16.1" height="6.2" fill-opacity="0.90"/>
<rect x="416.6" y="355.4" width="1.9" height="9.7" fill-opacity="0.95"/>
<rect x="419.3" y="355.4" width="1.9" height="9.7" fill-opacity="0.95"/>
<rect x="422.0" y="355.4" width="1.9" height="9.7" fill-opacity="0.95"/>
<rect x="424.8" y="355.4" width="1.9" height="9.7" fill-opacity="0.95"/>
<rect x="427.5" y="355.4" width="1.9" height="9.7" fill-opacity="0.95"/>
<rect x="430.2" y="355.4" width="1.9" height="9.7" fill-opacity="0.95"/>
<rect x="432.9" y="356.1" width="21.5" height="6.2" fill-opacity="0.90"/>
<rect x="432.9" y="356.1" width="1.9" height="10.1" fill-opacity="0.95"/>
<rect x="435.6" y="356.1" width="1.9" height="10.1" fill-opacity="0.95"/>
<rect x="438.3" y="356.1" width="1.9" height="10.1" fill-opacity="0.95"/>
<rect x="441.1" y="356.1" width="1.9" height="10.1" fill-opacity="0.95"/>
<rect x="443.8" y="356.1" width="1.9" height="10.1" fill-opacity="0.95"/>
<rect x="446.5" y="356.1" width="1.9" height="10.1" fill-opacity="0.95"/>
<rect x="451.9" y="356.1" width="1.9" height="10.1" fill-opacity="0.95"/>
<rect x="454.6" y="356.1" width="21.5" height="6.2" fill-opacity="0.93"/>
<rect x="454.6" y="356.1" width="1.9" height="9.7" fill-opacity="0.95"/>
<rect x="457.3" y="356.1" width="1.9" height="9.7" fill-opacity="0.95"/>
<rect x="460.1" y="356.1" width="1.9" height="7.2" fill-opacity="0.95"/>
<rect x="462.8" y="356.1" width="1.9" height="9.7" fill-opacity="0.95"/>
<rect x="465.5" y="356.1" width="1.9" height="9.7" fill-opacity="0.95"/>
<rect x="468.2" y="356.1" width="1.9" height="9.7" fill-opacity="0.95"/>
<rect x="470.9" y="356.1" width="1.9" height="9.7" fill-opacity="0.95"/>
<rect x="473.6" y="356.1" width="1.9" height="9.7" fill-opacity="0.95"/>
<rect x="476.4" y="355.7" width="10.7" height="6.2" fill-opacity="0.60"/>
<rect x="476.4" y="355.7" width="1.9" height="10.7" fill-opacity="0.95"/>
<rect x="479.1" y="355.7" width="1.9" height="8.2" fill-opacity="0.95"/>
<rect x="481.8" y="355.7" width="1.9" height="10.7" fill-opacity="0.95"/>
<rect x="484.5" y="355.7" width="1.9" height="10.7" fill-opacity="0.95"/>
<rect x="487.2" y="356.7" width="16.1" height="6.2" fill-opacity="0.93"/>
<rect x="487.2" y="356.1" width="1.9" height="7.9" fill-opacity="0.95"/>
<rect x="489.9" y="356.1" width="1.9" height="7.9" fill-opacity="0.95"/>
<rect x="492.6" y="356.1" width="1.9" height="10.4" fill-opacity="0.95"/>
<rect x="495.4" y="356.1" width="1.9" height="10.4" fill-opacity="0.95"/>
<rect x="498.1" y="356.1" width="1.9" height="10.4" fill-opacity="0.95"/>
<rect x="500.8" y="356.1" width="1.9" height="10.4" fill-opacity="0.95"/>
<rect x="503.5" y="356.8" width="32.4" height="6.2" fill-opacity="0.60"/>
<rect x="503.5" y="356.8" width="1.9" height="8.1" fill-opacity="0.95"/>
<rect x="506.2" y="356.8" width="1.9" height="8.1" fill-opacity="0.95"/>
<rect x="508.9" y="356.8" width="1.9" height="8.1" fill-opacity="0.95"/>
<rect x="511.6" y="356.8" width="1.9" height="8.1" fill-opacity="0.95"/>
<rect x="514.4" y="356.8" width="1.9" height="8.1" fill-opacity="0.95"/>
<rect x="517.1" y="356.8" width="1.9" height="8.1" fill-opacity="0.95"/>
<rect x="519.8" y="356.8" width="1.9" height="8.1" fill-opacity="0.95"/>
<rect x="522.5" y="356.8" width="1.9" height="8.1" fill-opacity="0.95"/>
<rect x="525.2" y="356.8" width="1.9" height="8.1" fill-opacity="0.95"/>
<rect x="527.9" y="356.8" width="1.9" height="8.1" fill-opacity="0.95"/>
<rect x="530.6" y="356.8" width="1.9" height="8.1" fill-opacity="0.95"/>
<rect x="533.4" y="356.8" width="1.9" height="8.1" fill-opacity="0.95"/>
<rect x="536.1" y="356.1" width="16.1" height="6.2" fill-opacity="0.93"/>
<rect x="536.1" y="356.1" width="1.9" height="9.8" fill-opacity="0.95"/>
<rect x="538.8" y="356.1" width="1.9" height="9.8" fill-opacity="0.95"/>
<rect x="541.5" y="356.1" width="1.9" height="9.8" fill-opacity="0.95"/>
<rect x="544.2" y="356.1" width="1.9" height="7.3" fill-opacity="0.95"/>
<rect x="546.9" y="356.1" width="1.9" height="9.8" fill-opacity="0.95"/>
<rect x="549.7" y="356.1" width="1.9" height="9.8" fill-opacity="0.95"/>
<rect x="552.4" y="356.3" width="21.5" height="6.2" fill-opacity="0.90"/>
<rect x="552.4" y="362.5" width="21.5" height="2.7" fill-opacity="0.75"/>
<rect x="552.4" y="356.3" width="1.9" height="9.5" fill-opacity="0.95"/>
<rect x="555.1" y="356.3" width="1.9" height="9.5" fill-opacity="0.95"/>
<rect x="557.8" y="356.3" width="1.9" height="9.5" fill-opacity="0.95"/>
<rect x="560.5" y="356.3" width="1.9" height="9.5" fill-opacity="0.95"/>
<rect x="563.2" y="356.3" width="1.9" height="9.5" fill-opacity="0.95"/>
<rect x="565.9" y="356.3" width="1.9" height="9.5" fill-opacity="0.95"/>
<rect x="568.7" y="356.3" width="1.9" height="9.5" fill-opacity="0.95"/>
<rect x="571.4" y="356.3" width="1.9" height="9.5" fill-opacity="0.95"/>
<rect x="574.1" y="355.8" width="5.9" height="6.2" fill-opacity="0.90"/>
<rect x="574.1" y="362.0" width="5.9" height="3.2" fill-opacity="0.75"/>
<rect x="574.1" y="355.8" width="1.9" height="10.0" fill-opacity="0.95"/>
<rect x="576.8" y="355.8" width="1.9" height="10.0" fill-opacity="0.95"/>
<rect x="579.5" y="355.8" width="0.5" height="10.0" fill-opacity="0.95"/>
<rect x="587.7" y="356.8" width="26.9" height="6.2" fill-opacity="0.60"/>
<rect x="587.7" y="363.0" width="26.9" height="2.5" fill-opacity="0.75"/>
<rect x="587.7" y="356.2" width="1.9" height="9.9" fill-opacity="0.95"/>
<rect x="590.4" y="356.2" width="1.9" height="9.9" fill-opacity="0.95"/>
<rect x="593.1" y="356.2" width="1.9" height="9.9" fill-opacity="0.95"/>
<rect x="595.8" y="356.2" width="1.9" height="9.9" fill-opacity="0.95"/>
<rect x="598.5" y="356.2" width="1.9" height="9.9" fill-opacity="0.95"/>
<rect x="601.2" y="356.2" width="1.9" height="7.4" fill-opacity="0.95"/>
<rect x="604.0" y="356.2" width="1.9" height="9.9" fill-opacity="0.95"/>
<rect x="606.7" y="356.2" width="1.9" height="9.9" fill-opacity="0.95"/>
<rect x="614.8" y="355.6" width="21.5" height="6.2" fill-opacity="0.93"/>
<rect x="614.8" y="361.8" width="21.5" height="3.0" fill-opacity="0.75"/>
<rect x="614.8" y="355.6" width="1.9" height="9.8" fill-opacity="0.95"/>
<rect x="617.5" y="355.6" width="1.9" height="7.3" fill-opacity="0.95"/>
<rect x="620.2" y="355.6" width="1.9" height="9.8" fill-opacity="0.95"/>
<rect x="623.0" y="355.6" width="1.9" height="9.8" fill-opacity="0.95"/>
<rect x="625.7" y="355.6" width="1.9" height="9.8" fill-opacity="0.95"/>
<rect x="631.1" y="355.6" width="1.9" height="9.8" fill-opacity="0.95"/>
<rect x="633.8" y="355.6" width="1.9" height="9.8" fill-opacity="0.95"/>
<rect x="636.5" y="355.6" width="11.5" height="6.2" fill-opacity="0.93"/>
<rect x="636.5" y="355.0" width="1.9" height="10.1" fill-opacity="0.95"/>
<rect x="639.2" y="355.0" width="1.9" height="10.1" fill-opacity="0.95"/>
<rect x="644.7" y="355.0" width="1.9" height="10.1" fill-opacity="0.95"/>
<rect x="647.4" y="355.0" width="0.6" height="10.1" fill-opacity="0.95"/>
<rect x="652.8" y="356.4" width="21.5" height="6.2" fill-opacity="0.90"/>
<rect x="652.8" y="355.8" width="1.9" height="9.8" fill-opacity="0.95"/>
<rect x="655.5" y="355.8" width="1.9" height="9.8" fill-opacity="0.95"/>
<rect x="658.3" y="355.8" width="1.9" height="7.3" fill-opacity="0.95"/>
<rect x="661.0" y="355.8" width="1.9" height="9.8" fill-opacity="0.95"/>
<rect x="663.7" y="355.8" width="1.9" height="9.8" fill-opacity="0.95"/>
<rect x="666.4" y="355.8" width="1.9" height="9.8" fill-opacity="0.95"/>
<rect x="669.1" y="355.8" width="1.9" height="7.3" fill-opacity="0.95"/>
<rect x="671.8" y="355.8" width="1.9" height="9.8" fill-opacity="0.95"/>
<rect x="674.5" y="356.3" width="10.7" height="6.2" fill-opacity="0.90"/>
<rect x="674.5" y="362.5" width="10.7" height="3.3" fill-opacity="0.75"/>
<rect x="674.5" y="356.3" width="1.9" height="10.1" fill-opacity="0.95"/>
<rect x="677.3" y="356.3" width="1.9" height="10.1" fill-opacity="0.95"/>
<rect x="680.0" y="356.3" width="1.9" height="10.1" fill-opacity="0.95"/>
<rect x="682.7" y="356.3" width="1.9" height="10.1" fill-opacity="0.95"/>
<rect x="685.4" y="356.2" width="16.9" height="6.2" fill-opacity="0.93"/>
<rect x="685.4" y="362.4" width="16.9" height="1.9" fill-opacity="0.75"/>
<rect x="685.4" y="355.6" width="1.9" height="9.3" fill-opacity="0.95"/>
<rect x="688.1" y="355.6" width="1.9" height="9.3" fill-opacity="0.95"/>
<rect x="690.8" y="355.6" width="1.9" height="9.3" fill-opacity="0.95"/>
<rect x="696.3" y="355.6" width="1.9" height="9.3" fill-opacity="0.95"/>
<rect x="699.0" y="355.6" width="1.9" height="9.3" fill-opacity="0.95"/>
<rect x="701.7" y="355.6" width="0.6" height="9.3" fill-opacity="0.95"/>
<rect x="720.7" y="356.1" width="32.4" height="6.2" fill-opacity="0.60"/>
<rect x="720.7" y="362.3" width="32.4" height="2.3" fill-opacity="0.75"/>
<rect x="720.7" y="356.1" width="1.9" height="9.1" fill-opacity="0.95"/>
<rect x="723.4" y="356.1" width="1.9" height="6.6" fill-opacity="0.95"/>
<rect x="726.1" y="356.1" width="1.9" height="9.1" fill-opacity="0.95"/>
<rect x="728.8" y="356.1" width="1.9" height="9.1" fill-opacity="0.95"/>
<rect x="731.6" y="356.1" width="1.9" height="9.1" fill-opacity="0.95"/>
<rect x="734.3" y="356.1" width="1.9" height="9.1" fill-opacity="0.95"/>
<rect x="737.0" y="356.1" width="1.9" height="6.6" fill-opacity="0.95"/>
<rect x="739.7" y="356.1" width="1.9" height="9.1" fill-opacity="0.95"/>
<rect x="742.4" y="356.1" width="1.9" height="9.1" fill-opacity="0.95"/>
<rect x="745.1" y="356.1" width="1.9" height="9.1" fill-opacity="0.95"/>
<rect x="747.9" y="356.1" width="1.9" height="9.1" fill-opacity="0.95"/>
<rect x="750.6" y="356.1" width="1.9" height="9.1" fill-opacity="0.95"/>
<rect x="753.3" y="356.8" width="21.5" height="6.2" fill-opacity="0.60"/>
<rect x="756.0" y="356.8" width="1.9" height="9.5" fill-opacity="0.95"/>
<rect x="758.7" y="356.8" width="1.9" height="9.5" fill-opacity="0.95"/>
<rect x="761.4" y="356.8" width="1.9" height="9.5" fill-opacity="0.95"/>
<rect x="764.1" y="356.8" width="1.9" height="9.5" fill-opacity="0.95"/>
<rect x="766.9" y="356.8" width="1.9" height="9.5" fill-opacity="0.95"/>
<rect x="769.6" y="356.8" width="1.9" height="9.5" fill-opacity="0.95"/>
<rect x="772.3" y="356.8" width="1.9" height="9.5" fill-opacity="0.95"/>
<rect x="775.0" y="355.8" width="21.5" height="6.2" fill-opacity="0.90"/>
<rect x="775.0" y="355.2" width="1.9" height="11.1" fill-opacity="0.95"/>
<rect x="777.7" y="355.2" width="1.9" height="11.1" fill-opacity="0.95"/>
<rect x="780.4" y="355.2" width="1.9" height="11.1" fill-opacity="0.95"/>
<rect x="783.1" y="355.2" width="1.9" height="11.1" fill-opacity="0.95"/>
<rect x="785.9" y="355.2" width="1.9" height="11.1" fill-opacity="0.95"/>
<rect x="794.0" y="355.2" width="1.9" height="11.1" fill-opacity="0.95"/>
<rect x="796.7" y="356.7" width="16.1" height="6.2" fill-opacity="0.90"/>
<rect x="796.7" y="356.7" width="1.9" height="6.9" fill-opacity="0.95"/>
<rect x="799.4" y="356.7" width="1.9" height="9.4" fill-opacity="0.95"/>
<rect x="802.1" y="356.7" width="1.9" height="9.4" fill-opacity="0.95"/>
<rect x="807.6" y="356.7" width="1.9" height="6.9" fill-opacity="0.95"/>
<rect x="810.3" y="356.7" width="1.9" height="9.4" fill-opacity="0.95"/>
<rect x="813.0" y="356.5" width="21.5" height="6.2" fill-opacity="0.93"/>
<rect x="813.0" y="356.5" width="1.9" height="8.4" fill-opacity="0.95"/>
<rect x="815.7" y="356.5" width="1.9" height="8.4" fill-opacity="0.95"/>
<rect x="818.4" y="356.5" width="1.9" height="8.4" fill-opacity="0.95"/>
<rect x="821.2" y="356.5" width="1.9" height="5.9" fill-opacity="0.95"/>
<rect x="823.9" y="356.5" width="1.9" height="8.4" fill-opacity="0.95"/>
<rect x="826.6" y="356.5" width="1.9" height="8.4" fill-opacity="0.95"/>
<rect x="829.3" y="356.5" width="1.9" height="8.4" fill-opacity="0.95"/>
<rect x="832.0" y="356.5" width="1.9" height="8.4" fill-opacity="0.95"/>
<rect x="834.7" y="356.7" width="32.4" height="6.2" fill-opacity="0.93"/>
<rect x="834.7" y="356.1" width="1.9" height="7.5" fill-opacity="0.95"/>
<rect x="837.4" y="356.1" width="1.9" height="10.0" fill-opacity="0.95"/>
<rect x="840.2" y="356.1" width="1.9" height="7.5" fill-opacity="0.95"/>
<rect x="845.6" y="356.1" width="1.9" height="10.0" fill-opacity="0.95"/>
<rect x="848.3" y="356.1" width="1.9" height="10.0" fill-opacity="0.95"/>
<rect x="851.0" y="356.1" width="1.9" height="10.0" fill-opacity="0.95"/>
<rect x="853.7" y="356.1" width="1.9" height="10.0" fill-opacity="0.95"/>
<rect x="856.4" y="356.1" width="1.9" height="10.0" fill-opacity="0.95"/>
<rect x="859.2" y="356.1" width="1.9" height="10.0" fill-opacity="0.95"/>
<rect x="861.9" y="356.1" width="1.9" height="7.5" fill-opacity="0.95"/>
<rect x="864.6" y="356.1" width="1.9" height="7.5" fill-opacity="0.95"/>
<rect x="867.3" y="355.9" width="32.4" height="6.2" fill-opacity="0.93"/>
<rect x="867.3" y="362.1" width="32.4" height="2.7" fill-opacity="0.75"/>
<rect x="867.3" y="355.9" width="1.9" height="9.5" fill-opacity="0.95"/>
<rect x="870.0" y="355.9" width="1.9" height="9.5" fill-opacity="0.95"/>
<rect x="872.7" y="355.9" width="1.9" height="9.5" fill-opacity="0.95"/>
<rect x="875.5" y="355.9" width="1.9" height="9.5" fill-opacity="0.95"/>
<rect x="878.2" y="355.9" width="1.9" height="9.5" fill-opacity="0.95"/>
<rect x="880.9" y="355.9" width="1.9" height="9.5" fill-opacity="0.95"/>
<rect x="883.6" y="355.9" width="1.9" height="9.5" fill-opacity="0.95"/>
<rect x="886.3" y="355.9" width="1.9" height="9.5" fill-opacity="0.95"/>
<rect x="889.0" y="355.9" width="1.9" height="9.5" fill-opacity="0.95"/>
<rect x="894.5" y="355.9" width="1.9" height="9.5" fill-opacity="0.95"/>
<rect x="897.2" y="355.9" width="1.9" height="9.5" fill-opacity="0.95"/>
<rect x="899.9" y="356.2" width="10.7" height="6.2" fill-opacity="0.93"/>
<rect x="899.9" y="362.4" width="10.7" height="1.9" fill-opacity="0.75"/>
<rect x="899.9" y="355.6" width="1.9" height="9.3" fill-opacity="0.95"/>
<rect x="902.6" y="355.6" width="1.9" height="6.8" fill-opacity="0.95"/>
<rect x="905.3" y="355.6" width="1.9" height="9.3" fill-opacity="0.95"/>
<rect x="908.0" y="355.6" width="1.9" height="9.3" fill-opacity="0.95"/>
<rect x="910.8" y="355.8" width="10.7" height="6.2" fill-opacity="0.90"/>
<rect x="910.8" y="362.0" width="10.7" height="3.5" fill-opacity="0.75"/>
<rect x="910.8" y="355.8" width="1.9" height="10.3" fill-opacity="0.95"/>
<rect x="913.5" y="355.8" width="1.9" height="10.3" fill-opacity="0.95"/>
<rect x="916.2" y="355.8" width="1.9" height="10.3" fill-opacity="0.95"/>
<rect x="918.9" y="355.8" width="1.9" height="10.3" fill-opacity="0.95"/>
<rect x="921.6" y="356.0" width="21.5" height="6.2" fill-opacity="0.90"/>
<rect x="921.6" y="356.0" width="1.9" height="10.2" fill-opacity="0.95"/>
<rect x="924.3" y="356.0" width="1.9" height="10.2" fill-opacity="0.95"/>
<rect x="927.0" y="356.0" width="1.9" height="10.2" fill-opacity="0.95"/>
<rect x="929.8" y="356.0" width="1.9" height="10.2" fill-opacity="0.95"/>
<rect x="932.5" y="356.0" width="1.9" height="10.2" fill-opacity="0.95"/>
<rect x="935.2" y="356.0" width="1.9" height="10.2" fill-opacity="0.95"/>
<rect x="937.9" y="356.0" width="1.9" height="10.2" fill-opacity="0.95"/>
<rect x="940.6" y="356.0" width="1.9" height="10.2" fill-opacity="0.95"/>
<rect x="943.3" y="356.6" width="32.4" height="6.2" fill-opacity="0.90"/>
<rect x="943.3" y="362.8" width="32.4" height="2.5" fill-opacity="0.75"/>
<rect x="943.3" y="356.6" width="1.9" height="9.3" fill-opacity="0.95"/>
<rect x="946.0" y="356.6" width="1.9" height="9.3" fill-opacity="0.95"/>
<rect x="948.8" y="356.6" width="1.9" height="9.3" fill-opacity="0.95"/>
<rect x="951.5" y="356.6" width="1.9" height="9.3" fill-opacity="0.95"/>
<rect x="954.2" y="356.6" width="1.9" height="9.3" fill-opacity="0.95"/>
<rect x="956.9" y="356.6" width="1.9" height="9.3" fill-opacity="0.95"/>
<rect x="959.6" y="356.6" width="1.9" height="9.3" fill-opacity="0.95"/>
<rect x="962.3" y="356.6" width="1.9" height="9.3" fill-opacity="0.95"/>
<rect x="965.0" y="356.6" width="1.9" height="9.3" fill-opacity="0.95"/>
<rect x="967.8" y="356.6" width="1.9" height="9.3" fill-opacity="0.95"/>
<rect x="970.5" y="356.6" width="1.9" height="9.3" fill-opacity="0.95"/>
<rect x="973.2" y="356.6" width="1.9" height="9.3" fill-opacity="0.95"/>
<rect x="975.9" y="356.2" width="8.5" height="6.2" fill-opacity="0.93"/>
<rect x="975.9" y="355.6" width="1.9" height="10.4" fill-opacity="0.95"/>
<rect x="978.6" y="355.6" width="1.9" height="10.4" fill-opacity="0.95"/>
<rect x="981.3" y="355.6" width="1.9" height="10.4" fill-opacity="0.95"/>
<rect x="989.5" y="356.3" width="21.5" height="6.2" fill-opacity="0.60"/>
<rect x="989.5" y="362.5" width="21.5" height="2.3" fill-opacity="0.75"/>
<rect x="989.5" y="356.3" width="1.9" height="9.1" fill-opacity="0.95"/>
<rect x="992.2" y="356.3" width="1.9" height="9.1" fill-opacity="0.95"/>
<rect x="994.9" y="356.3" width="1.9" height="6.6" fill-opacity="0.95"/>
<rect x="997.6" y="356.3" width="1.9" height="9.1" fill-opacity="0.95"/>
<rect x="1000.3" y="356.3" width="1.9" height="9.1" fill-opacity="0.95"/>
<rect x="1003.1" y="356.3" width="1.9" height="9.1" fill-opacity="0.95"/>
<rect x="1005.8" y="356.3" width="1.9" height="9.1" fill-opacity="0.95"/>
<rect x="1008.5" y="356.3" width="1.9" height="9.1" fill-opacity="0.95"/>
<rect x="1011.2" y="355.7" width="31.8" height="6.2" fill-opacity="0.90"/>
<rect x="1011.2" y="355.7" width="1.9" height="9.3" fill-opacity="0.95"/>
<rect x="1013.9" y="355.7" width="1.9" height="9.3" fill-opacity="0.95"/>
<rect x="1016.6" y="355.7" width="1.9" height="9.3" fill-opacity="0.95"/>
<rect x="1019.3" y="355.7" width="1.9" height="9.3" fill-opacity="0.95"/>
<rect x="1022.1" y="355.7" width="1.9" height="9.3" fill-opacity="0.95"/>
<rect x="1024.8" y="355.7" width="1.9" height="9.3" fill-opacity="0.95"/>
<rect x="1027.5" y="355.7" width="1.9" height="9.3" fill-opacity="0.95"/>
<rect x="1030.2" y="355.7" width="1.9" height="9.3" fill-opacity="0.95"/>
<rect x="1032.9" y="355.7" width="1.9" height="9.3" fill-opacity="0.95"/>
<rect x="1035.6" y="355.7" width="1.9" height="9.3" fill-opacity="0.95"/>
<rect x="1038.4" y="355.7" width="1.9" height="9.3" fill-opacity="0.95"/>
<rect x="1041.1" y="355.7" width="1.9" height="9.3" fill-opacity="0.95"/>
<rect x="1049.2" y="355.9" width="21.5" height="6.2" fill-opacity="0.60"/>
<rect x="1049.2" y="355.9" width="1.9" height="6.8" fill-opacity="0.95"/>
<rect x="1051.9" y="355.9" width="1.9" height="9.3" fill-opacity="0.95"/>
<rect x="1054.6" y="355.9" width="1.9" height="9.3" fill-opacity="0.95"/>
<rect x="1060.1" y="355.9" width="1.9" height="9.3" fill-opacity="0.95"/>
<rect x="1062.8" y="355.9" width="1.9" height="9.3" fill-opacity="0.95"/>
<rect x="1065.5" y="355.9" width="1.9" height="9.3" fill-opacity="0.95"/>
<rect x="1068.2" y="355.9" width="1.9" height="9.3" fill-opacity="0.95"/>
<rect x="1070.9" y="356.1" width="12.1" height="6.2" fill-opacity="0.93"/>
<rect x="1073.7" y="355.5" width="1.9" height="9.5" fill-opacity="0.95"/>
<rect x="1076.4" y="355.5" width="1.9" height="9.5" fill-opacity="0.95"/>
<rect x="1079.1" y="355.5" width="1.9" height="9.5" fill-opacity="0.95"/>
<rect x="1081.8" y="355.5" width="1.2" height="9.5" fill-opacity="0.95"/>
<rect x="1087.2" y="356.7" width="31.4" height="6.2" fill-opacity="0.90"/>
<rect x="1087.2" y="356.1" width="1.9" height="9.9" fill-opacity="0.95"/>
<rect x="1089.9" y="356.1" width="1.9" height="9.9" fill-opacity="0.95"/>
<rect x="1092.7" y="356.1" width="1.9" height="9.9" fill-opacity="0.95"/>
<rect x="1095.4" y="356.1" width="1.9" height="9.9" fill-opacity="0.95"/>
<rect x="1098.1" y="356.1" width="1.9" height="9.9" fill-opacity="0.95"/>
<rect x="1100.8" y="356.1" width="1.9" height="9.9" fill-opacity="0.95"/>
<rect x="1103.5" y="356.1" width="1.9" height="9.9" fill-opacity="0.95"/>
<rect x="1106.2" y="356.1" width="1.9" height="9.9" fill-opacity="0.95"/>
<rect x="1108.9" y="356.1" width="1.9" height="7.4" fill-opacity="0.95"/>
<rect x="1111.7" y="356.1" width="1.9" height="9.9" fill-opacity="0.95"/>
<rect x="1114.4" y="356.1" width="1.9" height="9.9" fill-opacity="0.95"/>
<rect x="1117.1" y="356.1" width="1.5" height="9.9" fill-opacity="0.95"/>
<rect x="1122.5" y="355.9" width="32.4" height="6.2" fill-opacity="0.93"/>
<rect x="1122.5" y="362.1" width="32.4" height="2.9" fill-opacity="0.75"/>
<rect x="1122.5" y="355.9" width="1.9" height="9.7" fill-opacity="0.95"/>
<rect x="1125.2" y="355.9" width="1.9" height="9.7" fill-opacity="0.95"/>
<rect x="1127.9" y="355.9" width="1.9" height="9.7" fill-opacity="0.95"/>
<rect x="1130.7" y="355.9" width="1.9" height="9.7" fill-opacity="0.95"/>
<rect x="1133.4" y="355.9" width="1.9" height="9.7" fill-opacity="0.95"/>
<rect x="1136.1" y="355.9" width="1.9" height="9.7" fill-opacity="0.95"/>
<rect x="1141.5" y="355.9" width="1.9" height="9.7" fill-opacity="0.95"/>
<rect x="1144.2" y="355.9" width="1.9" height="9.7" fill-opacity="0.95"/>
<rect x="1147.0" y="355.9" width="1.9" height="7.2" fill-opacity="0.95"/>
<rect x="1149.7" y="355.9" width="1.9" height="9.7" fill-opacity="0.95"/>
<rect x="1152.4" y="355.9" width="1.9" height="9.7" fill-opacity="0.95"/>
<rect x="1155.1" y="356.2" width="25.9" height="6.2" fill-opacity="0.93"/>
<rect x="1155.1" y="355.6" width="1.9" height="9.3" fill-opacity="0.95"/>
<rect x="1157.8" y="355.6" width="1.9" height="9.3" fill-opacity="0.95"/>
<rect x="1163.2" y="355.6" width="1.9" height="9.3" fill-opacity="0.95"/>
<rect x="1166.0" y="355.6" width="1.9" height="9.3" fill-opacity="0.95"/>
<rect x="1168.7" y="355.6" width="1.9" height="9.3" fill-opacity="0.95"/>
<rect x="1171.4" y="355.6" width="1.9" height="9.3" fill-opacity="0.95"/>
<rect x="1174.1" y="355.6" width="1.9" height="9.3" fill-opacity="0.95"/>
<rect x="1176.8" y="355.6" width="1.9" height="9.3" fill-opacity="0.95"/>
<rect x="1179.5" y="355.6" width="1.5" height="9.3" fill-opacity="0.95"/>
<rect x="232.0" y="390.8" width="4.1" height="8.8" fill-opacity="0.60"/>
<rect x="232.0" y="390.5" width="3.3" height="2.7" fill-opacity="0.90"/>
<rect x="232.0" y="393.2" width="3.3" height="2.7" fill-opacity="0.70"/>
<rect x="232.0" y="395.9" width="3.3" height="4.0" fill-opacity="0.92"/>
<rect x="236.1" y="390.8" width="4.1" height="8.8" fill-opacity="0.60"/>
<rect x="236.1" y="390.5" width="3.3" height="2.7" fill-opacity="0.90"/>
<rect x="236.1" y="393.2" width="3.3" height="2.7" fill-opacity="0.70"/>
<rect x="236.1" y="395.9" width="3.3" height="4.0" fill-opacity="0.92"/>
<rect x="240.1" y="390.8" width="4.1" height="8.8" fill-opacity="0.60"/>
<rect x="240.1" y="390.5" width="3.3" height="2.7" fill-opacity="0.90"/>
<rect x="240.1" y="393.2" width="3.3" height="2.7" fill-opacity="0.70"/>
<rect x="240.1" y="395.9" width="3.3" height="4.0" fill-opacity="0.92"/>
<rect x="244.2" y="390.8" width="4.1" height="8.8" fill-opacity="0.60"/>
<rect x="244.2" y="390.5" width="3.3" height="2.7" fill-opacity="0.90"/>
<rect x="244.2" y="393.2" width="3.3" height="2.7" fill-opacity="0.70"/>
<rect x="244.2" y="395.9" width="3.3" height="4.0" fill-opacity="0.92"/>
<rect x="248.3" y="390.8" width="4.1" height="8.8" fill-opacity="0.60"/>
<rect x="248.3" y="390.5" width="3.3" height="2.7" fill-opacity="0.90"/>
<rect x="248.3" y="393.2" width="3.3" height="2.7" fill-opacity="0.70"/>
<rect x="248.3" y="395.9" width="3.3" height="4.0" fill-opacity="0.92"/>
<rect x="252.4" y="390.5" width="2.9" height="2.7" fill-opacity="0.90"/>
<rect x="252.4" y="393.2" width="2.9" height="2.7" fill-opacity="0.70"/>
<rect x="252.4" y="395.9" width="2.9" height="4.0" fill-opacity="0.92"/>
<rect x="256.4" y="390.3" width="4.1" height="8.8" fill-opacity="0.60"/>
<rect x="256.4" y="390.0" width="3.3" height="2.7" fill-opacity="0.90"/>
<rect x="256.4" y="392.7" width="3.3" height="2.7" fill-opacity="0.70"/>
<rect x="256.4" y="395.4" width="3.3" height="4.0" fill-opacity="0.92"/>
<rect x="260.5" y="390.3" width="4.1" height="8.8" fill-opacity="0.60"/>
<rect x="260.5" y="390.0" width="3.3" height="2.7" fill-opacity="0.90"/>
<rect x="260.5" y="392.7" width="3.3" height="2.7" fill-opacity="0.70"/>
<rect x="260.5" y="395.4" width="3.3" height="4.0" fill-opacity="0.92"/>
<rect x="264.6" y="390.3" width="4.1" height="8.8" fill-opacity="0.60"/>
<rect x="264.6" y="390.0" width="3.3" height="2.7" fill-opacity="0.90"/>
<rect x="264.6" y="392.7" width="3.3" height="2.7" fill-opacity="0.70"/>
<rect x="264.6" y="395.4" width="3.3" height="4.0" fill-opacity="0.92"/>
<rect x="268.7" y="390.3" width="4.1" height="8.8" fill-opacity="0.60"/>
<rect x="268.7" y="390.0" width="3.3" height="2.7" fill-opacity="0.90"/>
<rect x="268.7" y="392.7" width="3.3" height="2.7" fill-opacity="0.70"/>
<rect x="268.7" y="395.4" width="3.3" height="4.0" fill-opacity="0.92"/>
<rect x="272.7" y="390.0" width="2.9" height="2.7" fill-opacity="0.90"/>
<rect x="272.7" y="392.7" width="2.9" height="2.7" fill-opacity="0.70"/>
<rect x="272.7" y="395.4" width="2.9" height="4.0" fill-opacity="0.92"/>
<rect x="276.8" y="390.1" width="4.1" height="8.8" fill-opacity="0.60"/>
<rect x="276.8" y="389.8" width="3.3" height="2.7" fill-opacity="0.90"/>
<rect x="276.8" y="392.5" width="3.3" height="2.7" fill-opacity="0.70"/>
<rect x="276.8" y="395.2" width="3.3" height="4.0" fill-opacity="0.92"/>
<rect x="280.9" y="390.1" width="4.1" height="8.8" fill-opacity="0.60"/>
<rect x="280.9" y="389.8" width="3.3" height="2.7" fill-opacity="0.90"/>
<rect x="280.9" y="392.5" width="3.3" height="2.7" fill-opacity="0.70"/>
<rect x="280.9" y="395.2" width="3.3" height="4.0" fill-opacity="0.92"/>
<rect x="284.9" y="390.1" width="4.1" height="8.8" fill-opacity="0.60"/>
<rect x="284.9" y="389.8" width="3.3" height="2.7" fill-opacity="0.90"/>
<rect x="284.9" y="392.5" width="3.3" height="2.7" fill-opacity="0.70"/>
<rect x="284.9" y="395.2" width="3.3" height="4.0" fill-opacity="0.92"/>
<rect x="289.0" y="390.1" width="4.1" height="8.8" fill-opacity="0.60"/>
<rect x="289.0" y="389.8" width="3.3" height="2.7" fill-opacity="0.90"/>
<rect x="289.0" y="392.5" width="3.3" height="2.7" fill-opacity="0.70"/>
<rect x="289.0" y="395.2" width="3.3" height="4.0" fill-opacity="0.92"/>
<rect x="293.1" y="390.1" width="4.1" height="8.8" fill-opacity="0.60"/>
<rect x="293.1" y="389.8" width="3.3" height="2.7" fill-opacity="0.90"/>
<rect x="293.1" y="392.5" width="3.3" height="2.7" fill-opacity="0.70"/>
<rect x="293.1" y="395.2" width="3.3" height="4.0" fill-opacity="0.92"/>
<rect x="297.2" y="389.8" width="2.9" height="2.7" fill-opacity="0.90"/>
<rect x="297.2" y="392.5" width="2.9" height="2.7" fill-opacity="0.70"/>
<rect x="297.2" y="395.2" width="2.9" height="4.0" fill-opacity="0.92"/>
<rect x="301.2" y="390.5" width="4.1" height="8.8" fill-opacity="0.60"/>
<rect x="301.2" y="390.2" width="3.3" height="2.7" fill-opacity="0.90"/>
<rect x="301.2" y="392.9" width="3.3" height="2.7" fill-opacity="0.70"/>
<rect x="301.2" y="395.6" width="3.3" height="4.0" fill-opacity="0.92"/>
<rect x="305.3" y="390.5" width="4.1" height="8.8" fill-opacity="0.60"/>
<rect x="305.3" y="390.2" width="3.3" height="2.7" fill-opacity="0.90"/>
<rect x="305.3" y="392.9" width="3.3" height="2.7" fill-opacity="0.70"/>
<rect x="305.3" y="395.6" width="3.3" height="4.0" fill-opacity="0.92"/>
<rect x="309.4" y="390.5" width="4.1" height="8.8" fill-opacity="0.60"/>
<rect x="309.4" y="390.2" width="3.3" height="2.7" fill-opacity="0.90"/>
<rect x="309.4" y="392.9" width="3.3" height="2.7" fill-opacity="0.70"/>
<rect x="309.4" y="395.6" width="3.3" height="4.0" fill-opacity="0.92"/>
<rect x="313.4" y="390.5" width="4.1" height="8.8" fill-opacity="0.60"/>
<rect x="313.4" y="390.2" width="3.3" height="2.7" fill-opacity="0.90"/>
<rect x="313.4" y="392.9" width="3.3" height="2.7" fill-opacity="0.70"/>
<rect x="313.4" y="395.6" width="3.3" height="4.0" fill-opacity="0.92"/>
<rect x="317.5" y="390.2" width="2.9" height="2.7" fill-opacity="0.90"/>
<rect x="317.5" y="392.9" width="2.9" height="2.7" fill-opacity="0.70"/>
<rect x="317.5" y="395.6" width="2.9" height="4.0" fill-opacity="0.92"/>
<rect x="321.6" y="390.1" width="4.1" height="8.8" fill-opacity="0.60"/>
<rect x="321.6" y="389.8" width="3.3" height="2.7" fill-opacity="0.90"/>
<rect x="321.6" y="392.5" width="3.3" height="2.7" fill-opacity="0.70"/>
<rect x="321.6" y="395.2" width="3.3" height="4.0" fill-opacity="0.92"/>
<rect x="325.7" y="390.1" width="4.1" height="8.8" fill-opacity="0.60"/>
<rect x="325.7" y="389.8" width="3.3" height="2.7" fill-opacity="0.90"/>
<rect x="325.7" y="392.5" width="3.3" height="2.7" fill-opacity="0.70"/>
<rect x="325.7" y="395.2" width="3.3" height="4.0" fill-opacity="0.92"/>
<rect x="329.7" y="390.1" width="4.1" height="8.8" fill-opacity="0.60"/>
<rect x="329.7" y="389.8" width="3.3" height="2.7" fill-opacity="0.90"/>
<rect x="329.7" y="392.5" width="3.3" height="2.7" fill-opacity="0.70"/>
<rect x="329.7" y="395.2" width="3.3" height="4.0" fill-opacity="0.92"/>
<rect x="333.8" y="390.1" width="4.1" height="8.8" fill-opacity="0.60"/>
<rect x="333.8" y="389.8" width="3.3" height="2.7" fill-opacity="0.90"/>
<rect x="333.8" y="392.5" width="3.3" height="2.7" fill-opacity="0.70"/>
<rect x="333.8" y="395.2" width="3.3" height="4.0" fill-opacity="0.92"/>
<rect x="337.9" y="389.8" width="2.9" height="2.7" fill-opacity="0.90"/>
<rect x="337.9" y="392.5" width="2.9" height="2.7" fill-opacity="0.70"/>
<rect x="337.9" y="395.2" width="2.9" height="4.0" fill-opacity="0.92"/>
<rect x="342.0" y="391.1" width="4.1" height="8.8" fill-opacity="0.60"/>
<rect x="342.0" y="390.8" width="3.3" height="2.7" fill-opacity="0.90"/>
<rect x="342.0" y="393.5" width="3.3" height="2.7" fill-opacity="0.70"/>
<rect x="342.0" y="396.2" width="3.3" height="4.0" fill-opacity="0.92"/>
<rect x="346.0" y="391.1" width="4.1" height="8.8" fill-opacity="0.60"/>
<rect x="346.0" y="390.8" width="3.3" height="2.7" fill-opacity="0.90"/>
<rect x="346.0" y="393.5" width="3.3" height="2.7" fill-opacity="0.70"/>
<rect x="346.0" y="396.2" width="3.3" height="4.0" fill-opacity="0.92"/>
<rect x="350.1" y="391.1" width="4.1" height="8.8" fill-opacity="0.60"/>
<rect x="350.1" y="390.8" width="3.3" height="2.7" fill-opacity="0.90"/>
<rect x="350.1" y="393.5" width="3.3" height="2.7" fill-opacity="0.70"/>
<rect x="350.1" y="396.2" width="3.3" height="4.0" fill-opacity="0.92"/>
<rect x="354.2" y="391.1" width="4.1" height="8.8" fill-opacity="0.60"/>
<rect x="354.2" y="390.8" width="3.3" height="2.7" fill-opacity="0.90"/>
<rect x="354.2" y="393.5" width="3.3" height="2.7" fill-opacity="0.70"/>
<rect x="354.2" y="396.2" width="3.3" height="4.0" fill-opacity="0.92"/>
<rect x="358.2" y="390.8" width="2.9" height="2.7" fill-opacity="0.90"/>
<rect x="358.2" y="393.5" width="2.9" height="2.7" fill-opacity="0.70"/>
<rect x="358.2" y="396.2" width="2.9" height="4.0" fill-opacity="0.92"/>
<rect x="362.3" y="390.6" width="4.1" height="8.8" fill-opacity="0.60"/>
<rect x="362.3" y="390.3" width="3.3" height="2.7" fill-opacity="0.90"/>
<rect x="362.3" y="393.0" width="3.3" height="2.7" fill-opacity="0.70"/>
<rect x="362.3" y="395.7" width="3.3" height="4.0" fill-opacity="0.92"/>
<rect x="366.4" y="390.6" width="4.1" height="8.8" fill-opacity="0.60"/>
<rect x="366.4" y="390.3" width="3.3" height="2.7" fill-opacity="0.90"/>
<rect x="366.4" y="393.0" width="3.3" height="2.7" fill-opacity="0.70"/>
<rect x="366.4" y="395.7" width="3.3" height="4.0" fill-opacity="0.92"/>
<rect x="370.5" y="390.6" width="4.1" height="8.8" fill-opacity="0.60"/>
<rect x="370.5" y="390.3" width="3.3" height="2.7" fill-opacity="0.90"/>
<rect x="370.5" y="393.0" width="3.3" height="2.7" fill-opacity="0.70"/>
<rect x="370.5" y="395.7" width="3.3" height="4.0" fill-opacity="0.92"/>
<rect x="374.5" y="390.6" width="4.1" height="8.8" fill-opacity="0.60"/>
<rect x="374.5" y="390.3" width="3.3" height="2.7" fill-opacity="0.90"/>
<rect x="374.5" y="393.0" width="3.3" height="2.7" fill-opacity="0.70"/>
<rect x="374.5" y="395.7" width="3.3" height="4.0" fill-opacity="0.92"/>
<rect x="378.6" y="390.6" width="4.1" height="8.8" fill-opacity="0.60"/>
<rect x="378.6" y="390.3" width="3.3" height="2.7" fill-opacity="0.90"/>
<rect x="378.6" y="393.0" width="3.3" height="2.7" fill-opacity="0.70"/>
<rect x="378.6" y="395.7" width="3.3" height="4.0" fill-opacity="0.92"/>
<rect x="382.7" y="390.3" width="2.9" height="2.7" fill-opacity="0.90"/>
<rect x="382.7" y="393.0" width="2.9" height="2.7" fill-opacity="0.70"/>
<rect x="382.7" y="395.7" width="2.9" height="4.0" fill-opacity="0.92"/>
<rect x="386.8" y="390.5" width="4.1" height="8.8" fill-opacity="0.60"/>
<rect x="386.8" y="390.2" width="3.3" height="2.7" fill-opacity="0.90"/>
<rect x="386.8" y="392.9" width="3.3" height="2.7" fill-opacity="0.70"/>
<rect x="386.8" y="395.6" width="3.3" height="4.0" fill-opacity="0.92"/>
<rect x="390.8" y="390.5" width="4.1" height="8.8" fill-opacity="0.60"/>
<rect x="390.8" y="390.2" width="3.3" height="2.7" fill-opacity="0.90"/>
<rect x="390.8" y="392.9" width="3.3" height="2.7" fill-opacity="0.70"/>
<rect x="390.8" y="395.6" width="3.3" height="4.0" fill-opacity="0.92"/>
<rect x="394.9" y="390.5" width="4.1" height="8.8" fill-opacity="0.60"/>
<rect x="394.9" y="390.2" width="3.3" height="2.7" fill-opacity="0.90"/>
<rect x="394.9" y="392.9" width="3.3" height="2.7" fill-opacity="0.70"/>
<rect x="394.9" y="395.6" width="3.3" height="4.0" fill-opacity="0.92"/>
<rect x="399.0" y="390.5" width="4.1" height="8.8" fill-opacity="0.60"/>
<rect x="399.0" y="390.2" width="3.3" height="2.7" fill-opacity="0.90"/>
<rect x="399.0" y="392.9" width="3.3" height="2.7" fill-opacity="0.70"/>
<rect x="399.0" y="395.6" width="3.3" height="4.0" fill-opacity="0.92"/>
<rect x="403.0" y="390.2" width="2.9" height="2.7" fill-opacity="0.90"/>
<rect x="403.0" y="392.9" width="2.9" height="2.7" fill-opacity="0.70"/>
<rect x="403.0" y="395.6" width="2.9" height="4.0" fill-opacity="0.92"/>
<rect x="407.1" y="390.4" width="4.1" height="8.8" fill-opacity="0.60"/>
<rect x="407.1" y="390.1" width="3.3" height="2.7" fill-opacity="0.90"/>
<rect x="407.1" y="392.8" width="3.3" height="2.7" fill-opacity="0.70"/>
<rect x="407.1" y="395.5" width="3.3" height="4.0" fill-opacity="0.92"/>
<rect x="411.2" y="390.4" width="4.1" height="8.8" fill-opacity="0.60"/>
<rect x="411.2" y="390.1" width="3.3" height="2.7" fill-opacity="0.90"/>
<rect x="411.2" y="392.8" width="3.3" height="2.7" fill-opacity="0.70"/>
<rect x="411.2" y="395.5" width="3.3" height="4.0" fill-opacity="0.92"/>
<rect x="415.3" y="390.4" width="4.1" height="8.8" fill-opacity="0.60"/>
<rect x="415.3" y="390.1" width="3.3" height="2.7" fill-opacity="0.90"/>
<rect x="415.3" y="392.8" width="3.3" height="2.7" fill-opacity="0.70"/>
<rect x="415.3" y="395.5" width="3.3" height="4.0" fill-opacity="0.92"/>
<rect x="419.3" y="390.4" width="4.1" height="8.8" fill-opacity="0.60"/>
<rect x="419.3" y="390.1" width="3.3" height="2.7" fill-opacity="0.90"/>
<rect x="419.3" y="392.8" width="3.3" height="2.7" fill-opacity="0.70"/>
<rect x="419.3" y="395.5" width="3.3" height="4.0" fill-opacity="0.92"/>
<rect x="423.4" y="390.1" width="2.9" height="2.7" fill-opacity="0.90"/>
<rect x="423.4" y="392.8" width="2.9" height="2.7" fill-opacity="0.70"/>
<rect x="423.4" y="395.5" width="2.9" height="4.0" fill-opacity="0.92"/>
<rect x="427.5" y="390.7" width="4.1" height="8.8" fill-opacity="0.60"/>
<rect x="427.5" y="390.4" width="3.3" height="2.7" fill-opacity="0.90"/>
<rect x="427.5" y="393.1" width="3.3" height="2.7" fill-opacity="0.70"/>
<rect x="427.5" y="395.8" width="3.3" height="4.0" fill-opacity="0.92"/>
<rect x="431.6" y="390.7" width="4.1" height="8.8" fill-opacity="0.60"/>
<rect x="431.6" y="390.4" width="3.3" height="2.7" fill-opacity="0.90"/>
<rect x="431.6" y="393.1" width="3.3" height="2.7" fill-opacity="0.70"/>
<rect x="431.6" y="395.8" width="3.3" height="4.0" fill-opacity="0.92"/>
<rect x="435.6" y="390.7" width="4.1" height="8.8" fill-opacity="0.60"/>
<rect x="435.6" y="390.4" width="3.3" height="2.7" fill-opacity="0.90"/>
<rect x="435.6" y="393.1" width="3.3" height="2.7" fill-opacity="0.70"/>
<rect x="435.6" y="395.8" width="3.3" height="4.0" fill-opacity="0.92"/>
<rect x="439.7" y="390.7" width="4.1" height="8.8" fill-opacity="0.60"/>
<rect x="439.7" y="390.4" width="3.3" height="2.7" fill-opacity="0.90"/>
<rect x="439.7" y="393.1" width="3.3" height="2.7" fill-opacity="0.70"/>
<rect x="439.7" y="395.8" width="3.3" height="4.0" fill-opacity="0.92"/>
<rect x="443.8" y="390.7" width="4.1" height="8.8" fill-opacity="0.60"/>
<rect x="443.8" y="390.4" width="3.3" height="2.7" fill-opacity="0.90"/>
<rect x="443.8" y="393.1" width="3.3" height="2.7" fill-opacity="0.70"/>
<rect x="443.8" y="395.8" width="3.3" height="4.0" fill-opacity="0.92"/>
<rect x="447.8" y="390.4" width="2.9" height="2.7" fill-opacity="0.90"/>
<rect x="447.8" y="393.1" width="2.9" height="2.7" fill-opacity="0.70"/>
<rect x="447.8" y="395.8" width="2.9" height="4.0" fill-opacity="0.92"/>
<rect x="451.9" y="390.8" width="4.1" height="8.8" fill-opacity="0.60"/>
<rect x="451.9" y="390.5" width="3.3" height="2.7" fill-opacity="0.90"/>
<rect x="451.9" y="393.2" width="3.3" height="2.7" fill-opacity="0.70"/>
<rect x="451.9" y="395.9" width="3.3" height="4.0" fill-opacity="0.92"/>
<rect x="456.0" y="390.8" width="4.1" height="8.8" fill-opacity="0.60"/>
<rect x="456.0" y="390.5" width="3.3" height="2.7" fill-opacity="0.90"/>
<rect x="456.0" y="393.2" width="3.3" height="2.7" fill-opacity="0.70"/>
<rect x="456.0" y="395.9" width="3.3" height="4.0" fill-opacity="0.92"/>
<rect x="460.1" y="390.8" width="4.1" height="8.8" fill-opacity="0.60"/>
<rect x="460.1" y="390.5" width="3.3" height="2.7" fill-opacity="0.90"/>
<rect x="460.1" y="393.2" width="3.3" height="2.7" fill-opacity="0.70"/>
<rect x="460.1" y="395.9" width="3.3" height="4.0" fill-opacity="0.92"/>
<rect x="464.1" y="390.8" width="4.1" height="8.8" fill-opacity="0.60"/>
<rect x="464.1" y="390.5" width="3.3" height="2.7" fill-opacity="0.90"/>
<rect x="464.1" y="393.2" width="3.3" height="2.7" fill-opacity="0.70"/>
<rect x="464.1" y="395.9" width="3.3" height="4.0" fill-opacity="0.92"/>
<rect x="468.2" y="390.5" width="2.9" height="2.7" fill-opacity="0.90"/>
<rect x="468.2" y="393.2" width="2.9" height="2.7" fill-opacity="0.70"/>
<rect x="468.2" y="395.9" width="2.9" height="4.0" fill-opacity="0.92"/>
<rect x="472.3" y="390.5" width="4.1" height="8.8" fill-opacity="0.60"/>
<rect x="472.3" y="390.2" width="3.3" height="2.7" fill-opacity="0.90"/>
<rect x="472.3" y="392.9" width="3.3" height="2.7" fill-opacity="0.70"/>
<rect x="472.3" y="395.6" width="3.3" height="4.0" fill-opacity="0.92"/>
<rect x="476.4" y="390.5" width="4.1" height="8.8" fill-opacity="0.60"/>
<rect x="476.4" y="390.2" width="3.3" height="2.7" fill-opacity="0.90"/>
<rect x="476.4" y="392.9" width="3.3" height="2.7" fill-opacity="0.70"/>
<rect x="476.4" y="395.6" width="3.3" height="4.0" fill-opacity="0.92"/>
<rect x="480.4" y="390.5" width="4.1" height="8.8" fill-opacity="0.60"/>
<rect x="480.4" y="390.2" width="3.3" height="2.7" fill-opacity="0.90"/>
<rect x="480.4" y="392.9" width="3.3" height="2.7" fill-opacity="0.70"/>
<rect x="480.4" y="395.6" width="3.3" height="4.0" fill-opacity="0.92"/>
<rect x="484.5" y="390.5" width="4.1" height="8.8" fill-opacity="0.60"/>
<rect x="484.5" y="390.2" width="3.3" height="2.7" fill-opacity="0.90"/>
<rect x="484.5" y="392.9" width="3.3" height="2.7" fill-opacity="0.70"/>
<rect x="484.5" y="395.6" width="3.3" height="4.0" fill-opacity="0.92"/>
<rect x="488.6" y="390.2" width="2.9" height="2.7" fill-opacity="0.90"/>
<rect x="488.6" y="392.9" width="2.9" height="2.7" fill-opacity="0.70"/>
<rect x="488.6" y="395.6" width="2.9" height="4.0" fill-opacity="0.92"/>
<rect x="492.6" y="390.7" width="4.1" height="8.8" fill-opacity="0.60"/>
<rect x="492.6" y="390.4" width="3.3" height="2.7" fill-opacity="0.90"/>
<rect x="492.6" y="393.1" width="3.3" height="2.7" fill-opacity="0.70"/>
<rect x="492.6" y="395.8" width="3.3" height="4.0" fill-opacity="0.92"/>
<rect x="496.7" y="390.7" width="4.1" height="8.8" fill-opacity="0.60"/>
<rect x="496.7" y="390.4" width="3.3" height="2.7" fill-opacity="0.90"/>
<rect x="496.7" y="393.1" width="3.3" height="2.7" fill-opacity="0.70"/>
<rect x="496.7" y="395.8" width="3.3" height="4.0" fill-opacity="0.92"/>
<rect x="500.8" y="390.7" width="4.1" height="8.8" fill-opacity="0.60"/>
<rect x="500.8" y="390.4" width="3.3" height="2.7" fill-opacity="0.90"/>
<rect x="500.8" y="393.1" width="3.3" height="2.7" fill-opacity="0.70"/>
<rect x="500.8" y="395.8" width="3.3" height="4.0" fill-opacity="0.92"/>
<rect x="504.9" y="390.7" width="4.1" height="8.8" fill-opacity="0.60"/>
<rect x="504.9" y="390.4" width="3.3" height="2.7" fill-opacity="0.90"/>
<rect x="504.9" y="393.1" width="3.3" height="2.7" fill-opacity="0.70"/>
<rect x="504.9" y="395.8" width="3.3" height="4.0" fill-opacity="0.92"/>
<rect x="508.9" y="390.7" width="4.1" height="8.8" fill-opacity="0.60"/>
<rect x="508.9" y="390.4" width="3.3" height="2.7" fill-opacity="0.90"/>
<rect x="508.9" y="393.1" width="3.3" height="2.7" fill-opacity="0.70"/>
<rect x="508.9" y="395.8" width="3.3" height="4.0" fill-opacity="0.92"/>
<rect x="513.0" y="390.4" width="2.9" height="2.7" fill-opacity="0.90"/>
<rect x="513.0" y="393.1" width="2.9" height="2.7" fill-opacity="0.70"/>
<rect x="513.0" y="395.8" width="2.9" height="4.0" fill-opacity="0.92"/>
<rect x="517.1" y="391.0" width="4.1" height="8.8" fill-opacity="0.60"/>
<rect x="517.1" y="390.7" width="3.3" height="2.7" fill-opacity="0.90"/>
<rect x="517.1" y="393.4" width="3.3" height="2.7" fill-opacity="0.70"/>
<rect x="517.1" y="396.1" width="3.3" height="4.0" fill-opacity="0.92"/>
<rect x="521.1" y="391.0" width="4.1" height="8.8" fill-opacity="0.60"/>
<rect x="521.1" y="390.7" width="3.3" height="2.7" fill-opacity="0.90"/>
<rect x="521.1" y="393.4" width="3.3" height="2.7" fill-opacity="0.70"/>
<rect x="521.1" y="396.1" width="3.3" height="4.0" fill-opacity="0.92"/>
<rect x="525.2" y="391.0" width="4.1" height="8.8" fill-opacity="0.60"/>
<rect x="525.2" y="390.7" width="3.3" height="2.7" fill-opacity="0.90"/>
<rect x="525.2" y="393.4" width="3.3" height="2.7" fill-opacity="0.70"/>
<rect x="525.2" y="396.1" width="3.3" height="4.0" fill-opacity="0.92"/>
<rect x="529.3" y="391.0" width="4.1" height="8.8" fill-opacity="0.60"/>
<rect x="529.3" y="390.7" width="3.3" height="2.7" fill-opacity="0.90"/>
<rect x="529.3" y="393.4" width="3.3" height="2.7" fill-opacity="0.70"/>
<rect x="529.3" y="396.1" width="3.3" height="4.0" fill-opacity="0.92"/>
<rect x="533.4" y="390.7" width="2.9" height="2.7" fill-opacity="0.90"/>
<rect x="533.4" y="393.4" width="2.9" height="2.7" fill-opacity="0.70"/>
<rect x="533.4" y="396.1" width="2.9" height="4.0" fill-opacity="0.92"/>
<rect x="537.4" y="390.5" width="4.1" height="8.8" fill-opacity="0.60"/>
<rect x="537.4" y="390.2" width="3.3" height="2.7" fill-opacity="0.90"/>
<rect x="537.4" y="392.9" width="3.3" height="2.7" fill-opacity="0.70"/>
<rect x="537.4" y="395.6" width="3.3" height="4.0" fill-opacity="0.92"/>
<rect x="541.5" y="390.5" width="4.1" height="8.8" fill-opacity="0.60"/>
<rect x="541.5" y="390.2" width="3.3" height="2.7" fill-opacity="0.90"/>
<rect x="541.5" y="392.9" width="3.3" height="2.7" fill-opacity="0.70"/>
<rect x="541.5" y="395.6" width="3.3" height="4.0" fill-opacity="0.92"/>
<rect x="545.6" y="390.5" width="4.1" height="8.8" fill-opacity="0.60"/>
<rect x="545.6" y="390.2" width="3.3" height="2.7" fill-opacity="0.90"/>
<rect x="545.6" y="392.9" width="3.3" height="2.7" fill-opacity="0.70"/>
<rect x="545.6" y="395.6" width="3.3" height="4.0" fill-opacity="0.92"/>
<rect x="549.7" y="390.5" width="4.1" height="8.8" fill-opacity="0.60"/>
<rect x="549.7" y="390.2" width="3.3" height="2.7" fill-opacity="0.90"/>
<rect x="549.7" y="392.9" width="3.3" height="2.7" fill-opacity="0.70"/>
<rect x="549.7" y="395.6" width="3.3" height="4.0" fill-opacity="0.92"/>
<rect x="553.7" y="390.5" width="4.1" height="8.8" fill-opacity="0.60"/>
<rect x="553.7" y="390.2" width="3.3" height="2.7" fill-opacity="0.90"/>
<rect x="553.7" y="392.9" width="3.3" height="2.7" fill-opacity="0.70"/>
<rect x="553.7" y="395.6" width="3.3" height="4.0" fill-opacity="0.92"/>
<rect x="557.8" y="390.2" width="2.9" height="2.7" fill-opacity="0.90"/>
<rect x="557.8" y="392.9" width="2.9" height="2.7" fill-opacity="0.70"/>
<rect x="557.8" y="395.6" width="2.9" height="4.0" fill-opacity="0.92"/>
<rect x="561.9" y="390.2" width="4.1" height="8.8" fill-opacity="0.60"/>
<rect x="561.9" y="389.9" width="3.3" height="2.7" fill-opacity="0.90"/>
<rect x="561.9" y="392.6" width="3.3" height="2.7" fill-opacity="0.70"/>
<rect x="561.9" y="395.3" width="3.3" height="4.0" fill-opacity="0.92"/>
<rect x="565.9" y="390.2" width="2.8" height="8.8" fill-opacity="0.60"/>
<rect x="565.9" y="389.9" width="2.8" height="2.7" fill-opacity="0.90"/>
<rect x="565.9" y="392.6" width="2.8" height="2.7" fill-opacity="0.70"/>
<rect x="565.9" y="395.3" width="2.8" height="4.0" fill-opacity="0.92"/>
<rect x="586.3" y="390.3" width="4.1" height="8.8" fill-opacity="0.60"/>
<rect x="586.3" y="390.0" width="3.3" height="2.7" fill-opacity="0.90"/>
<rect x="586.3" y="392.7" width="3.3" height="2.7" fill-opacity="0.70"/>
<rect x="586.3" y="395.4" width="3.3" height="4.0" fill-opacity="0.92"/>
<rect x="590.4" y="390.3" width="4.1" height="8.8" fill-opacity="0.60"/>
<rect x="590.4" y="390.0" width="3.3" height="2.7" fill-opacity="0.90"/>
<rect x="590.4" y="392.7" width="3.3" height="2.7" fill-opacity="0.70"/>
<rect x="590.4" y="395.4" width="3.3" height="4.0" fill-opacity="0.92"/>
<rect x="594.5" y="390.3" width="4.1" height="8.8" fill-opacity="0.60"/>
<rect x="594.5" y="390.0" width="3.3" height="2.7" fill-opacity="0.90"/>
<rect x="594.5" y="392.7" width="3.3" height="2.7" fill-opacity="0.70"/>
<rect x="594.5" y="395.4" width="3.3" height="4.0" fill-opacity="0.92"/>
<rect x="598.5" y="390.0" width="2.9" height="2.7" fill-opacity="0.90"/>
<rect x="598.5" y="392.7" width="2.9" height="2.7" fill-opacity="0.70"/>
<rect x="598.5" y="395.4" width="2.9" height="4.0" fill-opacity="0.92"/>
<rect x="602.6" y="390.6" width="4.1" height="8.8" fill-opacity="0.60"/>
<rect x="602.6" y="390.3" width="3.3" height="2.7" fill-opacity="0.90"/>
<rect x="602.6" y="393.0" width="3.3" height="2.7" fill-opacity="0.70"/>
<rect x="602.6" y="395.7" width="3.3" height="4.0" fill-opacity="0.92"/>
<rect x="606.7" y="390.6" width="4.1" height="8.8" fill-opacity="0.60"/>
<rect x="606.7" y="390.3" width="3.3" height="2.7" fill-opacity="0.90"/>
<rect x="606.7" y="393.0" width="3.3" height="2.7" fill-opacity="0.70"/>
<rect x="606.7" y="395.7" width="3.3" height="4.0" fill-opacity="0.92"/>
<rect x="610.7" y="390.6" width="4.1" height="8.8" fill-opacity="0.60"/>
<rect x="610.7" y="390.3" width="3.3" height="2.7" fill-opacity="0.90"/>
<rect x="610.7" y="393.0" width="3.3" height="2.7" fill-opacity="0.70"/>
<rect x="610.7" y="395.7" width="3.3" height="4.0" fill-opacity="0.92"/>
<rect x="614.8" y="390.6" width="4.1" height="8.8" fill-opacity="0.60"/>
<rect x="614.8" y="390.3" width="3.3" height="2.7" fill-opacity="0.90"/>
<rect x="614.8" y="393.0" width="3.3" height="2.7" fill-opacity="0.70"/>
<rect x="614.8" y="395.7" width="3.3" height="4.0" fill-opacity="0.92"/>
<rect x="618.9" y="390.3" width="2.9" height="2.7" fill-opacity="0.90"/>
<rect x="618.9" y="393.0" width="2.9" height="2.7" fill-opacity="0.70"/>
<rect x="618.9" y="395.7" width="2.9" height="4.0" fill-opacity="0.92"/>
<rect x="623.0" y="390.2" width="4.1" height="8.8" fill-opacity="0.60"/>
<rect x="623.0" y="389.9" width="3.3" height="2.7" fill-opacity="0.90"/>
<rect x="623.0" y="392.6" width="3.3" height="2.7" fill-opacity="0.70"/>
<rect x="623.0" y="395.3" width="3.3" height="4.0" fill-opacity="0.92"/>
<rect x="627.0" y="390.2" width="4.1" height="8.8" fill-opacity="0.60"/>
<rect x="627.0" y="389.9" width="3.3" height="2.7" fill-opacity="0.90"/>
<rect x="627.0" y="392.6" width="3.3" height="2.7" fill-opacity="0.70"/>
<rect x="627.0" y="395.3" width="3.3" height="4.0" fill-opacity="0.92"/>
<rect x="631.1" y="390.2" width="4.1" height="8.8" fill-opacity="0.60"/>
<rect x="631.1" y="389.9" width="3.3" height="2.7" fill-opacity="0.90"/>
<rect x="631.1" y="392.6" width="3.3" height="2.7" fill-opacity="0.70"/>
<rect x="631.1" y="395.3" width="3.3" height="4.0" fill-opacity="0.92"/>
<rect x="635.2" y="390.2" width="4.1" height="8.8" fill-opacity="0.60"/>
<rect x="635.2" y="389.9" width="3.3" height="2.7" fill-opacity="0.90"/>
<rect x="635.2" y="392.6" width="3.3" height="2.7" fill-opacity="0.70"/>
<rect x="635.2" y="395.3" width="3.3" height="4.0" fill-opacity="0.92"/>
<rect x="639.2" y="390.2" width="4.1" height="8.8" fill-opacity="0.60"/>
<rect x="639.2" y="389.9" width="3.3" height="2.7" fill-opacity="0.90"/>
<rect x="639.2" y="392.6" width="3.3" height="2.7" fill-opacity="0.70"/>
<rect x="639.2" y="395.3" width="3.3" height="4.0" fill-opacity="0.92"/>
<rect x="643.3" y="389.9" width="2.9" height="2.7" fill-opacity="0.90"/>
<rect x="643.3" y="392.6" width="2.9" height="2.7" fill-opacity="0.70"/>
<rect x="643.3" y="395.3" width="2.9" height="4.0" fill-opacity="0.92"/>
<rect x="647.4" y="391.0" width="4.1" height="8.8" fill-opacity="0.60"/>
<rect x="647.4" y="390.7" width="3.3" height="2.7" fill-opacity="0.90"/>
<rect x="647.4" y="393.4" width="3.3" height="2.7" fill-opacity="0.70"/>
<rect x="647.4" y="396.1" width="3.3" height="4.0" fill-opacity="0.92"/>
<rect x="651.5" y="391.0" width="4.1" height="8.8" fill-opacity="0.60"/>
<rect x="651.5" y="390.7" width="3.3" height="2.7" fill-opacity="0.90"/>
<rect x="651.5" y="393.4" width="3.3" height="2.7" fill-opacity="0.70"/>
<rect x="651.5" y="396.1" width="3.3" height="4.0" fill-opacity="0.92"/>
<rect x="655.5" y="391.0" width="4.1" height="8.8" fill-opacity="0.60"/>
<rect x="655.5" y="390.7" width="3.3" height="2.7" fill-opacity="0.90"/>
<rect x="655.5" y="393.4" width="3.3" height="2.7" fill-opacity="0.70"/>
<rect x="655.5" y="396.1" width="3.3" height="4.0" fill-opacity="0.92"/>
<rect x="659.6" y="391.0" width="4.1" height="8.8" fill-opacity="0.60"/>
<rect x="659.6" y="390.7" width="3.3" height="2.7" fill-opacity="0.90"/>
<rect x="659.6" y="393.4" width="3.3" height="2.7" fill-opacity="0.70"/>
<rect x="659.6" y="396.1" width="3.3" height="4.0" fill-opacity="0.92"/>
<rect x="663.7" y="390.7" width="2.9" height="2.7" fill-opacity="0.90"/>
<rect x="663.7" y="393.4" width="2.9" height="2.7" fill-opacity="0.70"/>
<rect x="663.7" y="396.1" width="2.9" height="4.0" fill-opacity="0.92"/>
<rect x="667.8" y="391.0" width="4.1" height="8.8" fill-opacity="0.60"/>
<rect x="667.8" y="390.7" width="3.3" height="2.7" fill-opacity="0.90"/>
<rect x="667.8" y="393.4" width="3.3" height="2.7" fill-opacity="0.70"/>
<rect x="667.8" y="396.1" width="3.3" height="4.0" fill-opacity="0.92"/>
<rect x="671.8" y="391.0" width="4.1" height="8.8" fill-opacity="0.60"/>
<rect x="671.8" y="390.7" width="3.3" height="2.7" fill-opacity="0.90"/>
<rect x="671.8" y="393.4" width="3.3" height="2.7" fill-opacity="0.70"/>
<rect x="671.8" y="396.1" width="3.3" height="4.0" fill-opacity="0.92"/>
<rect x="675.9" y="391.0" width="4.1" height="8.8" fill-opacity="0.60"/>
<rect x="675.9" y="390.7" width="3.3" height="2.7" fill-opacity="0.90"/>
<rect x="675.9" y="393.4" width="3.3" height="2.7" fill-opacity="0.70"/>
<rect x="675.9" y="396.1" width="3.3" height="4.0" fill-opacity="0.92"/>
<rect x="680.0" y="391.0" width="4.1" height="8.8" fill-opacity="0.60"/>
<rect x="680.0" y="390.7" width="3.3" height="2.7" fill-opacity="0.90"/>
<rect x="680.0" y="393.4" width="3.3" height="2.7" fill-opacity="0.70"/>
<rect x="680.0" y="396.1" width="3.3" height="4.0" fill-opacity="0.92"/>
<rect x="684.0" y="391.0" width="4.1" height="8.8" fill-opacity="0.60"/>
<rect x="684.0" y="390.7" width="3.3" height="2.7" fill-opacity="0.90"/>
<rect x="684.0" y="393.4" width="3.3" height="2.7" fill-opacity="0.70"/>
<rect x="684.0" y="396.1" width="3.3" height="4.0" fill-opacity="0.92"/>
<rect x="688.1" y="391.1" width="4.1" height="8.8" fill-opacity="0.60"/>
<rect x="688.1" y="390.8" width="3.3" height="2.7" fill-opacity="0.90"/>
<rect x="688.1" y="393.5" width="3.3" height="2.7" fill-opacity="0.70"/>
<rect x="688.1" y="396.2" width="3.3" height="4.0" fill-opacity="0.92"/>
<rect x="692.2" y="391.1" width="4.1" height="8.8" fill-opacity="0.60"/>
<rect x="692.2" y="390.8" width="3.3" height="2.7" fill-opacity="0.90"/>
<rect x="692.2" y="393.5" width="3.3" height="2.7" fill-opacity="0.70"/>
<rect x="692.2" y="396.2" width="3.3" height="4.0" fill-opacity="0.92"/>
<rect x="696.3" y="391.1" width="4.1" height="8.8" fill-opacity="0.60"/>
<rect x="696.3" y="390.8" width="3.3" height="2.7" fill-opacity="0.90"/>
<rect x="696.3" y="393.5" width="3.3" height="2.7" fill-opacity="0.70"/>
<rect x="696.3" y="396.2" width="3.3" height="4.0" fill-opacity="0.92"/>
<rect x="700.3" y="391.1" width="2.2" height="8.8" fill-opacity="0.60"/>
<rect x="700.3" y="390.8" width="2.2" height="2.7" fill-opacity="0.90"/>
<rect x="700.3" y="393.5" width="2.2" height="2.7" fill-opacity="0.70"/>
<rect x="700.3" y="396.2" width="2.2" height="4.0" fill-opacity="0.92"/>
<rect x="720.7" y="390.8" width="4.1" height="8.8" fill-opacity="0.60"/>
<rect x="720.7" y="390.5" width="3.3" height="2.7" fill-opacity="0.90"/>
<rect x="720.7" y="393.2" width="3.3" height="2.7" fill-opacity="0.70"/>
<rect x="720.7" y="395.9" width="3.3" height="4.0" fill-opacity="0.92"/>
<rect x="724.8" y="390.8" width="4.1" height="8.8" fill-opacity="0.60"/>
<rect x="724.8" y="390.5" width="3.3" height="2.7" fill-opacity="0.90"/>
<rect x="724.8" y="393.2" width="3.3" height="2.7" fill-opacity="0.70"/>
<rect x="724.8" y="395.9" width="3.3" height="4.0" fill-opacity="0.92"/>
<rect x="728.8" y="390.5" width="2.9" height="2.7" fill-opacity="0.90"/>
<rect x="728.8" y="393.2" width="2.9" height="2.7" fill-opacity="0.70"/>
<rect x="728.8" y="395.9" width="2.9" height="4.0" fill-opacity="0.92"/>
<rect x="732.9" y="390.2" width="4.1" height="8.8" fill-opacity="0.60"/>
<rect x="732.9" y="389.9" width="3.3" height="2.7" fill-opacity="0.90"/>
<rect x="732.9" y="392.6" width="3.3" height="2.7" fill-opacity="0.70"/>
<rect x="732.9" y="395.3" width="3.3" height="4.0" fill-opacity="0.92"/>
<rect x="737.0" y="390.2" width="4.1" height="8.8" fill-opacity="0.60"/>
<rect x="737.0" y="389.9" width="3.3" height="2.7" fill-opacity="0.90"/>
<rect x="737.0" y="392.6" width="3.3" height="2.7" fill-opacity="0.70"/>
<rect x="737.0" y="395.3" width="3.3" height="4.0" fill-opacity="0.92"/>
<rect x="741.1" y="390.2" width="4.1" height="8.8" fill-opacity="0.60"/>
<rect x="741.1" y="389.9" width="3.3" height="2.7" fill-opacity="0.90"/>
<rect x="741.1" y="392.6" width="3.3" height="2.7" fill-opacity="0.70"/>
<rect x="741.1" y="395.3" width="3.3" height="4.0" fill-opacity="0.92"/>
<rect x="745.1" y="390.2" width="4.1" height="8.8" fill-opacity="0.60"/>
<rect x="745.1" y="389.9" width="3.3" height="2.7" fill-opacity="0.90"/>
<rect x="745.1" y="392.6" width="3.3" height="2.7" fill-opacity="0.70"/>
<rect x="745.1" y="395.3" width="3.3" height="4.0" fill-opacity="0.92"/>
<rect x="749.2" y="389.9" width="2.9" height="2.7" fill-opacity="0.90"/>
<rect x="749.2" y="392.6" width="2.9" height="2.7" fill-opacity="0.70"/>
<rect x="749.2" y="395.3" width="2.9" height="4.0" fill-opacity="0.92"/>
<rect x="753.3" y="390.6" width="4.1" height="8.8" fill-opacity="0.60"/>
<rect x="753.3" y="390.3" width="3.3" height="2.7" fill-opacity="0.90"/>
<rect x="753.3" y="393.0" width="3.3" height="2.7" fill-opacity="0.70"/>
<rect x="753.3" y="395.7" width="3.3" height="4.0" fill-opacity="0.92"/>
<rect x="757.4" y="390.6" width="4.1" height="8.8" fill-opacity="0.60"/>
<rect x="757.4" y="390.3" width="3.3" height="2.7" fill-opacity="0.90"/>
<rect x="757.4" y="393.0" width="3.3" height="2.7" fill-opacity="0.70"/>
<rect x="757.4" y="395.7" width="3.3" height="4.0" fill-opacity="0.92"/>
<rect x="761.4" y="390.6" width="4.1" height="8.8" fill-opacity="0.60"/>
<rect x="761.4" y="390.3" width="3.3" height="2.7" fill-opacity="0.90"/>
<rect x="761.4" y="393.0" width="3.3" height="2.7" fill-opacity="0.70"/>
<rect x="761.4" y="395.7" width="3.3" height="4.0" fill-opacity="0.92"/>
<rect x="765.5" y="390.6" width="4.1" height="8.8" fill-opacity="0.60"/>
<rect x="765.5" y="390.3" width="3.3" height="2.7" fill-opacity="0.90"/>
<rect x="765.5" y="393.0" width="3.3" height="2.7" fill-opacity="0.70"/>
<rect x="765.5" y="395.7" width="3.3" height="4.0" fill-opacity="0.92"/>
<rect x="769.6" y="390.6" width="4.1" height="8.8" fill-opacity="0.60"/>
<rect x="769.6" y="390.3" width="3.3" height="2.7" fill-opacity="0.90"/>
<rect x="769.6" y="393.0" width="3.3" height="2.7" fill-opacity="0.70"/>
<rect x="769.6" y="395.7" width="3.3" height="4.0" fill-opacity="0.92"/>
<rect x="773.6" y="390.3" width="2.9" height="2.7" fill-opacity="0.90"/>
<rect x="773.6" y="393.0" width="2.9" height="2.7" fill-opacity="0.70"/>
<rect x="773.6" y="395.7" width="2.9" height="4.0" fill-opacity="0.92"/>
<rect x="777.7" y="391.1" width="4.1" height="8.8" fill-opacity="0.60"/>
<rect x="777.7" y="390.8" width="3.3" height="2.7" fill-opacity="0.90"/>
<rect x="777.7" y="393.5" width="3.3" height="2.7" fill-opacity="0.70"/>
<rect x="777.7" y="396.2" width="3.3" height="4.0" fill-opacity="0.92"/>
<rect x="781.8" y="391.1" width="4.1" height="8.8" fill-opacity="0.60"/>
<rect x="781.8" y="390.8" width="3.3" height="2.7" fill-opacity="0.90"/>
<rect x="781.8" y="393.5" width="3.3" height="2.7" fill-opacity="0.70"/>
<rect x="781.8" y="396.2" width="3.3" height="4.0" fill-opacity="0.92"/>
<rect x="785.9" y="391.1" width="4.1" height="8.8" fill-opacity="0.60"/>
<rect x="785.9" y="390.8" width="3.3" height="2.7" fill-opacity="0.90"/>
<rect x="785.9" y="393.5" width="3.3" height="2.7" fill-opacity="0.70"/>
<rect x="785.9" y="396.2" width="3.3" height="4.0" fill-opacity="0.92"/>
<rect x="789.9" y="391.1" width="4.1" height="8.8" fill-opacity="0.60"/>
<rect x="789.9" y="390.8" width="3.3" height="2.7" fill-opacity="0.90"/>
<rect x="789.9" y="393.5" width="3.3" height="2.7" fill-opacity="0.70"/>
<rect x="789.9" y="396.2" width="3.3" height="4.0" fill-opacity="0.92"/>
<rect x="794.0" y="390.8" width="2.9" height="2.7" fill-opacity="0.90"/>
<rect x="794.0" y="393.5" width="2.9" height="2.7" fill-opacity="0.70"/>
<rect x="794.0" y="396.2" width="2.9" height="4.0" fill-opacity="0.92"/>
<rect x="798.1" y="390.3" width="4.1" height="8.8" fill-opacity="0.60"/>
<rect x="798.1" y="390.0" width="3.3" height="2.7" fill-opacity="0.90"/>
<rect x="798.1" y="392.7" width="3.3" height="2.7" fill-opacity="0.70"/>
<rect x="798.1" y="395.4" width="3.3" height="4.0" fill-opacity="0.92"/>
<rect x="802.1" y="390.3" width="4.1" height="8.8" fill-opacity="0.60"/>
<rect x="802.1" y="390.0" width="3.3" height="2.7" fill-opacity="0.90"/>
<rect x="802.1" y="392.7" width="3.3" height="2.7" fill-opacity="0.70"/>
<rect x="802.1" y="395.4" width="3.3" height="4.0" fill-opacity="0.92"/>
<rect x="806.2" y="390.3" width="4.1" height="8.8" fill-opacity="0.60"/>
<rect x="806.2" y="390.0" width="3.3" height="2.7" fill-opacity="0.90"/>
<rect x="806.2" y="392.7" width="3.3" height="2.7" fill-opacity="0.70"/>
<rect x="806.2" y="395.4" width="3.3" height="4.0" fill-opacity="0.92"/>
<rect x="810.3" y="390.3" width="4.1" height="8.8" fill-opacity="0.60"/>
<rect x="810.3" y="390.0" width="3.3" height="2.7" fill-opacity="0.90"/>
<rect x="810.3" y="392.7" width="3.3" height="2.7" fill-opacity="0.70"/>
<rect x="810.3" y="395.4" width="3.3" height="4.0" fill-opacity="0.92"/>
<rect x="814.4" y="390.0" width="2.9" height="2.7" fill-opacity="0.90"/>
<rect x="814.4" y="392.7" width="2.9" height="2.7" fill-opacity="0.70"/>
<rect x="814.4" y="395.4" width="2.9" height="4.0" fill-opacity="0.92"/>
<rect x="818.4" y="390.8" width="4.1" height="8.8" fill-opacity="0.60"/>
<rect x="818.4" y="390.5" width="3.3" height="2.7" fill-opacity="0.90"/>
<rect x="818.4" y="393.2" width="3.3" height="2.7" fill-opacity="0.70"/>
<rect x="818.4" y="395.9" width="3.3" height="4.0" fill-opacity="0.92"/>
<rect x="822.5" y="390.8" width="4.1" height="8.8" fill-opacity="0.60"/>
<rect x="822.5" y="390.5" width="3.3" height="2.7" fill-opacity="0.90"/>
<rect x="822.5" y="393.2" width="3.3" height="2.7" fill-opacity="0.70"/>
<rect x="822.5" y="395.9" width="3.3" height="4.0" fill-opacity="0.92"/>
<rect x="826.6" y="390.8" width="4.1" height="8.8" fill-opacity="0.60"/>
<rect x="826.6" y="390.5" width="3.3" height="2.7" fill-opacity="0.90"/>
<rect x="826.6" y="393.2" width="3.3" height="2.7" fill-opacity="0.70"/>
<rect x="826.6" y="395.9" width="3.3" height="4.0" fill-opacity="0.92"/>
<rect x="830.7" y="390.8" width="4.1" height="8.8" fill-opacity="0.60"/>
<rect x="830.7" y="390.5" width="3.3" height="2.7" fill-opacity="0.90"/>
<rect x="830.7" y="393.2" width="3.3" height="2.7" fill-opacity="0.70"/>
<rect x="830.7" y="395.9" width="3.3" height="4.0" fill-opacity="0.92"/>
<rect x="834.7" y="390.8" width="4.1" height="8.8" fill-opacity="0.60"/>
<rect x="834.7" y="390.5" width="3.3" height="2.7" fill-opacity="0.90"/>
<rect x="834.7" y="393.2" width="3.3" height="2.7" fill-opacity="0.70"/>
<rect x="834.7" y="395.9" width="3.3" height="4.0" fill-opacity="0.92"/>
<rect x="838.8" y="390.5" width="2.9" height="2.7" fill-opacity="0.90"/>
<rect x="838.8" y="393.2" width="2.9" height="2.7" fill-opacity="0.70"/>
<rect x="838.8" y="395.9" width="2.9" height="4.0" fill-opacity="0.92"/>
<rect x="842.9" y="390.9" width="4.1" height="8.8" fill-opacity="0.60"/>
<rect x="842.9" y="390.6" width="3.3" height="2.7" fill-opacity="0.90"/>
<rect x="842.9" y="393.3" width="3.3" height="2.7" fill-opacity="0.70"/>
<rect x="842.9" y="396.0" width="3.3" height="4.0" fill-opacity="0.92"/>
<rect x="846.9" y="390.9" width="4.1" height="8.8" fill-opacity="0.60"/>
<rect x="846.9" y="390.6" width="3.3" height="2.7" fill-opacity="0.90"/>
<rect x="846.9" y="393.3" width="3.3" height="2.7" fill-opacity="0.70"/>
<rect x="846.9" y="396.0" width="3.3" height="4.0" fill-opacity="0.92"/>
<rect x="851.0" y="390.9" width="4.1" height="8.8" fill-opacity="0.60"/>
<rect x="851.0" y="390.6" width="3.3" height="2.7" fill-opacity="0.90"/>
<rect x="851.0" y="393.3" width="3.3" height="2.7" fill-opacity="0.70"/>
<rect x="851.0" y="396.0" width="3.3" height="4.0" fill-opacity="0.92"/>
<rect x="855.1" y="390.9" width="4.1" height="8.8" fill-opacity="0.60"/>
<rect x="855.1" y="390.6" width="3.3" height="2.7" fill-opacity="0.90"/>
<rect x="855.1" y="393.3" width="3.3" height="2.7" fill-opacity="0.70"/>
<rect x="855.1" y="396.0" width="3.3" height="4.0" fill-opacity="0.92"/>
<rect x="859.2" y="390.6" width="2.9" height="2.7" fill-opacity="0.90"/>
<rect x="859.2" y="393.3" width="2.9" height="2.7" fill-opacity="0.70"/>
<rect x="859.2" y="396.0" width="2.9" height="4.0" fill-opacity="0.92"/>
<rect x="863.2" y="390.2" width="4.1" height="8.8" fill-opacity="0.60"/>
<rect x="863.2" y="389.9" width="3.3" height="2.7" fill-opacity="0.90"/>
<rect x="863.2" y="392.6" width="3.3" height="2.7" fill-opacity="0.70"/>
<rect x="863.2" y="395.3" width="3.3" height="4.0" fill-opacity="0.92"/>
<rect x="867.3" y="390.2" width="4.1" height="8.8" fill-opacity="0.60"/>
<rect x="867.3" y="389.9" width="3.3" height="2.7" fill-opacity="0.90"/>
<rect x="867.3" y="392.6" width="3.3" height="2.7" fill-opacity="0.70"/>
<rect x="867.3" y="395.3" width="3.3" height="4.0" fill-opacity="0.92"/>
<rect x="871.4" y="390.2" width="4.1" height="8.8" fill-opacity="0.60"/>
<rect x="871.4" y="389.9" width="3.3" height="2.7" fill-opacity="0.90"/>
<rect x="871.4" y="392.6" width="3.3" height="2.7" fill-opacity="0.70"/>
<rect x="871.4" y="395.3" width="3.3" height="4.0" fill-opacity="0.92"/>
<rect x="875.5" y="390.2" width="4.1" height="8.8" fill-opacity="0.60"/>
<rect x="875.5" y="389.9" width="3.3" height="2.7" fill-opacity="0.90"/>
<rect x="875.5" y="392.6" width="3.3" height="2.7" fill-opacity="0.70"/>
<rect x="875.5" y="395.3" width="3.3" height="4.0" fill-opacity="0.92"/>
<rect x="879.5" y="390.2" width="4.1" height="8.8" fill-opacity="0.60"/>
<rect x="879.5" y="389.9" width="3.3" height="2.7" fill-opacity="0.90"/>
<rect x="879.5" y="392.6" width="3.3" height="2.7" fill-opacity="0.70"/>
<rect x="879.5" y="395.3" width="3.3" height="4.0" fill-opacity="0.92"/>
<rect x="883.6" y="389.9" width="2.9" height="2.7" fill-opacity="0.90"/>
<rect x="883.6" y="392.6" width="2.9" height="2.7" fill-opacity="0.70"/>
<rect x="883.6" y="395.3" width="2.9" height="4.0" fill-opacity="0.92"/>
<rect x="887.7" y="390.5" width="4.1" height="8.8" fill-opacity="0.60"/>
<rect x="887.7" y="390.2" width="3.3" height="2.7" fill-opacity="0.90"/>
<rect x="887.7" y="392.9" width="3.3" height="2.7" fill-opacity="0.70"/>
<rect x="887.7" y="395.6" width="3.3" height="4.0" fill-opacity="0.92"/>
<rect x="891.7" y="390.5" width="4.1" height="8.8" fill-opacity="0.60"/>
<rect x="891.7" y="390.2" width="3.3" height="2.7" fill-opacity="0.90"/>
<rect x="891.7" y="392.9" width="3.3" height="2.7" fill-opacity="0.70"/>
<rect x="891.7" y="395.6" width="3.3" height="4.0" fill-opacity="0.92"/>
<rect x="895.8" y="390.5" width="4.1" height="8.8" fill-opacity="0.60"/>
<rect x="895.8" y="390.2" width="3.3" height="2.7" fill-opacity="0.90"/>
<rect x="895.8" y="392.9" width="3.3" height="2.7" fill-opacity="0.70"/>
<rect x="895.8" y="395.6" width="3.3" height="4.0" fill-opacity="0.92"/>
<rect x="899.9" y="390.5" width="4.1" height="8.8" fill-opacity="0.60"/>
<rect x="899.9" y="390.2" width="3.3" height="2.7" fill-opacity="0.90"/>
<rect x="899.9" y="392.9" width="3.3" height="2.7" fill-opacity="0.70"/>
<rect x="899.9" y="395.6" width="3.3" height="4.0" fill-opacity="0.92"/>
<rect x="904.0" y="390.2" width="2.9" height="2.7" fill-opacity="0.90"/>
<rect x="904.0" y="392.9" width="2.9" height="2.7" fill-opacity="0.70"/>
<rect x="904.0" y="395.6" width="2.9" height="4.0" fill-opacity="0.92"/>
<rect x="908.0" y="391.0" width="4.1" height="8.8" fill-opacity="0.60"/>
<rect x="908.0" y="390.7" width="3.3" height="2.7" fill-opacity="0.90"/>
<rect x="908.0" y="393.4" width="3.3" height="2.7" fill-opacity="0.70"/>
<rect x="908.0" y="396.1" width="3.3" height="4.0" fill-opacity="0.92"/>
<rect x="912.1" y="391.0" width="4.1" height="8.8" fill-opacity="0.60"/>
<rect x="912.1" y="390.7" width="3.3" height="2.7" fill-opacity="0.90"/>
<rect x="912.1" y="393.4" width="3.3" height="2.7" fill-opacity="0.70"/>
<rect x="912.1" y="396.1" width="3.3" height="4.0" fill-opacity="0.92"/>
<rect x="916.2" y="391.0" width="4.1" height="8.8" fill-opacity="0.60"/>
<rect x="916.2" y="390.7" width="3.3" height="2.7" fill-opacity="0.90"/>
<rect x="916.2" y="393.4" width="3.3" height="2.7" fill-opacity="0.70"/>
<rect x="916.2" y="396.1" width="3.3" height="4.0" fill-opacity="0.92"/>
<rect x="920.3" y="391.0" width="4.1" height="8.8" fill-opacity="0.60"/>
<rect x="920.3" y="390.7" width="3.3" height="2.7" fill-opacity="0.90"/>
<rect x="920.3" y="393.4" width="3.3" height="2.7" fill-opacity="0.70"/>
<rect x="920.3" y="396.1" width="3.3" height="4.0" fill-opacity="0.92"/>
<rect x="924.3" y="390.7" width="2.9" height="2.7" fill-opacity="0.90"/>
<rect x="924.3" y="393.4" width="2.9" height="2.7" fill-opacity="0.70"/>
<rect x="924.3" y="396.1" width="2.9" height="4.0" fill-opacity="0.92"/>
<rect x="928.4" y="390.8" width="4.1" height="8.8" fill-opacity="0.60"/>
<rect x="928.4" y="390.5" width="3.3" height="2.7" fill-opacity="0.90"/>
<rect x="928.4" y="393.2" width="3.3" height="2.7" fill-opacity="0.70"/>
<rect x="928.4" y="395.9" width="3.3" height="4.0" fill-opacity="0.92"/>
<rect x="932.5" y="390.8" width="4.1" height="8.8" fill-opacity="0.60"/>
<rect x="932.5" y="390.5" width="3.3" height="2.7" fill-opacity="0.90"/>
<rect x="932.5" y="393.2" width="3.3" height="2.7" fill-opacity="0.70"/>
<rect x="932.5" y="395.9" width="3.3" height="4.0" fill-opacity="0.92"/>
<rect x="936.5" y="390.8" width="4.1" height="8.8" fill-opacity="0.60"/>
<rect x="936.5" y="390.5" width="3.3" height="2.7" fill-opacity="0.90"/>
<rect x="936.5" y="393.2" width="3.3" height="2.7" fill-opacity="0.70"/>
<rect x="936.5" y="395.9" width="3.3" height="4.0" fill-opacity="0.92"/>
<rect x="940.6" y="390.8" width="4.1" height="8.8" fill-opacity="0.60"/>
<rect x="940.6" y="390.5" width="3.3" height="2.7" fill-opacity="0.90"/>
<rect x="940.6" y="393.2" width="3.3" height="2.7" fill-opacity="0.70"/>
<rect x="940.6" y="395.9" width="3.3" height="4.0" fill-opacity="0.92"/>
<rect x="944.7" y="390.5" width="2.9" height="2.7" fill-opacity="0.90"/>
<rect x="944.7" y="393.2" width="2.9" height="2.7" fill-opacity="0.70"/>
<rect x="944.7" y="395.9" width="2.9" height="4.0" fill-opacity="0.92"/>
<rect x="948.8" y="390.5" width="4.1" height="8.8" fill-opacity="0.60"/>
<rect x="948.8" y="390.2" width="3.3" height="2.7" fill-opacity="0.90"/>
<rect x="948.8" y="392.9" width="3.3" height="2.7" fill-opacity="0.70"/>
<rect x="948.8" y="395.6" width="3.3" height="4.0" fill-opacity="0.92"/>
<rect x="952.8" y="390.5" width="4.1" height="8.8" fill-opacity="0.60"/>
<rect x="952.8" y="390.2" width="3.3" height="2.7" fill-opacity="0.90"/>
<rect x="952.8" y="392.9" width="3.3" height="2.7" fill-opacity="0.70"/>
<rect x="952.8" y="395.6" width="3.3" height="4.0" fill-opacity="0.92"/>
<rect x="956.9" y="390.5" width="4.1" height="8.8" fill-opacity="0.60"/>
<rect x="956.9" y="390.2" width="3.3" height="2.7" fill-opacity="0.90"/>
<rect x="956.9" y="392.9" width="3.3" height="2.7" fill-opacity="0.70"/>
<rect x="956.9" y="395.6" width="3.3" height="4.0" fill-opacity="0.92"/>
<rect x="961.0" y="390.5" width="4.1" height="8.8" fill-opacity="0.60"/>
<rect x="961.0" y="390.2" width="3.3" height="2.7" fill-opacity="0.90"/>
<rect x="961.0" y="392.9" width="3.3" height="2.7" fill-opacity="0.70"/>
<rect x="961.0" y="395.6" width="3.3" height="4.0" fill-opacity="0.92"/>
<rect x="965.0" y="390.5" width="4.1" height="8.8" fill-opacity="0.60"/>
<rect x="965.0" y="390.2" width="3.3" height="2.7" fill-opacity="0.90"/>
<rect x="965.0" y="392.9" width="3.3" height="2.7" fill-opacity="0.70"/>
<rect x="965.0" y="395.6" width="3.3" height="4.0" fill-opacity="0.92"/>
<rect x="969.1" y="390.2" width="1.9" height="2.7" fill-opacity="0.90"/>
<rect x="969.1" y="392.9" width="1.9" height="2.7" fill-opacity="0.70"/>
<rect x="969.1" y="395.6" width="1.9" height="4.0" fill-opacity="0.92"/>
<rect x="989.5" y="390.3" width="2.9" height="2.7" fill-opacity="0.90"/>
<rect x="989.5" y="393.0" width="2.9" height="2.7" fill-opacity="0.70"/>
<rect x="989.5" y="395.7" width="2.9" height="4.0" fill-opacity="0.92"/>
<rect x="993.6" y="390.4" width="4.1" height="8.8" fill-opacity="0.60"/>
<rect x="993.6" y="390.1" width="3.3" height="2.7" fill-opacity="0.90"/>
<rect x="993.6" y="392.8" width="3.3" height="2.7" fill-opacity="0.70"/>
<rect x="993.6" y="395.5" width="3.3" height="4.0" fill-opacity="0.92"/>
<rect x="997.6" y="390.4" width="4.1" height="8.8" fill-opacity="0.60"/>
<rect x="997.6" y="390.1" width="3.3" height="2.7" fill-opacity="0.90"/>
<rect x="997.6" y="392.8" width="3.3" height="2.7" fill-opacity="0.70"/>
<rect x="997.6" y="395.5" width="3.3" height="4.0" fill-opacity="0.92"/>
<rect x="1001.7" y="390.4" width="4.1" height="8.8" fill-opacity="0.60"/>
<rect x="1001.7" y="390.1" width="3.3" height="2.7" fill-opacity="0.90"/>
<rect x="1001.7" y="392.8" width="3.3" height="2.7" fill-opacity="0.70"/>
<rect x="1001.7" y="395.5" width="3.3" height="4.0" fill-opacity="0.92"/>
<rect x="1005.8" y="390.4" width="4.1" height="8.8" fill-opacity="0.60"/>
<rect x="1005.8" y="390.1" width="3.3" height="2.7" fill-opacity="0.90"/>
<rect x="1005.8" y="392.8" width="3.3" height="2.7" fill-opacity="0.70"/>
<rect x="1005.8" y="395.5" width="3.3" height="4.0" fill-opacity="0.92"/>
<rect x="1009.8" y="390.1" width="2.9" height="2.7" fill-opacity="0.90"/>
<rect x="1009.8" y="392.8" width="2.9" height="2.7" fill-opacity="0.70"/>
<rect x="1009.8" y="395.5" width="2.9" height="4.0" fill-opacity="0.92"/>
<rect x="1013.9" y="390.5" width="4.1" height="8.8" fill-opacity="0.60"/>
<rect x="1013.9" y="390.2" width="3.3" height="2.7" fill-opacity="0.90"/>
<rect x="1013.9" y="392.9" width="3.3" height="2.7" fill-opacity="0.70"/>
<rect x="1013.9" y="395.6" width="3.3" height="4.0" fill-opacity="0.92"/>
<rect x="1018.0" y="390.5" width="4.1" height="8.8" fill-opacity="0.60"/>
<rect x="1018.0" y="390.2" width="3.3" height="2.7" fill-opacity="0.90"/>
<rect x="1018.0" y="392.9" width="3.3" height="2.7" fill-opacity="0.70"/>
<rect x="1018.0" y="395.6" width="3.3" height="4.0" fill-opacity="0.92"/>
<rect x="1022.1" y="390.5" width="4.1" height="8.8" fill-opacity="0.60"/>
<rect x="1022.1" y="390.2" width="3.3" height="2.7" fill-opacity="0.90"/>
<rect x="1022.1" y="392.9" width="3.3" height="2.7" fill-opacity="0.70"/>
<rect x="1022.1" y="395.6" width="3.3" height="4.0" fill-opacity="0.92"/>
<rect x="1026.1" y="390.5" width="4.1" height="8.8" fill-opacity="0.60"/>
<rect x="1026.1" y="390.2" width="3.3" height="2.7" fill-opacity="0.90"/>
<rect x="1026.1" y="392.9" width="3.3" height="2.7" fill-opacity="0.70"/>
<rect x="1026.1" y="395.6" width="3.3" height="4.0" fill-opacity="0.92"/>
<rect x="1030.2" y="390.5" width="4.1" height="8.8" fill-opacity="0.60"/>
<rect x="1030.2" y="390.2" width="3.3" height="2.7" fill-opacity="0.90"/>
<rect x="1030.2" y="392.9" width="3.3" height="2.7" fill-opacity="0.70"/>
<rect x="1030.2" y="395.6" width="3.3" height="4.0" fill-opacity="0.92"/>
<rect x="1034.3" y="390.2" width="2.9" height="2.7" fill-opacity="0.90"/>
<rect x="1034.3" y="392.9" width="2.9" height="2.7" fill-opacity="0.70"/>
<rect x="1034.3" y="395.6" width="2.9" height="4.0" fill-opacity="0.92"/>
<rect x="1038.4" y="390.3" width="4.1" height="8.8" fill-opacity="0.60"/>
<rect x="1038.4" y="390.0" width="3.3" height="2.7" fill-opacity="0.90"/>
<rect x="1038.4" y="392.7" width="3.3" height="2.7" fill-opacity="0.70"/>
<rect x="1038.4" y="395.4" width="3.3" height="4.0" fill-opacity="0.92"/>
<rect x="1042.4" y="390.3" width="4.1" height="8.8" fill-opacity="0.60"/>
<rect x="1042.4" y="390.0" width="3.3" height="2.7" fill-opacity="0.90"/>
<rect x="1042.4" y="392.7" width="3.3" height="2.7" fill-opacity="0.70"/>
<rect x="1042.4" y="395.4" width="3.3" height="4.0" fill-opacity="0.92"/>
<rect x="1046.5" y="390.3" width="4.1" height="8.8" fill-opacity="0.60"/>
<rect x="1046.5" y="390.0" width="3.3" height="2.7" fill-opacity="0.90"/>
<rect x="1046.5" y="392.7" width="3.3" height="2.7" fill-opacity="0.70"/>
<rect x="1046.5" y="395.4" width="3.3" height="4.0" fill-opacity="0.92"/>
<rect x="1050.6" y="390.3" width="4.1" height="8.8" fill-opacity="0.60"/>
<rect x="1050.6" y="390.0" width="3.3" height="2.7" fill-opacity="0.90"/>
<rect x="1050.6" y="392.7" width="3.3" height="2.7" fill-opacity="0.70"/>
<rect x="1050.6" y="395.4" width="3.3" height="4.0" fill-opacity="0.92"/>
<rect x="1054.6" y="390.0" width="2.9" height="2.7" fill-opacity="0.90"/>
<rect x="1054.6" y="392.7" width="2.9" height="2.7" fill-opacity="0.70"/>
<rect x="1054.6" y="395.4" width="2.9" height="4.0" fill-opacity="0.92"/>
<rect x="1058.7" y="390.2" width="4.1" height="8.8" fill-opacity="0.60"/>
<rect x="1058.7" y="389.9" width="3.3" height="2.7" fill-opacity="0.90"/>
<rect x="1058.7" y="392.6" width="3.3" height="2.7" fill-opacity="0.70"/>
<rect x="1058.7" y="395.3" width="3.3" height="4.0" fill-opacity="0.92"/>
<rect x="1062.8" y="390.2" width="4.1" height="8.8" fill-opacity="0.60"/>
<rect x="1062.8" y="389.9" width="3.3" height="2.7" fill-opacity="0.90"/>
<rect x="1062.8" y="392.6" width="3.3" height="2.7" fill-opacity="0.70"/>
<rect x="1062.8" y="395.3" width="3.3" height="4.0" fill-opacity="0.92"/>
<rect x="1066.9" y="390.2" width="4.1" height="8.8" fill-opacity="0.60"/>
<rect x="1066.9" y="389.9" width="3.3" height="2.7" fill-opacity="0.90"/>
<rect x="1066.9" y="392.6" width="3.3" height="2.7" fill-opacity="0.70"/>
<rect x="1066.9" y="395.3" width="3.3" height="4.0" fill-opacity="0.92"/>
<rect x="1070.9" y="390.2" width="4.1" height="8.8" fill-opacity="0.60"/>
<rect x="1070.9" y="389.9" width="3.3" height="2.7" fill-opacity="0.90"/>
<rect x="1070.9" y="392.6" width="3.3" height="2.7" fill-opacity="0.70"/>
<rect x="1070.9" y="395.3" width="3.3" height="4.0" fill-opacity="0.92"/>
<rect x="1075.0" y="389.9" width="2.9" height="2.7" fill-opacity="0.90"/>
<rect x="1075.0" y="392.6" width="2.9" height="2.7" fill-opacity="0.70"/>
<rect x="1075.0" y="395.3" width="2.9" height="4.0" fill-opacity="0.92"/>
<rect x="1079.1" y="390.1" width="4.1" height="8.8" fill-opacity="0.60"/>
<rect x="1079.1" y="389.8" width="3.3" height="2.7" fill-opacity="0.90"/>
<rect x="1079.1" y="392.5" width="3.3" height="2.7" fill-opacity="0.70"/>
<rect x="1079.1" y="395.2" width="3.3" height="4.0" fill-opacity="0.92"/>
<rect x="1083.2" y="390.1" width="4.1" height="8.8" fill-opacity="0.60"/>
<rect x="1083.2" y="389.8" width="3.3" height="2.7" fill-opacity="0.90"/>
<rect x="1083.2" y="392.5" width="3.3" height="2.7" fill-opacity="0.70"/>
<rect x="1083.2" y="395.2" width="3.3" height="4.0" fill-opacity="0.92"/>
<rect x="1087.2" y="390.1" width="4.1" height="8.8" fill-opacity="0.60"/>
<rect x="1087.2" y="389.8" width="3.3" height="2.7" fill-opacity="0.90"/>
<rect x="1087.2" y="392.5" width="3.3" height="2.7" fill-opacity="0.70"/>
<rect x="1087.2" y="395.2" width="3.3" height="4.0" fill-opacity="0.92"/>
<rect x="1091.3" y="390.1" width="4.1" height="8.8" fill-opacity="0.60"/>
<rect x="1091.3" y="389.8" width="3.3" height="2.7" fill-opacity="0.90"/>
<rect x="1091.3" y="392.5" width="3.3" height="2.7" fill-opacity="0.70"/>
<rect x="1091.3" y="395.2" width="3.3" height="4.0" fill-opacity="0.92"/>
<rect x="1095.4" y="390.1" width="4.1" height="8.8" fill-opacity="0.60"/>
<rect x="1095.4" y="389.8" width="3.3" height="2.7" fill-opacity="0.90"/>
<rect x="1095.4" y="392.5" width="3.3" height="2.7" fill-opacity="0.70"/>
<rect x="1095.4" y="395.2" width="3.3" height="4.0" fill-opacity="0.92"/>
<rect x="1099.4" y="389.8" width="2.9" height="2.7" fill-opacity="0.90"/>
<rect x="1099.4" y="392.5" width="2.9" height="2.7" fill-opacity="0.70"/>
<rect x="1099.4" y="395.2" width="2.9" height="4.0" fill-opacity="0.92"/>
<rect x="1103.5" y="391.0" width="4.1" height="8.8" fill-opacity="0.60"/>
<rect x="1103.5" y="390.7" width="3.3" height="2.7" fill-opacity="0.90"/>
<rect x="1103.5" y="393.4" width="3.3" height="2.7" fill-opacity="0.70"/>
<rect x="1103.5" y="396.1" width="3.3" height="4.0" fill-opacity="0.92"/>
<rect x="1107.6" y="391.0" width="4.1" height="8.8" fill-opacity="0.60"/>
<rect x="1107.6" y="390.7" width="3.3" height="2.7" fill-opacity="0.90"/>
<rect x="1107.6" y="393.4" width="3.3" height="2.7" fill-opacity="0.70"/>
<rect x="1107.6" y="396.1" width="3.3" height="4.0" fill-opacity="0.92"/>
<rect x="1111.7" y="391.0" width="4.1" height="8.8" fill-opacity="0.60"/>
<rect x="1111.7" y="390.7" width="3.3" height="2.7" fill-opacity="0.90"/>
<rect x="1111.7" y="393.4" width="3.3" height="2.7" fill-opacity="0.70"/>
<rect x="1111.7" y="396.1" width="3.3" height="4.0" fill-opacity="0.92"/>
<rect x="1115.7" y="391.0" width="4.1" height="8.8" fill-opacity="0.60"/>
<rect x="1115.7" y="390.7" width="3.3" height="2.7" fill-opacity="0.90"/>
<rect x="1115.7" y="393.4" width="3.3" height="2.7" fill-opacity="0.70"/>
<rect x="1115.7" y="396.1" width="3.3" height="4.0" fill-opacity="0.92"/>
<rect x="1119.8" y="390.7" width="2.9" height="2.7" fill-opacity="0.90"/>
<rect x="1119.8" y="393.4" width="2.9" height="2.7" fill-opacity="0.70"/>
<rect x="1119.8" y="396.1" width="2.9" height="4.0" fill-opacity="0.92"/>
<rect x="1123.9" y="390.4" width="4.1" height="8.8" fill-opacity="0.60"/>
<rect x="1123.9" y="390.1" width="3.3" height="2.7" fill-opacity="0.90"/>
<rect x="1123.9" y="392.8" width="3.3" height="2.7" fill-opacity="0.70"/>
<rect x="1123.9" y="395.5" width="3.3" height="4.0" fill-opacity="0.92"/>
<rect x="1127.9" y="390.4" width="4.1" height="8.8" fill-opacity="0.60"/>
<rect x="1127.9" y="390.1" width="3.3" height="2.7" fill-opacity="0.90"/>
<rect x="1127.9" y="392.8" width="3.3" height="2.7" fill-opacity="0.70"/>
<rect x="1127.9" y="395.5" width="3.3" height="4.0" fill-opacity="0.92"/>
<rect x="1132.0" y="390.4" width="4.1" height="8.8" fill-opacity="0.60"/>
<rect x="1132.0" y="390.1" width="3.3" height="2.7" fill-opacity="0.90"/>
<rect x="1132.0" y="392.8" width="3.3" height="2.7" fill-opacity="0.70"/>
<rect x="1132.0" y="395.5" width="3.3" height="4.0" fill-opacity="0.92"/>
<rect x="1136.1" y="390.4" width="4.1" height="8.8" fill-opacity="0.60"/>
<rect x="1136.1" y="390.1" width="3.3" height="2.7" fill-opacity="0.90"/>
<rect x="1136.1" y="392.8" width="3.3" height="2.7" fill-opacity="0.70"/>
<rect x="1136.1" y="395.5" width="3.3" height="4.0" fill-opacity="0.92"/>
<rect x="1140.2" y="390.1" width="2.9" height="2.7" fill-opacity="0.90"/>
<rect x="1140.2" y="392.8" width="2.9" height="2.7" fill-opacity="0.70"/>
<rect x="1140.2" y="395.5" width="2.9" height="4.0" fill-opacity="0.92"/>
<rect x="1144.2" y="390.7" width="4.1" height="8.8" fill-opacity="0.60"/>
<rect x="1144.2" y="390.4" width="3.3" height="2.7" fill-opacity="0.90"/>
<rect x="1144.2" y="393.1" width="3.3" height="2.7" fill-opacity="0.70"/>
<rect x="1144.2" y="395.8" width="3.3" height="4.0" fill-opacity="0.92"/>
<rect x="1148.3" y="390.7" width="4.1" height="8.8" fill-opacity="0.60"/>
<rect x="1148.3" y="390.4" width="3.3" height="2.7" fill-opacity="0.90"/>
<rect x="1148.3" y="393.1" width="3.3" height="2.7" fill-opacity="0.70"/>
<rect x="1148.3" y="395.8" width="3.3" height="4.0" fill-opacity="0.92"/>
<rect x="1152.4" y="390.7" width="4.1" height="8.8" fill-opacity="0.60"/>
<rect x="1152.4" y="390.4" width="3.3" height="2.7" fill-opacity="0.90"/>
<rect x="1152.4" y="393.1" width="3.3" height="2.7" fill-opacity="0.70"/>
<rect x="1152.4" y="395.8" width="3.3" height="4.0" fill-opacity="0.92"/>
<rect x="1156.5" y="390.7" width="4.1" height="8.8" fill-opacity="0.60"/>
<rect x="1156.5" y="390.4" width="3.3" height="2.7" fill-opacity="0.90"/>
<rect x="1156.5" y="393.1" width="3.3" height="2.7" fill-opacity="0.70"/>
<rect x="1156.5" y="395.8" width="3.3" height="4.0" fill-opacity="0.92"/>
<rect x="1160.5" y="390.7" width="4.1" height="8.8" fill-opacity="0.60"/>
<rect x="1160.5" y="390.4" width="3.3" height="2.7" fill-opacity="0.90"/>
<rect x="1160.5" y="393.1" width="3.3" height="2.7" fill-opacity="0.70"/>
<rect x="1160.5" y="395.8" width="3.3" height="4.0" fill-opacity="0.92"/>
<rect x="1164.6" y="390.4" width="2.9" height="2.7" fill-opacity="0.90"/>
<rect x="1164.6" y="393.1" width="2.9" height="2.7" fill-opacity="0.70"/>
<rect x="1164.6" y="395.8" width="2.9" height="4.0" fill-opacity="0.92"/>
<rect x="1168.7" y="391.1" width="4.1" height="8.8" fill-opacity="0.60"/>
<rect x="1168.7" y="390.8" width="3.3" height="2.7" fill-opacity="0.90"/>
<rect x="1168.7" y="393.5" width="3.3" height="2.7" fill-opacity="0.70"/>
<rect x="1168.7" y="396.2" width="3.3" height="4.0" fill-opacity="0.92"/>
<rect x="1172.7" y="391.1" width="4.1" height="8.8" fill-opacity="0.60"/>
<rect x="1172.7" y="390.8" width="3.3" height="2.7" fill-opacity="0.90"/>
<rect x="1172.7" y="393.5" width="3.3" height="2.7" fill-opacity="0.70"/>
<rect x="1172.7" y="396.2" width="3.3" height="4.0" fill-opacity="0.92"/>
<rect x="1176.8" y="391.1" width="4.1" height="8.8" fill-opacity="0.60"/>
<rect x="1176.8" y="390.8" width="3.3" height="2.7" fill-opacity="0.90"/>
<rect x="1176.8" y="393.5" width="3.3" height="2.7" fill-opacity="0.70"/>
<rect x="1176.8" y="396.2" width="3.3" height="4.0" fill-opacity="0.92"/>
<rect x="270.5" y="422.8" width="1.2" height="7.2" fill-opacity="0.90"/>
<rect x="272.1" y="424.2" width="11.9" height="6.8" fill-opacity="0.95"/>
<rect x="308.0" y="422.8" width="1.3" height="6.8" fill-opacity="0.85"/>
<rect x="309.4" y="423.5" width="1.3" height="6.8" fill-opacity="0.85"/>
<rect x="310.9" y="424.2" width="1.3" height="6.8" fill-opacity="0.85"/>
<rect x="312.4" y="424.9" width="1.3" height="6.8" fill-opacity="0.85"/>
<rect x="313.8" y="425.6" width="1.3" height="6.8" fill-opacity="0.85"/>
<rect x="315.2" y="426.3" width="1.3" height="6.8" fill-opacity="0.85"/>
<rect x="341.4" y="422.8" width="1.2" height="7.2" fill-opacity="0.90"/>
<rect x="343.0" y="424.2" width="7.4" height="6.8" fill-opacity="0.95"/>
<rect x="376.0" y="423.1" width="4.2" height="3.4" fill-opacity="0.95"/>
<rect x="380.6" y="423.3" width="3.8" height="3.4" fill-opacity="0.95"/>
<rect x="384.8" y="423.3" width="4.2" height="3.4" fill-opacity="0.95"/>
<rect x="389.4" y="423.2" width="5.7" height="3.4" fill-opacity="0.95"/>
<rect x="395.6" y="423.1" width="4.8" height="3.4" fill-opacity="0.95"/>
<rect x="455.0" y="422.8" width="1.2" height="7.2" fill-opacity="0.90"/>
<rect x="456.6" y="424.2" width="11.4" height="6.8" fill-opacity="0.95"/>
<rect x="492.0" y="422.8" width="1.3" height="6.8" fill-opacity="0.85"/>
<rect x="493.4" y="423.5" width="1.3" height="6.8" fill-opacity="0.85"/>
<rect x="494.9" y="424.2" width="1.3" height="6.8" fill-opacity="0.85"/>
<rect x="496.4" y="424.9" width="1.3" height="6.8" fill-opacity="0.85"/>
<rect x="497.8" y="425.6" width="1.3" height="6.8" fill-opacity="0.85"/>
<rect x="499.2" y="426.3" width="1.3" height="6.8" fill-opacity="0.85"/>
<rect x="744.3" y="422.8" width="1.2" height="7.2" fill-opacity="0.90"/>
<rect x="745.9" y="424.2" width="7.1" height="6.8" fill-opacity="0.95"/>
<rect x="778.0" y="421.8" width="1.2" height="4.6" fill-opacity="0.90"/>
<rect x="786.0" y="423.2" width="4.2" height="3.4" fill-opacity="0.95"/>
<rect x="790.7" y="423.3" width="3.6" height="3.4" fill-opacity="0.95"/>
<rect x="794.9" y="423.4" width="4.1" height="3.4" fill-opacity="0.95"/>
<rect x="799.5" y="423.2" width="4.5" height="3.4" fill-opacity="0.95"/>
<rect x="857.0" y="422.8" width="1.2" height="7.2" fill-opacity="0.90"/>
<rect x="858.6" y="424.2" width="12.4" height="6.8" fill-opacity="0.95"/>
<rect x="895.0" y="422.8" width="1.3" height="6.8" fill-opacity="0.85"/>
<rect x="896.4" y="423.5" width="1.3" height="6.8" fill-opacity="0.85"/>
<rect x="897.9" y="424.2" width="1.3" height="6.8" fill-opacity="0.85"/>
<rect x="899.3" y="424.9" width="1.3" height="6.8" fill-opacity="0.85"/>
<rect x="900.7" y="425.6" width="1.3" height="6.8" fill-opacity="0.85"/>
<rect x="902.2" y="426.3" width="1.3" height="6.8" fill-opacity="0.85"/>
<rect x="270.5" y="493.8" width="1.2" height="7.2" fill-opacity="0.90"/>
<rect x="272.1" y="495.2" width="11.9" height="6.8" fill-opacity="0.95"/>
<rect x="308.0" y="493.8" width="1.3" height="6.8" fill-opacity="0.85"/>
<rect x="309.4" y="494.5" width="1.3" height="6.8" fill-opacity="0.85"/>
<rect x="310.9" y="495.2" width="1.3" height="6.8" fill-opacity="0.85"/>
<rect x="312.4" y="495.9" width="1.3" height="6.8" fill-opacity="0.85"/>
<rect x="313.8" y="496.6" width="1.3" height="6.8" fill-opacity="0.85"/>
<rect x="315.2" y="497.3" width="1.3" height="6.8" fill-opacity="0.85"/>
<rect x="341.4" y="493.8" width="1.2" height="7.2" fill-opacity="0.90"/>
<rect x="343.0" y="495.2" width="7.4" height="6.8" fill-opacity="0.95"/>
<rect x="376.0" y="494.0" width="3.9" height="3.4" fill-opacity="0.95"/>
<rect x="380.2" y="494.2" width="5.8" height="3.4" fill-opacity="0.95"/>
<rect x="386.5" y="494.2" width="5.6" height="3.4" fill-opacity="0.95"/>
<rect x="392.8" y="494.1" width="4.1" height="3.4" fill-opacity="0.95"/>
<rect x="397.5" y="494.3" width="3.3" height="3.4" fill-opacity="0.95"/>
<rect x="455.0" y="493.8" width="1.2" height="7.2" fill-opacity="0.90"/>
<rect x="456.6" y="495.2" width="11.4" height="6.8" fill-opacity="0.95"/>
<rect x="492.0" y="493.8" width="1.3" height="6.8" fill-opacity="0.85"/>
<rect x="493.4" y="494.5" width="1.3" height="6.8" fill-opacity="0.85"/>
<rect x="494.9" y="495.2" width="1.3" height="6.8" fill-opacity="0.85"/>
<rect x="496.4" y="495.9" width="1.3" height="6.8" fill-opacity="0.85"/>
<rect x="497.8" y="496.6" width="1.3" height="6.8" fill-opacity="0.85"/>
<rect x="499.2" y="497.3" width="1.3" height="6.8" fill-opacity="0.85"/>
<rect x="744.3" y="493.8" width="1.2" height="7.2" fill-opacity="0.90"/>
<rect x="745.9" y="495.2" width="7.1" height="6.8" fill-opacity="0.95"/>
<rect x="778.0" y="492.8" width="1.2" height="4.6" fill-opacity="0.90"/>
<rect x="786.0" y="494.4" width="5.8" height="3.4" fill-opacity="0.95"/>
<rect x="792.4" y="494.0" width="3.3" height="3.4" fill-opacity="0.95"/>
<rect x="796.1" y="494.0" width="5.4" height="3.4" fill-opacity="0.95"/>
<rect x="801.9" y="494.1" width="2.1" height="3.4" fill-opacity="0.95"/>
<rect x="857.0" y="493.8" width="1.2" height="7.2" fill-opacity="0.90"/>
<rect x="858.6" y="495.2" width="12.4" height="6.8" fill-opacity="0.95"/>
<rect x="895.0" y="493.8" width="1.3" height="6.8" fill-opacity="0.85"/>
<rect x="896.4" y="494.5" width="1.3" height="6.8" fill-opacity="0.85"/>
<rect x="897.9" y="495.2" width="1.3" height="6.8" fill-opacity="0.85"/>
<rect x="899.3" y="495.9" width="1.3" height="6.8" fill-opacity="0.85"/>
<rect x="900.7" y="496.6" width="1.3" height="6.8" fill-opacity="0.85"/>
<rect x="902.2" y="497.3" width="1.3" height="6.8" fill-opacity="0.85"/>
<rect x="440.8" y="467.4" width="2.0" height="3.4" fill-opacity="0.85"/>
<rect x="508.6" y="468.2" width="1.8" height="3.4" fill-opacity="0.85"/>
<rect x="645.8" y="468.4" width="1.8" height="3.4" fill-opacity="0.85"/>
<rect x="702.4" y="466.8" width="7.6" height="3.1" fill-opacity="0.97"/>
<rect x="843.2" y="466.8" width="2.2" height="3.2" fill-opacity="0.85"/>
<rect x="910.8" y="467.6" width="1.8" height="3.4" fill-opacity="0.85"/>
<rect x="1048.6" y="468.2" width="2.0" height="3.4" fill-opacity="0.85"/>
<rect x="1105.2" y="467.0" width="6.4" height="2.9" fill-opacity="0.97"/>
<rect x="436.9" y="531.8" width="2.7" height="6.0" fill-opacity="0.97"/>
<rect x="442.0" y="532.3" width="21.8" height="4.3" fill-opacity="0.97"/>
<rect x="442.0" y="535.1" width="4.5" height="3.0" fill-opacity="0.97"/>
<rect x="447.0" y="534.8" width="5.9" height="3.0" fill-opacity="0.97"/>
<rect x="453.4" y="535.0" width="4.3" height="3.0" fill-opacity="0.97"/>
<rect x="458.7" y="535.2" width="4.6" height="3.0" fill-opacity="0.97"/>
<rect x="467.2" y="532.3" width="30.3" height="4.5" fill-opacity="0.97"/>
<rect x="467.2" y="536.0" width="22.8" height="1.9" fill-opacity="0.97"/>
<rect x="504.1" y="531.8" width="2.7" height="6.0" fill-opacity="0.97"/>
<rect x="508.8" y="532.3" width="21.5" height="4.3" fill-opacity="0.97"/>
<rect x="508.8" y="535.3" width="3.9" height="3.0" fill-opacity="0.97"/>
<rect x="513.5" y="535.2" width="5.7" height="3.0" fill-opacity="0.97"/>
<rect x="520.0" y="534.9" width="3.8" height="3.0" fill-opacity="0.97"/>
<rect x="524.3" y="534.9" width="4.0" height="3.0" fill-opacity="0.97"/>
<rect x="528.9" y="535.3" width="1.4" height="3.0" fill-opacity="0.97"/>
<rect x="534.0" y="532.3" width="13.0" height="4.6" fill-opacity="0.97"/>
<rect x="545.0" y="533.8" width="19.3" height="4.5" fill-opacity="0.97"/>
<rect x="839.5" y="531.8" width="2.7" height="6.0" fill-opacity="0.97"/>
<rect x="844.6" y="532.3" width="21.8" height="4.3" fill-opacity="0.97"/>
<rect x="844.6" y="534.9" width="6.0" height="3.0" fill-opacity="0.97"/>
<rect x="851.6" y="534.8" width="4.1" height="3.0" fill-opacity="0.97"/>
<rect x="856.3" y="534.8" width="5.3" height="3.0" fill-opacity="0.97"/>
<rect x="862.1" y="535.3" width="4.3" height="3.0" fill-opacity="0.97"/>
<rect x="869.8" y="532.3" width="30.3" height="4.5" fill-opacity="0.97"/>
<rect x="869.8" y="536.0" width="22.8" height="1.9" fill-opacity="0.97"/>
<rect x="906.7" y="531.8" width="2.7" height="6.0" fill-opacity="0.97"/>
<rect x="911.4" y="532.3" width="21.5" height="4.3" fill-opacity="0.97"/>
<rect x="911.4" y="535.0" width="4.7" height="3.0" fill-opacity="0.97"/>
<rect x="916.6" y="535.4" width="6.1" height="3.0" fill-opacity="0.97"/>
<rect x="923.7" y="535.1" width="4.7" height="3.0" fill-opacity="0.97"/>
<rect x="929.0" y="535.2" width="3.9" height="3.0" fill-opacity="0.97"/>
<rect x="936.6" y="532.3" width="13.0" height="4.6" fill-opacity="0.97"/>
<rect x="947.6" y="533.8" width="19.3" height="4.5" fill-opacity="0.97"/>
</g>
<g fill="#fff">
<rect x="14" y="552.5" width="1" height="5.1"/>
<rect x="241" y="552.5" width="1" height="5.1"/>
<rect x="469" y="552.5" width="1" height="5.1"/>
<rect x="696" y="552.5" width="1" height="5.1"/>
<rect x="923" y="552.5" width="1" height="5.1"/>
<rect x="1150" y="552.5" width="1" height="5.1"/>
</g>
<g font-family="'DejaVu Sans','Liberation Sans',sans-serif" font-size="13.89px" fill="#fff" text-anchor="middle">
<text x="15.9" y="573.2">0</text>
<text x="241.2" y="573.2">50</text>
<text x="468.4" y="573.2">100</text>
<text x="695.5" y="573.2">150</text>
<text x="922.7" y="573.2">200</text>
<text x="1149.9" y="573.2">250</text>
<text x="597.9" y="591.6">Temps (secondes)</text>
</g>
<g font-family="'DejaVu Sans','Liberation Sans',sans-serif" font-weight="bold" font-size="19.44px" fill="#fff">
<text x="38.2" y="25">FngrBass</text>
<text x="38.2" y="61">SteelGtr</text>
<text x="38.2" y="96">CaliopLd</text>
<text x="38.2" y="132">AahChoir</text>
<text x="38.2" y="167">SynBass2</text>
<text x="38.2" y="203">Ensmble2</text>
<text x="38.2" y="238">Atmosphr</text>
<text x="38.2" y="274">SteelGtr</text>
<text x="38.2" y="310">GM Drums</text>
<text x="38.2" y="345">GrandPno</text>
<text x="38.2" y="381">SteelGtr</text>
<text x="38.2" y="416">SteelGtr</text>
<text x="38.2" y="452">Timpani</text>
<text x="38.2" y="487">SteelGtr</text>
<text x="38.2" y="523">AahChoir</text>
</g>
<g>
<ellipse cx="522.6" cy="575.55" rx="19.6" ry="10.3" fill="#3d3d3d"/>
<ellipse cx="570.6" cy="575.55" rx="19.6" ry="10.3" fill="#3d3d3d"/>
<ellipse cx="618.7" cy="575.55" rx="19.6" ry="10.3" fill="#3d3d3d"/>
<ellipse cx="666.7" cy="575.55" rx="19.6" ry="10.3" fill="#3d3d3d"/>
<path d="M515.8 570.5 L530.6 575.9 L515.8 581.4 Z" fill="none" stroke="#fff" stroke-width="3.1" stroke-linejoin="round"/>
<path d="M562.8 570.6 L583.0 575.7 L562.8 580.8" fill="none" stroke="#fff" stroke-width="3.1" stroke-linejoin="round"/>
<rect x="608.9" y="570.8" width="21" height="10.9" fill="#fff"/>
<path d="M674.9 570.5 L659.9 575.7 L674.9 581.4 Z" fill="none" stroke="#fff" stroke-width="3.1" stroke-linejoin="round"/>
</g>
</svg>
</body>
</html>
